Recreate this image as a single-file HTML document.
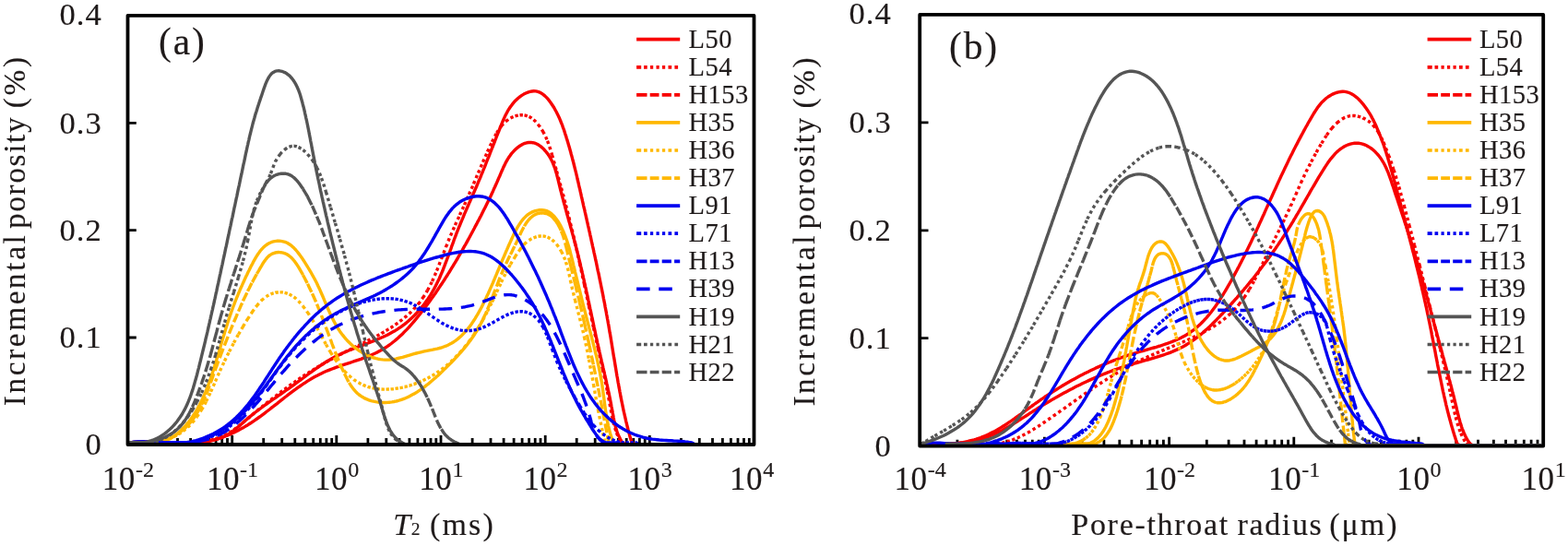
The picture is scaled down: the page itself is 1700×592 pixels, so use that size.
<!DOCTYPE html>
<html><head><meta charset="utf-8"><title>Incremental porosity</title><style>html,body{margin:0;padding:0;background:#fff;width:1700px;height:592px;overflow:hidden}</style></head><body>
<svg width="1700" height="592" viewBox="0 0 1700 592" style="position:absolute;left:0;top:0">
<rect width="1700" height="592" fill="#fff"/>
<g font-family="'Liberation Serif', 'Times New Roman', serif" fill="#1f1a1a" stroke="#1f1a1a" stroke-width="0.15">
<path d="M138.5 366.0H147.8M138.5 249.7H147.8M138.5 133.4H147.8M172.6 481.1V475.1M192.5 481.1V475.1M206.6 481.1V475.1M217.6 481.1V475.1M226.6 481.1V475.1M234.1 481.1V475.1M240.7 481.1V475.1M246.5 481.1V475.1M251.7 481.1V472.1M285.7 481.1V475.1M305.7 481.1V475.1M319.8 481.1V475.1M330.8 481.1V475.1M339.7 481.1V475.1M347.3 481.1V475.1M353.9 481.1V475.1M359.7 481.1V475.1M364.8 481.1V472.1M398.9 481.1V475.1M418.8 481.1V475.1M433.0 481.1V475.1M443.9 481.1V475.1M452.9 481.1V475.1M460.5 481.1V475.1M467.0 481.1V475.1M472.8 481.1V475.1M478.0 481.1V472.1M512.1 481.1V475.1M532.0 481.1V475.1M546.1 481.1V475.1M557.1 481.1V475.1M566.1 481.1V475.1M573.6 481.1V475.1M580.2 481.1V475.1M586.0 481.1V475.1M591.2 481.1V472.1M625.2 481.1V475.1M645.2 481.1V475.1M659.3 481.1V475.1M670.3 481.1V475.1M679.2 481.1V475.1M686.8 481.1V475.1M693.4 481.1V475.1M699.2 481.1V475.1M704.3 481.1V472.1M738.4 481.1V475.1M758.3 481.1V475.1M772.5 481.1V475.1M783.4 481.1V475.1M792.4 481.1V475.1M800.0 481.1V475.1M806.5 481.1V475.1M812.3 481.1V475.1" stroke="#000" stroke-width="2.8" fill="none"/>
<path d="M997.2 366.6H1006.5M997.2 249.8H1006.5M997.2 132.9H1006.5M1037.9 482.7V476.7M1061.7 482.7V476.7M1078.6 482.7V476.7M1091.7 482.7V476.7M1102.4 482.7V476.7M1111.5 482.7V476.7M1119.3 482.7V476.7M1126.2 482.7V476.7M1132.4 482.7V473.7M1173.1 482.7V476.7M1196.9 482.7V476.7M1213.8 482.7V476.7M1226.9 482.7V476.7M1237.6 482.7V476.7M1246.7 482.7V476.7M1254.5 482.7V476.7M1261.4 482.7V476.7M1267.6 482.7V473.7M1308.3 482.7V476.7M1332.1 482.7V476.7M1349.0 482.7V476.7M1362.1 482.7V476.7M1372.8 482.7V476.7M1381.9 482.7V476.7M1389.7 482.7V476.7M1396.6 482.7V476.7M1402.8 482.7V473.7M1443.5 482.7V476.7M1467.3 482.7V476.7M1484.2 482.7V476.7M1497.3 482.7V476.7M1508.0 482.7V476.7M1517.1 482.7V476.7M1524.9 482.7V476.7M1531.8 482.7V476.7M1538.0 482.7V473.7M1578.7 482.7V476.7M1602.5 482.7V476.7M1619.4 482.7V476.7M1632.5 482.7V476.7M1643.2 482.7V476.7M1652.3 482.7V476.7M1660.1 482.7V476.7M1667.0 482.7V476.7" stroke="#000" stroke-width="2.8" fill="none"/>
<path d="M140.0 480.0L142.5 479.9L145.0 479.8L147.5 479.7L150.0 479.6L152.5 479.6L155.0 479.6L157.5 479.6L160.0 479.6L162.5 479.6L165.0 479.6L167.5 479.7L170.1 479.7L172.6 479.8L175.1 479.9L177.6 479.9L180.1 480.0L182.6 480.0L185.1 480.0L187.7 480.0L190.2 480.0L192.7 480.0L195.2 480.0L197.8 480.0L200.3 480.0L202.8 480.0L205.3 480.0L207.8 479.9L210.4 479.8L212.9 479.7L215.4 479.5L218.0 479.2L220.5 479.0L223.0 478.7L225.5 478.3L227.9 477.9L230.4 477.4L232.8 476.8L235.2 476.1L237.5 475.4L239.8 474.6L242.1 473.6L244.2 472.6L246.4 471.4L248.5 470.2L250.5 468.8L252.5 467.4L254.5 465.9L256.4 464.3L258.3 462.7L260.2 461.1L262.1 459.4L264.0 457.8L265.9 456.1L267.8 454.4L269.7 452.8L271.7 451.2L273.6 449.6L275.6 448.0L277.6 446.5L279.6 445.0L281.6 443.5L283.6 442.0L285.6 440.5L287.6 439.0L289.7 437.5L291.7 436.1L293.8 434.7L295.8 433.2L297.9 431.8L300.0 430.3L302.0 428.9L304.1 427.5L306.1 426.1L308.2 424.6L310.2 423.2L312.3 421.8L314.3 420.3L316.4 418.9L318.4 417.4L320.4 415.9L322.4 414.4L324.5 412.9L326.5 411.5L328.5 410.0L330.5 408.5L332.5 407.0L334.5 405.5L336.5 404.0L338.5 402.6L340.6 401.1L342.6 399.7L344.7 398.3L346.7 396.9L348.8 395.5L350.9 394.1L353.0 392.8L355.1 391.5L357.3 390.2L359.4 389.0L361.6 387.8L363.8 386.6L366.1 385.5L368.3 384.4L370.6 383.3L372.9 382.3L375.3 381.3L377.6 380.3L379.9 379.3L382.3 378.4L384.7 377.5L387.1 376.6L389.4 375.7L391.8 374.8L394.2 373.9L396.6 373.0L399.0 372.0L401.4 371.1L403.7 370.2L406.1 369.3L408.4 368.3L410.8 367.3L413.1 366.3L415.4 365.3L417.6 364.2L419.9 363.2L422.1 362.0L424.3 360.8L426.5 359.6L428.6 358.4L430.7 357.1L432.8 355.7L434.8 354.3L436.8 352.8L438.8 351.3L440.7 349.8L442.6 348.2L444.4 346.6L446.2 344.9L448.0 343.2L449.8 341.5L451.5 339.7L453.2 337.9L454.8 336.0L456.4 334.1L458.0 332.2L459.5 330.3L461.0 328.3L462.4 326.3L463.9 324.2L465.2 322.2L466.6 320.1L467.9 318.0L469.1 315.8L470.4 313.6L471.5 311.5L472.7 309.2L473.8 307.0L474.9 304.8L476.0 302.5L477.0 300.2L478.0 297.9L479.0 295.6L480.0 293.3L480.9 290.9L481.8 288.6L482.7 286.2L483.6 283.9L484.5 281.5L485.4 279.1L486.3 276.7L487.2 274.4L488.0 272.0L488.9 269.6L489.7 267.2L490.6 264.8L491.5 262.4L492.3 260.0L493.2 257.7L494.1 255.3L495.0 252.9L495.9 250.6L496.9 248.2L497.8 245.9L498.8 243.5L499.7 241.2L500.7 238.9L501.7 236.6L502.7 234.2L503.6 231.9L504.6 229.6L505.6 227.3L506.6 225.0L507.6 222.7L508.6 220.4L509.6 218.2L510.6 215.9L511.6 213.6L512.6 211.3L513.6 209.0L514.6 206.7L515.6 204.5L516.6 202.2L517.6 199.9L518.5 197.6L519.5 195.3L520.5 193.1L521.4 190.8L522.3 188.5L523.3 186.2L524.2 183.9L525.2 181.6L526.1 179.3L527.0 177.0L527.9 174.7L528.8 172.4L529.8 170.1L530.7 167.8L531.6 165.5L532.5 163.2L533.4 160.8L534.4 158.5L535.3 156.2L536.2 153.8L537.1 151.5L538.0 149.1L539.0 146.7L539.9 144.4L540.9 142.0L541.8 139.6L542.7 137.2L543.7 134.8L544.7 132.4L545.7 130.0L546.8 127.6L547.9 125.3L549.1 123.0L550.3 120.7L551.6 118.5L553.1 116.3L554.6 114.2L556.2 112.1L557.9 110.1L559.8 108.3L561.7 106.5L563.7 104.9L565.8 103.4L567.9 102.1L570.1 101.0L572.3 100.1L574.5 99.4L576.7 99.0L578.8 98.8L581.0 98.9L583.1 99.4L585.1 100.1L587.1 101.2L589.1 102.6L590.9 104.1L592.7 105.9L594.5 107.9L596.1 110.0L597.7 112.2L599.2 114.5L600.7 116.8L602.0 119.2L603.3 121.5L604.5 123.9L605.6 126.3L606.7 128.6L607.7 131.0L608.6 133.3L609.6 135.7L610.4 138.1L611.3 140.5L612.1 142.9L612.8 145.2L613.6 147.6L614.3 150.0L615.1 152.4L615.8 154.8L616.5 157.2L617.2 159.6L617.9 162.0L618.6 164.4L619.2 166.9L619.9 169.3L620.5 171.7L621.1 174.1L621.8 176.5L622.4 179.0L623.0 181.4L623.6 183.8L624.2 186.2L624.8 188.7L625.4 191.1L625.9 193.5L626.5 196.0L627.1 198.4L627.6 200.9L628.2 203.3L628.8 205.7L629.3 208.2L629.9 210.6L630.4 213.1L631.0 215.5L631.5 217.9L632.1 220.4L632.6 222.8L633.2 225.3L633.8 227.7L634.3 230.1L634.9 232.6L635.4 235.0L636.0 237.5L636.5 239.9L637.1 242.4L637.6 244.8L638.2 247.2L638.7 249.7L639.3 252.1L639.8 254.6L640.4 257.0L640.9 259.5L641.4 261.9L642.0 264.4L642.5 266.8L643.1 269.3L643.6 271.7L644.1 274.1L644.7 276.6L645.2 279.0L645.7 281.5L646.3 283.9L646.8 286.4L647.3 288.8L647.8 291.3L648.3 293.8L648.9 296.2L649.4 298.7L649.9 301.1L650.4 303.6L650.9 306.0L651.4 308.5L651.9 311.0L652.4 313.4L652.9 315.9L653.4 318.3L653.9 320.8L654.3 323.3L654.8 325.7L655.3 328.2L655.8 330.7L656.2 333.1L656.7 335.6L657.2 338.1L657.6 340.6L658.1 343.0L658.5 345.5L659.0 348.0L659.4 350.5L659.9 352.9L660.3 355.4L660.7 357.9L661.1 360.4L661.6 362.9L662.0 365.3L662.4 367.8L662.8 370.3L663.2 372.8L663.6 375.3L664.0 377.8L664.4 380.3L664.8 382.7L665.2 385.2L665.6 387.7L666.1 390.2L666.5 392.7L666.9 395.2L667.3 397.6L667.7 400.1L668.1 402.6L668.5 405.1L668.9 407.5L669.4 410.0L669.8 412.5L670.2 415.0L670.7 417.4L671.1 419.9L671.6 422.3L672.0 424.8L672.5 427.2L672.9 429.7L673.4 432.1L673.9 434.6L674.4 437.0L674.9 439.4L675.4 441.9L675.9 444.3L676.4 446.7L677.0 449.1L677.5 451.5L678.1 453.9L678.6 456.3L679.2 458.7L679.8 461.1L680.4 463.5L681.0 465.9L681.7 468.3L682.3 470.6L682.9 473.0L683.6 475.3L684.3 477.7L685.0 480.0L688.0 481.6L816.0 481.6" stroke="#f80000" stroke-width="3.4" fill="none" stroke-linejoin="round"/>
<path d="M140.0 480.0L142.5 479.9L143.5 479.8M143.5 479.8L145.0 479.7L147.5 479.7L148.5 479.6M148.5 479.6L150.0 479.6L152.5 479.6L153.5 479.5M153.5 479.5L155.0 479.5L157.5 479.5L158.5 479.5M158.5 479.5L160.0 479.6L162.5 479.6L163.5 479.6M163.5 479.6L165.0 479.6L167.5 479.7L168.5 479.7M168.5 479.7L170.0 479.7L172.6 479.8L173.5 479.8M173.5 479.8L175.1 479.9L177.6 479.9L178.5 479.9M178.5 479.9L180.1 480.0L182.7 480.0L183.5 480.0M183.5 480.0L185.2 480.0L187.7 480.0L188.5 480.0M188.5 480.0L190.2 480.0L192.7 480.0L193.5 480.0M193.5 480.0L195.3 480.0L197.8 480.0L198.5 480.0M198.5 480.0L200.3 480.0L202.8 480.0L203.5 480.0M203.5 480.0L205.3 479.9L207.8 479.7L208.5 479.7M208.5 479.7L210.3 479.6L212.8 479.4L213.5 479.3M213.5 479.3L215.3 479.1L217.8 478.9L218.5 478.8M218.5 478.8L220.2 478.5L222.7 478.2L223.5 478.0M223.5 478.0L225.1 477.7L227.6 477.3L228.5 477.0M228.5 477.0L230.0 476.7L232.4 476.1L233.5 475.7M233.5 475.7L234.7 475.4L237.0 474.6L238.5 474.1M238.5 474.1L239.3 473.8L241.6 472.8L243.5 471.9M243.5 471.9L243.8 471.8L246.0 470.7L248.1 469.5L248.5 469.2M248.5 469.2L250.2 468.2L252.3 466.8L253.5 466.0M253.5 466.0L254.3 465.4L256.3 463.9L258.3 462.3L258.5 462.2M258.5 462.2L260.3 460.8L262.3 459.2L263.5 458.1M263.5 458.1L264.2 457.5L266.2 455.9L268.1 454.2L268.5 453.9M268.5 453.9L270.1 452.6L272.0 451.0L273.5 449.7M273.5 449.7L273.9 449.4L275.9 447.7L277.8 446.1L278.5 445.6M278.5 445.6L279.8 444.5L281.7 442.9L283.5 441.5M283.5 441.5L283.7 441.4L285.6 439.8L287.6 438.2L288.5 437.5M288.5 437.5L289.5 436.6L291.5 435.1L293.4 433.5L293.5 433.5M293.5 433.5L295.4 432.0L297.4 430.5L298.5 429.6M298.5 429.6L299.3 429.0L301.3 427.4L303.3 425.9L303.5 425.8M303.5 425.8L305.3 424.4L307.3 423.0L308.5 422.1M308.5 422.1L309.3 421.5L311.3 420.0L313.3 418.6L313.5 418.4M313.5 418.4L315.3 417.1L317.3 415.7L318.5 414.9M318.5 414.9L319.4 414.3L321.4 412.8L323.4 411.4L323.5 411.4M323.5 411.4L325.5 410.0L327.5 408.7L328.5 408.0M328.5 408.0L329.6 407.3L331.7 405.9L333.5 404.7M333.5 404.7L333.8 404.6L335.9 403.2L338.0 401.9L338.5 401.6M338.5 401.6L340.1 400.6L342.2 399.3L343.5 398.5M343.5 398.5L344.3 398.0L346.5 396.7L348.5 395.5M348.5 395.5L348.6 395.4L350.8 394.2L353.0 392.9L353.5 392.6M353.5 392.6L355.2 391.7L357.4 390.5L358.5 389.9M358.5 389.9L359.6 389.3L361.8 388.1L363.5 387.2M363.5 387.2L364.0 386.9L366.3 385.7L368.5 384.6M368.5 384.6L368.5 384.6L370.8 383.4L373.1 382.3L373.5 382.0M373.5 382.0L375.3 381.1L377.6 380.0L378.5 379.5M378.5 379.5L379.9 378.9L382.2 377.7L383.5 377.1M383.5 377.1L384.5 376.6L386.7 375.5L388.5 374.6M388.5 374.6L389.0 374.3L391.3 373.2L393.5 372.1M393.5 372.1L393.6 372.1L395.8 370.9L398.1 369.8L398.5 369.6M398.5 369.6L400.3 368.6L402.6 367.4L403.5 367.0M403.5 367.0L404.8 366.3L407.0 365.1L408.5 364.3M408.5 364.3L409.2 363.9L411.4 362.7L413.5 361.5M413.5 361.5L413.6 361.4L415.8 360.2L417.9 358.9L418.5 358.5M418.5 358.5L420.0 357.6L422.1 356.3L423.5 355.4M423.5 355.4L424.2 355.0L426.3 353.6L428.3 352.2L428.5 352.1M428.5 352.1L430.3 350.8L432.3 349.4L433.5 348.5M433.5 348.5L434.2 347.9L436.1 346.5L438.0 344.9L438.5 344.5M438.5 344.5L439.9 343.4L441.7 341.8L443.5 340.2L443.5 340.2M443.5 340.2L445.3 338.5L447.0 336.8L448.5 335.3M448.5 335.3L448.6 335.1L450.3 333.3L451.9 331.5L453.4 329.7L453.5 329.6M453.5 329.6L455.0 327.8L456.4 325.8L457.8 323.8L458.5 322.9M458.5 322.9L459.2 321.8L460.6 319.7L461.8 317.6L463.1 315.5L463.5 314.7M463.5 314.7L464.3 313.3L465.5 311.0L466.6 308.8L467.8 306.5L468.5 305.0M468.5 305.0L468.9 304.2L469.9 301.9L471.0 299.5L472.0 297.1L473.0 294.8L473.5 293.5M473.5 293.5L474.0 292.4L474.9 289.9L475.9 287.5L476.8 285.1L477.8 282.7L478.5 280.8M478.5 280.8L478.7 280.2L479.6 277.8L480.6 275.4L481.5 273.0L482.4 270.5L483.3 268.1L483.5 267.7M483.5 267.7L484.3 265.8L485.2 263.4L486.2 261.0L487.1 258.7L488.1 256.4L488.5 255.5M488.5 255.5L489.1 254.1L490.1 251.8L491.1 249.5L492.1 247.2L493.1 245.0L493.5 244.1M493.5 244.1L494.1 242.7L495.1 240.5L496.1 238.2L497.2 236.0L498.2 233.8L498.5 233.1M498.5 233.1L499.2 231.5L500.2 229.3L501.2 227.1L502.2 224.9L503.3 222.6L503.5 222.1M503.5 222.1L504.3 220.4L505.3 218.2L506.3 215.9L507.3 213.7L508.3 211.5L508.5 210.9M508.5 210.9L509.2 209.2L510.2 206.9L511.2 204.7L512.2 202.4L513.1 200.1L513.5 199.3M513.5 199.3L514.1 197.8L515.1 195.5L516.1 193.2L517.0 190.9L518.0 188.6L518.5 187.5M518.5 187.5L519.0 186.3L520.0 184.0L521.0 181.7L522.0 179.3L523.0 177.0L523.5 175.8M523.5 175.8L524.0 174.7L525.0 172.3L526.0 170.0L527.1 167.7L528.1 165.3L528.5 164.5M528.5 164.5L529.2 163.0L530.3 160.6L531.4 158.2L532.5 155.9L533.5 153.8M533.5 153.8L533.6 153.5L534.8 151.2L536.0 148.8L537.2 146.5L538.5 144.3L538.5 144.2M538.5 144.2L539.8 142.1L541.2 140.0L542.6 137.9L543.5 136.8M543.5 136.8L544.2 136.0L545.8 134.1L547.6 132.4L548.5 131.6M548.5 131.6L549.4 130.8L551.3 129.4L553.4 128.1L553.5 128.0M553.5 128.0L555.6 127.0L557.9 126.1L558.5 125.9M558.5 125.9L560.2 125.4L562.6 124.9L563.5 124.8M563.5 124.8L565.0 124.7L567.3 124.7L568.5 124.9M568.5 124.9L569.6 125.1L571.9 125.8L573.5 126.5M573.5 126.5L574.1 126.8L576.2 128.0L578.2 129.5L578.5 129.8M578.5 129.8L580.1 131.2L581.9 133.1L583.5 135.0M583.5 135.0L583.6 135.2L585.2 137.3L586.8 139.6L588.2 141.8L588.5 142.4M588.5 142.4L589.5 144.1L590.7 146.4L591.8 148.7L592.8 151.1L593.5 152.8M593.5 152.8L593.8 153.4L594.6 155.7L595.5 158.1L596.2 160.4L597.0 162.8L597.7 165.2L598.4 167.5L598.5 167.9M598.5 167.9L599.1 169.9L599.8 172.3L600.4 174.7L601.1 177.0L601.8 179.4L602.5 181.8L603.1 184.2L603.5 185.5M603.5 185.5L603.8 186.6L604.5 189.0L605.1 191.4L605.8 193.8L606.5 196.2L607.1 198.6L607.8 201.1L608.4 203.5L608.5 203.7M608.5 203.7L609.1 205.9L609.8 208.3L610.4 210.7L611.1 213.1L611.7 215.6L612.3 218.0L613.0 220.4L613.5 222.5M613.5 222.5L613.6 222.8L614.2 225.3L614.9 227.7L615.5 230.1L616.1 232.6L616.7 235.0L617.3 237.4L617.9 239.9L618.5 242.2M618.5 242.2L618.5 242.3L619.1 244.8L619.7 247.2L620.3 249.6L620.9 252.1L621.5 254.5L622.0 257.0L622.6 259.4L623.2 261.9L623.5 263.3M623.5 263.3L623.7 264.3L624.3 266.8L624.9 269.2L625.4 271.7L626.0 274.1L626.5 276.6L627.1 279.0L627.6 281.5L628.2 283.9L628.5 285.5M628.5 285.5L628.7 286.4L629.2 288.8L629.8 291.3L630.3 293.7L630.8 296.2L631.4 298.6L631.9 301.1L632.4 303.5L633.0 306.0L633.5 308.4L633.5 308.5M633.5 308.5L634.0 310.9L634.5 313.3L635.1 315.8L635.6 318.2L636.1 320.7L636.6 323.1L637.1 325.6L637.7 328.0L638.2 330.5L638.5 331.9M638.5 331.9L638.7 332.9L639.2 335.4L639.8 337.8L640.3 340.3L640.8 342.7L641.3 345.2L641.9 347.6L642.4 350.1L642.9 352.5L643.4 355.0L643.5 355.3M643.5 355.3L644.0 357.4L644.5 359.8L645.0 362.3L645.6 364.7L646.1 367.2L646.6 369.6L647.2 372.0L647.7 374.5L648.3 376.9L648.5 378.0M648.5 378.0L648.8 379.4L649.4 381.8L649.9 384.2L650.4 386.7L651.0 389.1L651.5 391.6L652.1 394.0L652.6 396.4L653.1 398.9L653.5 400.5M653.5 400.5L653.7 401.3L654.2 403.8L654.7 406.2L655.3 408.7L655.8 411.2L656.3 413.6L656.8 416.1L657.3 418.5L657.8 421.0L658.3 423.5L658.5 424.4M658.5 424.4L658.8 426.0L659.3 428.5L659.8 431.0L660.2 433.5L660.7 436.0L661.2 438.5L661.6 441.0L662.1 443.5L662.5 446.0L663.0 448.5L663.5 451.0L663.5 451.0M663.5 451.0L664.0 453.4L664.5 455.9L665.1 458.3L665.7 460.7L666.4 463.0L667.1 465.3L667.9 467.6L668.5 469.2M668.5 469.2L668.7 469.8L669.6 472.0L670.6 474.1L671.6 476.1L672.8 478.1L673.5 479.2M673.5 479.2L674.0 480.0L677.0 481.6L678.5 481.6M678.5 481.6L683.5 481.6M683.5 481.6L688.5 481.6M688.5 481.6L693.5 481.6M693.5 481.6L698.5 481.6M698.5 481.6L703.5 481.6M703.5 481.6L708.5 481.6M708.5 481.6L713.5 481.6M713.5 481.6L718.5 481.6M718.5 481.6L723.5 481.6M723.5 481.6L728.5 481.6M728.5 481.6L733.5 481.6M733.5 481.6L738.5 481.6M738.5 481.6L743.5 481.6M743.5 481.6L748.5 481.6M748.5 481.6L753.5 481.6M753.5 481.6L758.5 481.6M758.5 481.6L763.5 481.6M763.5 481.6L768.5 481.6M768.5 481.6L773.5 481.6M773.5 481.6L778.5 481.6M778.5 481.6L783.5 481.6M783.5 481.6L788.5 481.6M788.5 481.6L793.5 481.6M793.5 481.6L798.5 481.6M798.5 481.6L803.5 481.6M803.5 481.6L808.5 481.6M808.5 481.6L813.5 481.6M813.5 481.6L816.0 481.6" stroke="#f80000" stroke-width="3.4" fill="none" stroke-linejoin="round" stroke-dasharray="3.4 3.3"/>
<path d="M140.0 480.0L142.4 479.7L144.9 479.4L147.4 479.2L149.8 479.0L152.3 478.9L154.8 478.9L157.3 478.9L159.9 479.0L162.4 479.0L164.9 479.1L167.4 479.3L170.0 479.4L172.5 479.6L175.1 479.8L177.6 480.0L180.2 480.0L182.7 480.0L185.2 480.0L187.8 480.0L190.3 480.0L192.9 480.0L195.4 480.0L197.9 480.0L200.5 480.0L203.0 480.0L205.5 480.0L208.0 480.0L210.5 480.0L213.0 480.0L215.4 480.0L217.9 479.9L220.4 479.5L222.8 479.1L225.2 478.6L227.6 478.1L230.0 477.5L232.4 476.9L234.8 476.2L237.2 475.5L239.5 474.7L241.8 473.9L244.2 473.0L246.5 472.1L248.7 471.2L251.0 470.2L253.2 469.1L255.5 468.1L257.7 467.0L259.8 465.8L262.0 464.6L264.2 463.4L266.3 462.1L268.4 460.9L270.5 459.5L272.6 458.2L274.6 456.8L276.7 455.4L278.7 454.0L280.8 452.5L282.8 451.1L284.8 449.6L286.8 448.1L288.8 446.5L290.8 445.0L292.8 443.5L294.7 441.9L296.7 440.4L298.7 438.8L300.7 437.3L302.7 435.7L304.6 434.1L306.6 432.6L308.6 431.0L310.6 429.5L312.6 427.9L314.6 426.4L316.6 424.9L318.6 423.4L320.7 421.9L322.7 420.4L324.8 419.0L326.8 417.6L328.9 416.2L331.0 414.8L333.1 413.4L335.2 412.1L337.4 410.8L339.5 409.6L341.7 408.3L343.9 407.2L346.2 406.0L348.4 404.9L350.7 403.8L353.0 402.8L355.3 401.8L357.7 400.9L360.0 400.0L362.4 399.1L364.8 398.2L367.2 397.4L369.6 396.5L372.0 395.7L374.4 394.9L376.8 394.1L379.3 393.3L381.7 392.5L384.1 391.7L386.5 390.9L388.9 390.1L391.3 389.3L393.6 388.4L396.0 387.5L398.3 386.6L400.6 385.7L402.9 384.7L405.2 383.7L407.4 382.7L409.7 381.6L411.8 380.4L414.0 379.3L416.1 378.0L418.2 376.7L420.2 375.4L422.2 374.0L424.2 372.5L426.1 371.0L428.0 369.5L429.9 367.9L431.8 366.3L433.6 364.6L435.4 362.9L437.2 361.2L438.9 359.4L440.7 357.6L442.4 355.8L444.1 354.0L445.7 352.1L447.4 350.2L449.0 348.3L450.6 346.4L452.2 344.4L453.8 342.4L455.4 340.5L456.9 338.5L458.5 336.5L460.0 334.5L461.5 332.5L463.0 330.5L464.5 328.4L466.0 326.4L467.5 324.3L469.0 322.3L470.4 320.2L471.9 318.2L473.3 316.1L474.7 314.0L476.1 311.9L477.5 309.8L478.9 307.7L480.3 305.6L481.7 303.5L483.0 301.4L484.4 299.3L485.7 297.1L487.1 295.0L488.4 292.9L489.7 290.7L491.0 288.6L492.3 286.4L493.6 284.3L494.9 282.1L496.2 280.0L497.4 277.8L498.7 275.6L499.9 273.5L501.2 271.3L502.4 269.1L503.6 266.9L504.9 264.8L506.1 262.6L507.3 260.4L508.5 258.2L509.7 256.0L510.9 253.8L512.0 251.7L513.2 249.5L514.4 247.3L515.5 245.1L516.7 242.9L517.8 240.7L519.0 238.6L520.1 236.4L521.3 234.2L522.4 232.0L523.5 229.8L524.6 227.6L525.7 225.4L526.8 223.2L527.9 220.9L529.0 218.7L530.1 216.5L531.2 214.2L532.3 212.0L533.3 209.7L534.4 207.4L535.4 205.1L536.5 202.8L537.5 200.5L538.6 198.1L539.6 195.8L540.6 193.4L541.7 191.0L542.7 188.6L543.7 186.2L544.8 183.8L545.8 181.4L547.0 179.1L548.1 176.7L549.4 174.4L550.7 172.2L552.1 170.0L553.6 167.9L555.2 165.8L557.0 163.9L558.8 162.0L560.7 160.4L562.7 158.8L564.8 157.5L566.9 156.3L569.0 155.4L571.2 154.8L573.3 154.5L575.5 154.4L577.6 154.7L579.7 155.2L581.8 156.0L583.8 157.1L585.7 158.4L587.6 159.9L589.4 161.6L591.1 163.5L592.7 165.4L594.3 167.5L595.7 169.7L597.0 172.0L598.3 174.3L599.3 176.7L600.3 179.1L601.2 181.5L602.1 184.0L602.8 186.5L603.6 189.0L604.2 191.5L604.9 194.0L605.5 196.5L606.1 199.0L606.7 201.5L607.3 204.0L607.9 206.5L608.6 209.0L609.2 211.5L609.8 213.9L610.5 216.4L611.1 218.8L611.8 221.2L612.5 223.6L613.1 226.1L613.8 228.5L614.4 230.9L615.1 233.3L615.8 235.7L616.4 238.1L617.1 240.5L617.8 242.8L618.4 245.2L619.1 247.6L619.8 250.0L620.4 252.4L621.1 254.8L621.7 257.2L622.4 259.6L623.0 262.0L623.6 264.4L624.3 266.8L624.9 269.2L625.5 271.6L626.1 274.0L626.7 276.4L627.3 278.8L627.9 281.3L628.5 283.7L629.1 286.1L629.6 288.6L630.2 291.0L630.8 293.4L631.3 295.9L631.9 298.3L632.4 300.8L633.0 303.2L633.5 305.7L634.1 308.1L634.6 310.6L635.2 313.0L635.7 315.5L636.2 318.0L636.8 320.4L637.3 322.9L637.8 325.3L638.4 327.8L638.9 330.3L639.4 332.7L639.9 335.2L640.5 337.7L641.0 340.1L641.5 342.6L642.0 345.0L642.6 347.5L643.1 350.0L643.6 352.4L644.1 354.9L644.7 357.4L645.2 359.8L645.7 362.3L646.2 364.7L646.8 367.2L647.3 369.6L647.8 372.1L648.4 374.5L648.9 377.0L649.5 379.4L650.0 381.8L650.6 384.3L651.1 386.7L651.7 389.1L652.2 391.6L652.8 394.0L653.4 396.4L653.9 398.9L654.5 401.3L655.1 403.7L655.6 406.1L656.2 408.6L656.7 411.0L657.3 413.4L657.8 415.9L658.4 418.3L658.9 420.8L659.4 423.2L660.0 425.7L660.5 428.1L661.0 430.6L661.5 433.1L662.0 435.5L662.5 438.0L662.9 440.5L663.4 443.0L663.9 445.5L664.3 448.1L664.8 450.6L665.2 453.1L665.7 455.6L666.3 458.0L666.8 460.5L667.4 462.9L668.1 465.2L668.8 467.5L669.6 469.8L670.5 472.0L671.5 474.1L672.5 476.1L673.7 478.1L675.0 480.0L678.0 481.6L816.0 481.6" stroke="#f80000" stroke-width="3.4" fill="none" stroke-linejoin="round"/>
<path d="M140.0 480.0L142.4 479.9L144.8 479.8L147.3 479.9L149.9 479.9L152.4 480.0L155.0 480.0L157.6 480.0L160.2 480.0L162.8 480.0L165.4 480.0L167.9 480.0L170.4 480.0L172.9 479.6L175.3 479.1L177.7 478.4L180.0 477.6L182.2 476.6L184.4 475.5L186.5 474.3L188.5 473.0L190.5 471.5L192.4 470.0L194.3 468.4L196.2 466.7L197.9 465.0L199.6 463.2L201.3 461.3L202.9 459.4L204.5 457.5L206.0 455.6L207.4 453.6L208.9 451.5L210.2 449.5L211.6 447.4L212.8 445.3L214.1 443.1L215.3 440.9L216.5 438.7L217.6 436.5L218.7 434.3L219.8 432.0L220.8 429.7L221.8 427.4L222.8 425.1L223.7 422.8L224.7 420.4L225.6 418.0L226.5 415.7L227.3 413.3L228.2 410.9L229.0 408.5L229.8 406.1L230.6 403.6L231.4 401.2L232.2 398.8L232.9 396.4L233.7 394.0L234.4 391.5L235.1 389.1L235.9 386.7L236.6 384.2L237.3 381.8L238.0 379.4L238.7 377.0L239.4 374.5L240.1 372.1L240.8 369.7L241.5 367.3L242.2 364.9L243.0 362.5L243.7 360.1L244.4 357.7L245.1 355.4L245.9 353.0L246.6 350.7L247.4 348.3L248.1 346.0L248.9 343.7L249.7 341.4L250.5 339.1L251.3 336.8L252.2 334.5L253.0 332.2L253.9 329.9L254.7 327.7L255.6 325.4L256.5 323.1L257.5 320.8L258.4 318.5L259.4 316.3L260.3 314.0L261.3 311.7L262.4 309.4L263.4 307.1L264.5 304.7L265.5 302.4L266.6 300.1L267.8 297.7L268.9 295.3L270.1 293.0L271.3 290.5L272.5 288.1L273.8 285.7L275.0 283.3L276.4 280.9L277.7 278.6L279.2 276.3L280.7 274.1L282.2 272.0L283.8 270.1L285.5 268.3L287.3 266.7L289.2 265.3L291.2 264.0L293.3 263.0L295.5 262.2L297.7 261.7L300.0 261.3L302.3 261.3L304.5 261.4L306.8 261.8L309.0 262.4L311.2 263.3L313.2 264.5L315.2 265.8L317.1 267.4L318.9 269.1L320.7 271.0L322.4 273.0L324.0 275.1L325.6 277.2L327.2 279.4L328.7 281.7L330.1 283.9L331.5 286.1L332.9 288.3L334.2 290.5L335.5 292.7L336.8 294.8L338.0 297.0L339.2 299.1L340.4 301.3L341.6 303.4L342.7 305.6L343.8 307.8L344.8 310.0L345.9 312.2L346.9 314.4L347.9 316.7L348.9 319.0L349.9 321.3L350.9 323.6L351.8 325.9L352.8 328.2L353.8 330.5L354.8 332.8L355.7 335.1L356.8 337.4L357.8 339.7L358.9 341.9L359.9 344.2L361.1 346.4L362.2 348.7L363.4 350.8L364.6 353.0L365.9 355.2L367.2 357.3L368.6 359.4L370.1 361.4L371.6 363.4L373.2 365.4L374.8 367.3L376.5 369.2L378.3 371.0L380.1 372.8L381.9 374.5L383.9 376.1L385.8 377.7L387.9 379.2L389.9 380.6L392.0 381.9L394.2 383.2L396.3 384.4L398.6 385.4L400.8 386.4L403.1 387.3L405.4 388.0L407.7 388.7L410.0 389.2L412.4 389.6L414.8 389.9L417.1 390.1L419.5 390.1L421.9 390.0L424.3 389.8L426.8 389.5L429.2 389.1L431.6 388.5L434.0 387.9L436.5 387.3L438.9 386.6L441.4 385.9L443.9 385.2L446.4 384.4L448.9 383.7L451.4 383.0L453.9 382.4L456.4 381.8L459.0 381.2L461.5 380.7L464.0 380.2L466.6 379.7L469.1 379.2L471.5 378.6L474.0 378.1L476.4 377.5L478.8 376.8L481.1 376.0L483.4 375.2L485.6 374.2L487.8 373.1L489.8 372.0L491.9 370.7L493.9 369.3L495.8 367.9L497.6 366.4L499.5 364.8L501.2 363.1L502.9 361.3L504.6 359.5L506.2 357.7L507.8 355.7L509.4 353.7L510.9 351.7L512.3 349.6L513.7 347.5L515.1 345.3L516.4 343.1L517.8 340.9L519.0 338.7L520.3 336.4L521.5 334.2L522.7 331.9L523.8 329.6L525.0 327.3L526.1 325.0L527.2 322.7L528.2 320.4L529.3 318.2L530.3 315.9L531.3 313.6L532.3 311.4L533.3 309.1L534.3 306.9L535.2 304.7L536.2 302.4L537.1 300.2L538.1 297.9L539.0 295.7L539.9 293.5L540.9 291.2L541.8 289.0L542.8 286.7L543.7 284.4L544.6 282.2L545.6 279.9L546.6 277.6L547.6 275.3L548.5 273.0L549.6 270.7L550.6 268.3L551.6 266.0L552.7 263.6L553.8 261.2L554.9 258.8L556.0 256.4L557.1 254.0L558.3 251.6L559.6 249.2L560.8 246.9L562.2 244.6L563.6 242.4L565.1 240.3L566.7 238.2L568.3 236.4L570.1 234.6L571.9 233.0L573.9 231.6L576.0 230.4L578.2 229.4L580.4 228.6L582.7 228.1L585.0 227.8L587.3 227.7L589.6 227.9L591.8 228.4L593.9 229.2L595.9 230.3L597.8 231.7L599.7 233.4L601.4 235.2L603.0 237.2L604.6 239.4L606.0 241.7L607.4 244.1L608.6 246.6L609.8 249.1L611.0 251.6L612.0 254.1L613.0 256.5L613.9 259.0L614.7 261.4L615.5 263.8L616.3 266.2L617.0 268.6L617.7 271.0L618.3 273.4L618.9 275.8L619.5 278.1L620.1 280.5L620.7 282.9L621.3 285.3L621.8 287.6L622.4 290.0L623.0 292.4L623.5 294.8L624.1 297.2L624.7 299.7L625.3 302.1L625.9 304.5L626.5 306.9L627.1 309.3L627.7 311.8L628.3 314.2L628.9 316.6L629.5 319.1L630.1 321.5L630.7 324.0L631.3 326.4L631.9 328.8L632.5 331.3L633.1 333.7L633.8 336.2L634.4 338.6L635.0 341.0L635.6 343.5L636.3 345.9L636.9 348.4L637.5 350.8L638.2 353.2L638.8 355.6L639.5 358.1L640.1 360.5L640.7 362.9L641.4 365.3L642.0 367.8L642.6 370.2L643.2 372.6L643.8 375.0L644.4 377.4L645.0 379.9L645.6 382.3L646.2 384.7L646.8 387.2L647.4 389.6L647.9 392.0L648.4 394.5L649.0 396.9L649.5 399.3L650.0 401.8L650.5 404.3L650.9 406.7L651.4 409.2L651.8 411.7L652.3 414.1L652.7 416.6L653.0 419.1L653.4 421.6L653.7 424.1L654.1 426.6L654.4 429.1L654.8 431.6L655.1 434.1L655.4 436.6L655.7 439.1L656.1 441.6L656.4 444.1L656.8 446.6L657.2 449.0L657.6 451.5L658.0 454.0L658.4 456.4L658.9 458.9L659.4 461.3L660.0 463.7L660.6 466.1L661.2 468.4L661.8 470.8L662.6 473.1L663.3 475.4L664.1 477.7L665.0 480.0L668.0 481.6L816.0 481.6" stroke="#ffb800" stroke-width="3.4" fill="none" stroke-linejoin="round"/>
<path d="M140.0 480.0L142.5 480.0L143.5 480.0M143.5 480.0L145.0 480.0L147.6 480.0L148.5 480.0M148.5 480.0L150.1 480.0L152.6 480.0L153.5 480.0M153.5 480.0L155.2 480.0L157.7 480.0L158.5 480.0M158.5 480.0L160.2 480.0L162.8 480.0L163.5 480.0M163.5 480.0L165.3 480.0L167.8 480.0L168.5 479.9M168.5 479.9L170.2 479.7L172.7 479.2L173.5 479.0M173.5 479.0L175.1 478.6L177.5 477.9L178.5 477.6M178.5 477.6L179.8 477.1L182.2 476.3L183.5 475.8M183.5 475.8L184.5 475.4L186.7 474.4L188.5 473.5M188.5 473.5L188.9 473.3L191.1 472.2L193.2 471.0L193.5 470.8M193.5 470.8L195.3 469.7L197.3 468.4L198.5 467.5M198.5 467.5L199.2 466.9L201.1 465.4L202.9 463.8L203.5 463.3M203.5 463.3L204.7 462.2L206.4 460.5L208.1 458.7L208.5 458.2M208.5 458.2L209.7 456.9L211.2 455.0L212.7 453.0L213.5 451.9M213.5 451.9L214.1 451.0L215.5 449.0L216.9 446.9L218.2 444.7L218.5 444.3M218.5 444.3L219.5 442.6L220.8 440.4L222.0 438.1L223.2 435.9L223.5 435.2M223.5 435.2L224.3 433.6L225.5 431.3L226.6 428.9L227.7 426.6L228.5 424.8M228.5 424.8L228.7 424.2L229.8 421.9L230.8 419.5L231.9 417.2L232.9 414.8L233.5 413.5M233.5 413.5L234.0 412.4L235.0 410.1L236.0 407.7L237.0 405.4L238.1 403.1L238.5 402.2M238.5 402.2L239.1 400.8L240.2 398.5L241.2 396.3L242.3 394.0L243.3 391.8L243.5 391.4M243.5 391.4L244.4 389.5L245.5 387.3L246.6 385.1L247.7 382.9L248.5 381.3M248.5 381.3L248.8 380.7L249.9 378.6L251.0 376.4L252.2 374.2L253.3 372.1L253.5 371.7M253.5 371.7L254.5 369.9L255.7 367.7L256.8 365.6L258.0 363.4L258.5 362.6M258.5 362.6L259.3 361.3L260.5 359.2L261.7 357.0L263.0 354.9L263.5 354.0M263.5 354.0L264.3 352.7L265.6 350.6L266.9 348.4L268.3 346.2L268.5 345.9M268.5 345.9L269.7 344.1L271.1 341.9L272.5 339.7L273.5 338.3M273.5 338.3L274.0 337.5L275.6 335.3L277.1 333.2L278.5 331.4M278.5 331.4L278.8 331.1L280.4 329.1L282.2 327.1L283.5 325.8M283.5 325.8L284.0 325.3L285.9 323.7L287.8 322.1L288.5 321.7M288.5 321.7L289.8 320.8L292.0 319.6L293.5 318.9M293.5 318.9L294.2 318.6L296.4 317.9L298.5 317.4M298.5 317.4L298.7 317.3L301.1 317.0L303.4 316.9L303.5 316.9M303.5 316.9L305.8 316.9L308.1 317.3L308.5 317.4M308.5 317.4L310.4 317.8L312.7 318.6L313.5 319.0M313.5 319.0L314.9 319.7L317.0 320.9L318.5 322.0M318.5 322.0L319.1 322.4L321.1 324.0L323.0 325.9L323.5 326.4M323.5 326.4L324.9 327.8L326.6 329.8L328.4 331.9L328.5 332.1M328.5 332.1L330.0 334.0L331.6 336.2L333.1 338.3L333.5 338.8M333.5 338.8L334.6 340.4L336.0 342.6L337.4 344.7L338.5 346.5M338.5 346.5L338.7 346.9L340.0 349.0L341.2 351.1L342.4 353.3L343.5 355.1M343.5 355.1L343.6 355.4L344.8 357.5L346.0 359.7L347.1 361.8L348.3 364.0L348.5 364.3M348.5 364.3L349.5 366.1L350.6 368.3L351.8 370.4L353.0 372.6L353.5 373.5M353.5 373.5L354.2 374.7L355.4 376.9L356.7 379.1L358.0 381.2L358.5 382.1M358.5 382.1L359.3 383.4L360.7 385.6L362.1 387.7L363.5 389.8M363.5 389.8L363.5 389.8L365.0 391.9L366.5 394.0L368.1 396.0L368.5 396.5M368.5 396.5L369.7 398.0L371.3 399.9L373.0 401.8L373.5 402.4M373.5 402.4L374.7 403.6L376.4 405.4L378.2 407.1L378.5 407.3M378.5 407.3L380.1 408.7L382.0 410.3L383.5 411.4M383.5 411.4L383.9 411.8L385.9 413.1L387.9 414.4L388.5 414.8M388.5 414.8L390.0 415.6L392.1 416.7L393.5 417.3M393.5 417.3L394.3 417.7L396.6 418.6L398.5 419.3M398.5 419.3L398.8 419.4L401.2 420.0L403.5 420.6M403.5 420.6L403.5 420.6L405.9 421.1L408.4 421.5L408.5 421.5M408.5 421.5L410.8 421.8L413.3 422.0L413.5 422.0M413.5 422.0L415.8 422.1L418.3 422.1L418.5 422.1M418.5 422.1L420.9 422.0L423.4 421.9L423.5 421.9M423.5 421.9L426.0 421.7L428.5 421.4M428.5 421.4L428.5 421.4L431.1 421.0L433.5 420.6M433.5 420.6L433.6 420.6L436.2 420.1L438.5 419.5M438.5 419.5L438.7 419.5L441.2 418.9L443.5 418.2M443.5 418.2L443.7 418.2L446.2 417.4L448.5 416.6M448.5 416.6L448.6 416.6L451.0 415.7L453.4 414.8L453.5 414.7M453.5 414.7L455.7 413.8L458.0 412.8L458.5 412.6M458.5 412.6L460.3 411.7L462.5 410.6L463.5 410.1M463.5 410.1L464.8 409.5L466.9 408.2L468.5 407.3M468.5 407.3L469.1 407.0L471.2 405.7L473.3 404.3L473.5 404.2M473.5 404.2L475.3 403.0L477.3 401.5L478.5 400.7M478.5 400.7L479.3 400.1L481.3 398.6L483.2 397.0L483.5 396.8M483.5 396.8L485.1 395.5L486.9 393.8L488.5 392.4M488.5 392.4L488.8 392.2L490.6 390.5L492.4 388.8L493.5 387.7M493.5 387.7L494.1 387.0L495.8 385.3L497.5 383.5L498.5 382.4M498.5 382.4L499.2 381.6L500.8 379.8L502.4 377.9L503.5 376.6M503.5 376.6L504.0 375.9L505.6 374.0L507.1 372.0L508.5 370.2M508.5 370.2L508.6 370.0L510.1 368.0L511.5 366.0L513.0 363.9L513.5 363.1M513.5 363.1L514.4 361.9L515.7 359.8L517.1 357.6L518.4 355.5L518.5 355.4M518.5 355.4L519.7 353.4L521.0 351.2L522.3 349.0L523.5 346.9M523.5 346.9L523.5 346.9L524.8 344.7L526.0 342.4L527.1 340.2L528.3 338.0L528.5 337.6M528.5 337.6L529.4 335.8L530.5 333.5L531.6 331.3L532.7 329.0L533.5 327.4M533.5 327.4L533.8 326.8L534.9 324.5L535.9 322.2L537.0 320.0L538.0 317.7L538.5 316.7M538.5 316.7L539.1 315.4L540.1 313.2L541.2 310.9L542.3 308.7L543.3 306.4L543.5 306.0M543.5 306.0L544.4 304.1L545.5 301.9L546.6 299.6L547.7 297.4L548.5 295.9M548.5 295.9L548.9 295.2L550.0 292.9L551.2 290.7L552.4 288.5L553.5 286.6M553.5 286.6L553.7 286.3L554.9 284.1L556.2 282.0L557.6 279.8L558.5 278.3M558.5 278.3L558.9 277.6L560.3 275.5L561.8 273.3L563.3 271.2L563.5 270.9M563.5 270.9L564.8 269.1L566.4 267.0L568.1 265.1L568.5 264.7M568.5 264.7L570.0 263.3L571.9 261.6L573.5 260.5M573.5 260.5L574.0 260.2L576.2 258.9L578.5 257.8L578.5 257.8M578.5 257.8L580.8 257.0L583.1 256.3L583.5 256.3M583.5 256.3L585.5 256.0L587.8 255.9L588.5 256.0M588.5 256.0L590.1 256.1L592.4 256.7L593.5 257.1M593.5 257.1L594.5 257.5L596.6 258.7L598.5 260.0M598.5 260.0L598.6 260.1L600.5 261.7L602.3 263.6L603.5 265.0M603.5 265.0L604.0 265.6L605.6 267.8L607.1 270.1L608.4 272.4L608.5 272.6M608.5 272.6L609.7 274.8L610.8 277.2L611.9 279.6L612.8 282.0L613.5 284.1M613.5 284.1L613.6 284.5L614.4 286.9L615.1 289.3L615.7 291.7L616.3 294.0L616.8 296.4L617.4 298.8L617.9 301.2L618.4 303.6L618.5 304.1M618.5 304.1L618.9 306.0L619.4 308.5L620.0 310.9L620.5 313.3L621.1 315.7L621.7 318.1L622.3 320.5L622.9 322.9L623.5 325.3L623.5 325.4M623.5 325.4L624.1 327.8L624.7 330.2L625.4 332.6L626.0 335.1L626.6 337.5L627.2 339.9L627.9 342.4L628.5 344.8L628.5 344.9M628.5 344.9L629.1 347.2L629.7 349.7L630.3 352.1L630.9 354.6L631.5 357.0L632.1 359.4L632.7 361.9L633.2 364.3L633.5 365.6M633.5 365.6L633.8 366.8L634.3 369.3L634.8 371.7L635.4 374.2L635.9 376.6L636.4 379.1L636.9 381.5L637.4 384.0L637.9 386.5L638.3 388.9L638.5 389.7M638.5 389.7L638.8 391.4L639.3 393.9L639.7 396.3L640.2 398.8L640.7 401.3L641.1 403.7L641.6 406.2L642.0 408.7L642.5 411.1L642.9 413.6L643.3 416.1L643.5 416.9M643.5 416.9L643.8 418.5L644.2 421.0L644.7 423.5L645.1 425.9L645.6 428.4L646.0 430.9L646.4 433.3L646.9 435.8L647.4 438.3L647.8 440.7L648.3 443.2L648.5 444.4M648.5 444.4L648.7 445.6L649.2 448.1L649.7 450.6L650.2 453.0L650.7 455.5L651.2 457.9L651.7 460.4L652.2 462.9L652.7 465.3L653.2 467.8L653.5 469.1M653.5 469.1L653.8 470.2L654.3 472.7L654.9 475.1L655.4 477.6L656.0 480.0L658.5 481.3M658.5 481.3L659.0 481.6L663.5 481.6M663.5 481.6L668.5 481.6M668.5 481.6L673.5 481.6M673.5 481.6L678.5 481.6M678.5 481.6L683.5 481.6M683.5 481.6L688.5 481.6M688.5 481.6L693.5 481.6M693.5 481.6L698.5 481.6M698.5 481.6L703.5 481.6M703.5 481.6L708.5 481.6M708.5 481.6L713.5 481.6M713.5 481.6L718.5 481.6M718.5 481.6L723.5 481.6M723.5 481.6L728.5 481.6M728.5 481.6L733.5 481.6M733.5 481.6L738.5 481.6M738.5 481.6L743.5 481.6M743.5 481.6L748.5 481.6M748.5 481.6L753.5 481.6M753.5 481.6L758.5 481.6M758.5 481.6L763.5 481.6M763.5 481.6L768.5 481.6M768.5 481.6L773.5 481.6M773.5 481.6L778.5 481.6M778.5 481.6L783.5 481.6M783.5 481.6L788.5 481.6M788.5 481.6L793.5 481.6M793.5 481.6L798.5 481.6M798.5 481.6L803.5 481.6M803.5 481.6L808.5 481.6M808.5 481.6L813.5 481.6M813.5 481.6L816.0 481.6" stroke="#ffb800" stroke-width="3.4" fill="none" stroke-linejoin="round" stroke-dasharray="3.4 3.3"/>
<path d="M140.0 480.0L142.6 480.0L143.5 480.0M143.5 480.0L145.2 480.0L147.7 480.0L148.5 480.0M148.5 480.0L150.3 480.0L152.9 480.0L153.5 480.0M153.5 480.0L155.4 480.0L158.0 480.0L158.5 480.0M158.5 480.0L160.5 480.0L163.0 480.0L163.5 480.0M163.5 480.0L165.5 480.0L167.9 480.0L168.5 480.0M168.5 480.0L170.4 479.8L172.8 479.2L173.5 479.0M173.5 479.0L175.1 478.6L177.5 477.8L178.5 477.4M178.5 477.4L179.8 477.0L182.1 476.1L183.5 475.4M183.5 475.4L184.3 475.1L186.5 474.0L188.5 472.9M188.5 472.9L188.6 472.9L190.7 471.6L192.7 470.3L193.5 469.8M193.5 469.8L194.7 469.0L196.7 467.5L198.5 466.0M198.5 466.0L198.5 466.0L200.4 464.4L202.1 462.7L203.5 461.3M203.5 461.3L203.8 461.0L205.4 459.2L207.0 457.4L208.5 455.5M208.5 455.5L208.5 455.5L210.0 453.5L211.3 451.5L212.7 449.4L213.5 448.1M213.5 448.1L214.0 447.3L215.2 445.1L216.4 442.9L217.6 440.7L218.5 438.9M218.5 438.9L218.7 438.4L219.8 436.1L220.9 433.7L221.9 431.4L222.9 429.0L223.5 427.6M223.5 427.6L223.9 426.6L224.9 424.2L225.8 421.8L226.7 419.4L227.6 416.9L228.5 414.5M228.5 414.5L228.5 414.5L229.4 412.1L230.3 409.6L231.1 407.2L232.0 404.8L232.9 402.4L233.5 400.7M233.5 400.7L233.7 400.0L234.6 397.7L235.5 395.3L236.3 393.0L237.2 390.6L238.1 388.3L238.5 387.2M238.5 387.2L239.0 386.0L239.8 383.7L240.7 381.3L241.6 379.0L242.5 376.7L243.4 374.4L243.5 374.1M243.5 374.1L244.3 372.1L245.2 369.9L246.1 367.6L247.0 365.3L247.9 363.0L248.5 361.5M248.5 361.5L248.8 360.7L249.7 358.4L250.7 356.1L251.6 353.9L252.6 351.6L253.5 349.3M253.5 349.3L253.5 349.3L254.5 347.0L255.5 344.7L256.5 342.4L257.4 340.0L258.5 337.7L258.5 337.6M258.5 337.6L259.5 335.4L260.5 333.1L261.5 330.7L262.6 328.4L263.5 326.4M263.5 326.4L263.6 326.1L264.7 323.8L265.8 321.5L266.9 319.2L267.9 317.0L268.5 315.8M268.5 315.8L269.0 314.7L270.2 312.5L271.3 310.3L272.4 308.1L273.5 306.0M273.5 306.0L273.6 305.9L274.7 303.8L275.9 301.6L277.1 299.4L278.3 297.2L278.5 296.9M278.5 296.9L279.6 295.0L280.9 292.8L282.1 290.6L283.5 288.3L283.5 288.3M283.5 288.3L284.8 286.0L286.3 283.8L287.8 281.7L288.5 280.8M288.5 280.8L289.4 279.7L291.1 277.9L293.0 276.4L293.5 276.1M293.5 276.1L295.1 275.1L297.4 274.3L298.5 274.0M298.5 274.0L299.7 273.7L302.1 273.5L303.5 273.6M303.5 273.6L304.5 273.7L306.8 274.1L308.5 274.6M308.5 274.6L309.0 274.8L311.1 275.8L313.0 277.0L313.5 277.4M313.5 277.4L314.9 278.5L316.6 280.1L318.2 281.9L318.5 282.3M318.5 282.3L319.8 283.9L321.3 286.0L322.7 288.1L323.5 289.4M323.5 289.4L324.1 290.4L325.4 292.7L326.7 294.9L328.0 297.2L328.5 298.2M328.5 298.2L329.2 299.5L330.4 301.8L331.6 304.1L332.8 306.4L333.5 307.8M333.5 307.8L333.9 308.6L335.0 310.9L336.1 313.2L337.2 315.5L338.2 317.7L338.5 318.3M338.5 318.3L339.3 320.0L340.3 322.3L341.3 324.5L342.3 326.8L343.2 329.1L343.5 329.7M343.5 329.7L344.2 331.3L345.1 333.6L346.1 335.9L347.0 338.2L347.9 340.5L348.5 342.0M348.5 342.0L348.8 342.8L349.7 345.1L350.6 347.4L351.4 349.7L352.3 352.0L353.2 354.3L353.5 355.2M353.5 355.2L354.0 356.6L354.9 359.0L355.8 361.3L356.6 363.6L357.5 366.0L358.4 368.3L358.5 368.7M358.5 368.7L359.3 370.7L360.1 373.0L361.0 375.4L361.9 377.7L362.8 380.1L363.5 381.8M363.5 381.8L363.7 382.4L364.7 384.7L365.6 387.1L366.6 389.4L367.5 391.8L368.5 394.1M368.5 394.1L368.5 394.1L369.5 396.4L370.5 398.8L371.6 401.1L372.7 403.4L373.5 405.2M373.5 405.2L373.7 405.7L374.9 408.0L376.0 410.3L377.2 412.6L378.4 414.8L378.5 414.9M378.5 414.9L379.7 416.9L381.1 419.0L382.6 421.0L383.5 422.2M383.5 422.2L384.1 422.9L385.7 424.7L387.5 426.4L388.5 427.3M388.5 427.3L389.3 428.0L391.3 429.4L393.4 430.7L393.5 430.8M393.5 430.8L395.5 431.9L397.8 432.9L398.5 433.2M398.5 433.2L400.1 433.8L402.5 434.6L403.5 434.8M403.5 434.8L405.0 435.2L407.4 435.7L408.5 435.9M408.5 435.9L409.9 436.1L412.5 436.3L413.5 436.4M413.5 436.4L415.0 436.5L417.5 436.5L418.5 436.5M418.5 436.5L420.0 436.4L422.4 436.2L423.5 436.1M423.5 436.1L424.9 435.9L427.3 435.5L428.5 435.2M428.5 435.2L429.6 435.0L432.0 434.3L433.5 433.9M433.5 433.9L434.3 433.6L436.6 432.8L438.5 432.1M438.5 432.1L438.9 432.0L441.2 431.0L443.4 429.9L443.5 429.9M443.5 429.9L445.6 428.8L447.8 427.6L448.5 427.2M448.5 427.2L449.9 426.4L452.1 425.1L453.5 424.2M453.5 424.2L454.2 423.7L456.3 422.3L458.4 420.8L458.5 420.7M458.5 420.7L460.4 419.3L462.4 417.7L463.5 416.9M463.5 416.9L464.5 416.1L466.4 414.5L468.4 412.8L468.5 412.8M468.5 412.8L470.4 411.1L472.3 409.4L473.5 408.3M473.5 408.3L474.2 407.7L476.1 405.9L477.9 404.2L478.5 403.6M478.5 403.6L479.8 402.4L481.6 400.6L483.4 398.9L483.5 398.8M483.5 398.8L485.2 397.1L487.0 395.3L488.5 393.8M488.5 393.8L488.8 393.6L490.5 391.8L492.2 390.0L493.5 388.6M493.5 388.6L493.9 388.2L495.6 386.4L497.2 384.6L498.5 383.2M498.5 383.2L498.8 382.8L500.4 381.0L502.0 379.2L503.5 377.4M503.5 377.4L503.6 377.3L505.1 375.4L506.6 373.6L508.1 371.6L508.5 371.1M508.5 371.1L509.5 369.7L510.9 367.8L512.3 365.8L513.5 364.0M513.5 364.0L513.7 363.8L515.0 361.7L516.3 359.7L517.6 357.6L518.5 356.0M518.5 356.0L518.8 355.5L520.0 353.3L521.2 351.1L522.3 348.9L523.4 346.6L523.5 346.5M523.5 346.5L524.5 344.3L525.6 342.0L526.7 339.7L527.7 337.4L528.5 335.5M528.5 335.5L528.7 335.0L529.7 332.6L530.7 330.2L531.6 327.9L532.6 325.5L533.5 323.1M533.5 323.1L533.5 323.1L534.5 320.6L535.4 318.2L536.3 315.8L537.2 313.4L538.1 311.0L538.5 310.1M538.5 310.1L539.1 308.7L540.0 306.3L540.9 303.9L541.8 301.6L542.8 299.3L543.5 297.5M543.5 297.5L543.7 297.0L544.7 294.7L545.6 292.4L546.6 290.2L547.6 288.0L548.5 286.1M548.5 286.1L548.6 285.9L549.7 283.7L550.7 281.6L551.7 279.4L552.8 277.3L553.5 275.9M553.5 275.9L553.9 275.1L555.0 272.9L556.0 270.8L557.1 268.5L558.3 266.3L558.5 265.8M558.5 265.8L559.4 264.0L560.5 261.6L561.6 259.2L562.7 256.8L563.5 255.1M563.5 255.1L563.9 254.3L565.0 251.8L566.3 249.3L567.5 246.9L568.5 245.2M568.5 245.2L568.8 244.6L570.2 242.3L571.7 240.2L573.2 238.3L573.5 238.0M573.5 238.0L574.9 236.5L576.7 234.9L578.5 233.6M578.5 233.6L578.6 233.5L580.6 232.4L582.8 231.6L583.5 231.5M583.5 231.5L585.0 231.1L587.4 230.9L588.5 231.0M588.5 231.0L589.7 231.0L592.1 231.5L593.5 232.0M593.5 232.0L594.3 232.3L596.4 233.5L598.4 235.0L598.5 235.1M598.5 235.1L600.2 236.8L601.9 238.8L603.5 241.0L603.5 241.0M603.5 241.0L604.9 243.2L606.1 245.5L607.3 247.8L608.3 250.1L608.5 250.5M608.5 250.5L609.3 252.5L610.2 254.9L611.0 257.3L611.7 259.7L612.4 262.2L613.0 264.6L613.5 266.5M613.5 266.5L613.7 267.1L614.3 269.6L614.9 272.0L615.4 274.5L616.0 276.9L616.6 279.4L617.2 281.8L617.8 284.3L618.4 286.7L618.5 287.1M618.5 287.1L619.0 289.2L619.6 291.6L620.2 294.1L620.8 296.5L621.4 298.9L622.0 301.3L622.6 303.8L623.2 306.2L623.5 307.5M623.5 307.5L623.8 308.6L624.4 311.1L624.9 313.5L625.5 315.9L626.1 318.3L626.7 320.8L627.3 323.2L627.9 325.6L628.4 328.0L628.5 328.3M628.5 328.3L629.0 330.5L629.6 332.9L630.2 335.3L630.7 337.7L631.3 340.2L631.9 342.6L632.4 345.0L633.0 347.5L633.5 349.8M633.5 349.8L633.5 349.9L634.1 352.4L634.6 354.8L635.2 357.3L635.7 359.7L636.3 362.1L636.8 364.6L637.3 367.0L637.9 369.5L638.4 372.0L638.5 372.4M638.5 372.4L638.9 374.4L639.5 376.9L640.0 379.3L640.5 381.8L641.0 384.2L641.5 386.7L642.1 389.2L642.6 391.6L643.1 394.1L643.5 396.1M643.5 396.1L643.6 396.5L644.1 399.0L644.6 401.5L645.1 403.9L645.6 406.4L646.1 408.8L646.6 411.3L647.1 413.8L647.6 416.2L648.1 418.7L648.5 420.8M648.5 420.8L648.6 421.2L649.1 423.6L649.6 426.1L650.0 428.5L650.5 431.0L651.0 433.5L651.5 435.9L652.0 438.4L652.5 440.8L652.9 443.3L653.4 445.8L653.5 446.2M653.5 446.2L653.9 448.2L654.4 450.7L654.8 453.1L655.3 455.6L655.8 458.0L656.3 460.5L656.7 462.9L657.2 465.4L657.7 467.8L658.1 470.2L658.5 472.2M658.5 472.2L658.6 472.7L659.1 475.1L659.5 477.6L660.0 480.0L663.0 481.6L663.5 481.6M663.5 481.6L668.5 481.6M668.5 481.6L673.5 481.6M673.5 481.6L678.5 481.6M678.5 481.6L683.5 481.6M683.5 481.6L688.5 481.6M688.5 481.6L693.5 481.6M693.5 481.6L698.5 481.6M698.5 481.6L703.5 481.6M703.5 481.6L708.5 481.6M708.5 481.6L713.5 481.6M713.5 481.6L718.5 481.6M718.5 481.6L723.5 481.6M723.5 481.6L728.5 481.6M728.5 481.6L733.5 481.6M733.5 481.6L738.5 481.6M738.5 481.6L743.5 481.6M743.5 481.6L748.5 481.6M748.5 481.6L753.5 481.6M753.5 481.6L758.5 481.6M758.5 481.6L763.5 481.6M763.5 481.6L768.5 481.6M768.5 481.6L773.5 481.6M773.5 481.6L778.5 481.6M778.5 481.6L783.5 481.6M783.5 481.6L788.5 481.6M788.5 481.6L793.5 481.6M793.5 481.6L798.5 481.6M798.5 481.6L803.5 481.6M803.5 481.6L808.5 481.6M808.5 481.6L813.5 481.6M813.5 481.6L816.0 481.6" stroke="#ffb800" stroke-width="3.4" fill="none" stroke-linejoin="round" stroke-dasharray="10 3.4"/>
<path d="M140.0 480.0L142.5 479.7L144.9 479.4L147.4 479.2L149.9 479.1L152.4 479.0L154.9 479.0L157.5 479.1L160.0 479.2L162.5 479.3L165.1 479.5L167.6 479.6L170.2 479.8L172.7 480.0L175.2 480.0L177.8 480.0L180.3 480.0L182.9 480.0L185.4 480.0L187.9 480.0L190.5 480.0L193.0 480.0L195.5 480.0L198.0 480.0L200.5 480.0L202.9 480.0L205.4 480.0L207.9 479.6L210.3 479.1L212.7 478.5L215.1 477.8L217.5 477.1L219.9 476.4L222.2 475.5L224.5 474.6L226.8 473.6L229.1 472.6L231.4 471.5L233.6 470.4L235.8 469.2L238.0 467.9L240.1 466.6L242.2 465.3L244.3 463.9L246.4 462.5L248.4 461.0L250.4 459.5L252.3 457.9L254.2 456.3L256.1 454.7L258.0 453.1L259.8 451.4L261.6 449.7L263.3 447.9L265.1 446.2L266.8 444.4L268.5 442.5L270.1 440.7L271.8 438.8L273.4 436.9L275.0 435.0L276.6 433.1L278.2 431.1L279.7 429.2L281.3 427.2L282.8 425.2L284.3 423.2L285.8 421.2L287.3 419.2L288.8 417.2L290.3 415.1L291.8 413.1L293.3 411.0L294.7 409.0L296.2 406.9L297.7 404.9L299.2 402.8L300.7 400.8L302.2 398.7L303.7 396.7L305.2 394.7L306.7 392.7L308.2 390.6L309.8 388.6L311.3 386.6L312.9 384.7L314.5 382.7L316.1 380.7L317.7 378.8L319.3 376.9L321.0 375.0L322.7 373.1L324.4 371.3L326.1 369.4L327.9 367.6L329.6 365.9L331.4 364.1L333.3 362.4L335.1 360.7L337.0 359.0L338.9 357.4L340.8 355.7L342.8 354.2L344.8 352.6L346.8 351.1L348.8 349.6L350.8 348.1L352.9 346.7L355.0 345.3L357.1 344.0L359.2 342.7L361.3 341.4L363.5 340.1L365.7 338.9L367.9 337.8L370.1 336.6L372.3 335.5L374.6 334.5L376.9 333.4L379.1 332.4L381.4 331.4L383.7 330.4L386.0 329.4L388.3 328.4L390.6 327.4L392.9 326.4L395.2 325.4L397.5 324.4L399.8 323.4L402.1 322.3L404.4 321.3L406.7 320.2L409.0 319.0L411.2 317.9L413.5 316.7L415.7 315.5L417.9 314.2L420.1 312.9L422.2 311.6L424.4 310.3L426.5 308.9L428.5 307.5L430.6 306.0L432.6 304.5L434.6 303.0L436.6 301.4L438.5 299.8L440.3 298.2L442.2 296.5L444.0 294.8L445.7 293.1L447.4 291.3L449.1 289.5L450.7 287.6L452.2 285.7L453.8 283.8L455.2 281.8L456.7 279.8L458.1 277.8L459.5 275.8L460.9 273.7L462.2 271.6L463.5 269.5L464.8 267.3L466.1 265.2L467.4 263.0L468.7 260.8L469.9 258.6L471.2 256.4L472.4 254.1L473.7 251.9L475.0 249.6L476.2 247.3L477.5 245.1L478.8 242.8L480.1 240.6L481.4 238.3L482.8 236.1L484.2 234.0L485.7 231.9L487.2 229.8L488.9 227.8L490.5 225.9L492.3 224.1L494.1 222.4L496.1 220.8L498.1 219.3L500.2 218.0L502.5 216.8L504.8 215.7L507.2 214.8L509.6 214.0L512.0 213.5L514.4 213.0L516.8 212.8L519.2 212.8L521.5 213.0L523.8 213.3L526.0 213.9L528.1 214.7L530.1 215.7L532.0 216.8L533.9 218.1L535.8 219.6L537.5 221.2L539.2 222.9L540.9 224.7L542.5 226.6L544.1 228.7L545.6 230.8L547.1 233.0L548.5 235.2L550.0 237.4L551.3 239.7L552.7 242.1L554.1 244.4L555.4 246.7L556.7 249.0L558.0 251.3L559.3 253.6L560.6 255.9L561.9 258.2L563.1 260.4L564.4 262.7L565.6 265.0L566.8 267.2L568.0 269.5L569.2 271.7L570.4 274.0L571.5 276.2L572.7 278.5L573.8 280.7L574.9 283.0L576.0 285.2L577.1 287.4L578.2 289.7L579.3 291.9L580.4 294.1L581.5 296.4L582.5 298.6L583.6 300.8L584.6 303.1L585.6 305.3L586.6 307.5L587.6 309.8L588.6 312.0L589.6 314.3L590.6 316.5L591.6 318.8L592.6 321.0L593.5 323.3L594.5 325.6L595.5 327.8L596.4 330.1L597.3 332.4L598.3 334.7L599.2 337.0L600.1 339.3L601.0 341.6L602.0 343.9L602.9 346.3L603.8 348.6L604.7 351.0L605.6 353.3L606.5 355.7L607.4 358.1L608.2 360.4L609.1 362.8L610.0 365.2L610.9 367.6L611.8 370.0L612.7 372.4L613.6 374.8L614.6 377.2L615.5 379.6L616.4 382.0L617.4 384.4L618.3 386.7L619.3 389.1L620.2 391.5L621.2 393.9L622.2 396.2L623.2 398.5L624.3 400.9L625.3 403.2L626.4 405.5L627.5 407.8L628.6 410.1L629.7 412.3L630.9 414.6L632.1 416.8L633.3 419.0L634.5 421.2L635.8 423.3L637.1 425.5L638.4 427.6L639.7 429.7L641.1 431.7L642.5 433.7L644.0 435.7L645.4 437.7L646.9 439.7L648.5 441.6L650.1 443.5L651.7 445.3L653.4 447.1L655.1 448.9L656.8 450.6L658.6 452.3L660.4 454.0L662.3 455.6L664.2 457.2L666.1 458.7L668.1 460.2L670.1 461.6L672.2 463.0L674.3 464.3L676.4 465.6L678.6 466.8L680.8 467.9L683.0 469.0L685.3 470.0L687.6 471.0L689.9 471.9L692.3 472.7L694.7 473.4L697.1 474.1L699.6 474.7L702.0 475.3L704.5 475.7L707.1 476.1L709.6 476.4L712.2 476.7L714.8 477.0L717.3 477.2L719.9 477.4L722.5 477.5L725.1 477.7L727.7 477.8L730.3 478.0L732.8 478.1L735.4 478.3L737.9 478.5L740.4 478.7L742.8 479.0L745.2 479.2L747.6 479.6L750.0 480.0L753.0 481.6L816.0 481.6" stroke="#0000f0" stroke-width="3.4" fill="none" stroke-linejoin="round"/>
<path d="M140.0 480.0L142.5 479.7L143.5 479.6M143.5 479.6L145.0 479.5L147.6 479.3L148.5 479.3M148.5 479.3L150.1 479.2L152.6 479.2L153.5 479.2M153.5 479.2L155.1 479.2L157.6 479.2L158.5 479.3M158.5 479.3L160.1 479.3L162.6 479.4L163.5 479.5M163.5 479.5L165.1 479.6L167.6 479.7L168.5 479.8M168.5 479.8L170.1 479.9L172.6 480.0L173.5 480.0M173.5 480.0L175.1 480.0L177.7 480.0L178.5 480.0M178.5 480.0L180.2 480.0L182.7 480.0L183.5 480.0M183.5 480.0L185.2 480.0L187.7 480.0L188.5 480.0M188.5 480.0L190.2 480.0L192.7 480.0L193.5 480.0M193.5 480.0L195.2 480.0L197.7 480.0L198.5 480.0M198.5 480.0L200.2 480.0L202.7 480.0L203.5 480.0M203.5 480.0L205.2 479.9L207.7 479.6L208.5 479.4M208.5 479.4L210.2 479.1L212.7 478.6L213.5 478.4M213.5 478.4L215.1 478.0L217.6 477.4L218.5 477.1M218.5 477.1L220.0 476.7L222.5 475.9L223.5 475.5M223.5 475.5L224.8 475.1L227.2 474.2L228.5 473.7M228.5 473.7L229.6 473.3L231.9 472.3L233.5 471.5M233.5 471.5L234.1 471.2L236.4 470.1L238.5 469.0M238.5 469.0L238.6 468.9L240.7 467.7L242.9 466.5L243.5 466.0M243.5 466.0L244.9 465.1L247.0 463.8L248.5 462.7M248.5 462.7L249.0 462.3L250.9 460.9L252.8 459.4L253.5 458.8M253.5 458.8L254.7 457.8L256.6 456.2L258.4 454.6L258.5 454.5M258.5 454.5L260.2 452.9L261.9 451.2L263.5 449.6M263.5 449.6L263.7 449.4L265.4 447.6L267.1 445.8L268.5 444.2M268.5 444.2L268.7 444.0L270.4 442.1L272.0 440.2L273.5 438.4M273.5 438.4L273.6 438.3L275.1 436.3L276.7 434.4L278.2 432.4L278.5 432.1M278.5 432.1L279.8 430.4L281.3 428.4L282.8 426.4L283.5 425.4M283.5 425.4L284.3 424.3L285.8 422.3L287.3 420.2L288.5 418.5M288.5 418.5L288.8 418.1L290.2 416.1L291.7 414.0L293.2 411.9L293.5 411.5M293.5 411.5L294.7 409.8L296.2 407.8L297.7 405.7L298.5 404.5M298.5 404.5L299.1 403.6L300.6 401.6L302.1 399.5L303.5 397.7M303.5 397.7L303.7 397.5L305.2 395.4L306.7 393.4L308.3 391.4L308.5 391.2M308.5 391.2L309.9 389.5L311.4 387.5L313.0 385.5L313.5 385.0M313.5 385.0L314.7 383.6L316.3 381.7L317.9 379.8L318.5 379.1M318.5 379.1L319.6 377.9L321.3 376.1L322.9 374.2L323.5 373.6M323.5 373.6L324.7 372.4L326.4 370.6L328.1 368.8L328.5 368.5M328.5 368.5L329.9 367.1L331.7 365.3L333.5 363.6L333.5 363.6M333.5 363.6L335.3 361.9L337.1 360.3L338.5 359.1M338.5 359.1L339.0 358.6L340.9 357.0L342.8 355.4L343.5 354.9M343.5 354.9L344.7 353.9L346.7 352.4L348.5 351.0M348.5 351.0L348.7 350.9L350.7 349.4L352.7 347.9L353.5 347.4M353.5 347.4L354.7 346.5L356.8 345.1L358.5 344.0M358.5 344.0L358.9 343.8L361.0 342.4L363.2 341.2L363.5 341.0M363.5 341.0L365.3 339.9L367.5 338.7L368.5 338.1M368.5 338.1L369.8 337.5L372.0 336.3L373.5 335.6M373.5 335.6L374.3 335.2L376.6 334.1L378.5 333.2M378.5 333.2L378.9 333.1L381.3 332.1L383.5 331.2M383.5 331.2L383.7 331.1L386.0 330.2L388.4 329.3L388.5 329.3M388.5 329.3L390.9 328.5L393.3 327.8L393.5 327.7M393.5 327.7L395.7 327.1L398.2 326.4L398.5 326.3M398.5 326.3L400.7 325.8L403.1 325.3L403.5 325.2M403.5 325.2L405.6 324.9L408.1 324.5L408.5 324.4M408.5 324.4L410.5 324.2L413.0 323.9L413.5 323.9M413.5 323.9L415.5 323.8L417.9 323.7L418.5 323.7M418.5 323.7L420.4 323.7L422.8 323.7L423.5 323.8M423.5 323.8L425.3 323.9L427.7 324.1L428.5 324.2M428.5 324.2L430.1 324.4L432.5 324.8L433.5 325.1M433.5 325.1L434.9 325.4L437.3 326.0L438.5 326.3M438.5 326.3L439.6 326.7L441.9 327.4L443.5 328.1M443.5 328.1L444.3 328.3L446.5 329.3L448.5 330.3M448.5 330.3L448.8 330.5L451.0 331.6L453.2 332.9L453.5 333.1M453.5 333.1L455.4 334.3L457.6 335.7L458.5 336.3M458.5 336.3L459.8 337.1L461.9 338.6L463.5 339.7M463.5 339.7L464.1 340.1L466.2 341.6L468.4 343.1L468.5 343.2M468.5 343.2L470.5 344.6L472.7 346.1L473.5 346.6M473.5 346.6L474.9 347.5L477.0 348.9L478.5 349.8M478.5 349.8L479.2 350.3L481.5 351.5L483.5 352.6M483.5 352.6L483.7 352.7L486.0 353.8L488.2 354.8L488.5 354.9M488.5 354.9L490.5 355.7L492.9 356.5L493.5 356.6M493.5 356.6L495.2 357.1L497.6 357.7L498.5 357.8M498.5 357.8L500.0 358.1L502.4 358.4L503.5 358.5M503.5 358.5L504.8 358.5L507.2 358.6L508.5 358.5M508.5 358.5L509.6 358.5L512.0 358.3L513.5 358.0M513.5 358.0L514.4 357.9L516.8 357.4L518.5 356.9M518.5 356.9L519.2 356.7L521.6 355.9L523.5 355.1M523.5 355.1L524.0 354.9L526.4 353.9L528.5 352.8M528.5 352.8L528.7 352.7L531.1 351.5L533.4 350.2L533.5 350.2M533.5 350.2L535.8 348.9L538.1 347.6L538.5 347.4M538.5 347.4L540.5 346.2L542.8 345.0L543.5 344.6M543.5 344.6L545.1 343.7L547.4 342.5L548.5 342.0M548.5 342.0L549.8 341.4L552.1 340.4L553.5 339.9M553.5 339.9L554.4 339.6L556.7 338.8L558.5 338.4M558.5 338.4L559.0 338.3L561.3 337.9L563.5 337.7M563.5 337.7L563.6 337.7L565.8 337.7L568.1 338.0L568.5 338.0M568.5 338.0L570.3 338.4L572.5 339.0L573.5 339.5M573.5 339.5L574.6 339.9L576.6 341.0L578.5 342.2L578.5 342.2M578.5 342.2L580.3 343.7L582.1 345.4L583.5 347.0M583.5 347.0L583.7 347.2L585.2 349.2L586.7 351.3L588.0 353.5L588.5 354.3M588.5 354.3L589.3 355.8L590.5 358.2L591.6 360.6L592.7 363.1L593.5 365.1M593.5 365.1L593.7 365.6L594.7 368.1L595.6 370.6L596.5 373.1L597.5 375.6L598.4 378.0L598.5 378.4M598.5 378.4L599.3 380.4L600.2 382.8L601.1 385.2L602.0 387.5L602.9 389.9L603.5 391.3M603.5 391.3L603.8 392.2L604.8 394.4L605.8 396.7L606.8 399.0L607.8 401.2L608.5 402.7M608.5 402.7L608.8 403.4L609.9 405.6L611.0 407.9L612.1 410.1L613.2 412.2L613.5 412.9M613.5 412.9L614.3 414.4L615.5 416.6L616.6 418.8L617.8 421.0L618.5 422.3M618.5 422.3L619.0 423.2L620.2 425.4L621.4 427.6L622.7 429.8L623.5 431.2M623.5 431.2L623.9 432.0L625.2 434.2L626.5 436.5L627.8 438.7L628.5 439.9M628.5 439.9L629.1 440.9L630.5 443.1L631.8 445.2L633.2 447.4L633.5 447.8M633.5 447.8L634.6 449.5L636.1 451.6L637.6 453.7L638.5 454.9M638.5 454.9L639.1 455.7L640.6 457.6L642.2 459.6L643.5 461.0M643.5 461.0L643.8 461.4L645.5 463.2L647.2 465.0L648.5 466.2M648.5 466.2L649.0 466.7L650.8 468.3L652.6 469.8L653.5 470.5M653.5 470.5L654.5 471.2L656.4 472.6L658.4 473.8L658.5 473.9M658.5 473.9L660.5 475.0L662.6 476.1L663.5 476.5M663.5 476.5L664.8 477.0L667.0 477.9L668.5 478.4M668.5 478.4L669.3 478.7L671.6 479.3L673.5 479.7M673.5 479.7L674.0 479.8L676.5 480.0L678.5 480.0M678.5 480.0L679.1 480.0L681.7 480.0L683.5 480.0M683.5 480.0L684.4 480.0L687.2 480.0L688.5 480.0M688.5 480.0L690.0 480.0L693.0 481.6L693.5 481.6M693.5 481.6L698.5 481.6M698.5 481.6L703.5 481.6M703.5 481.6L708.5 481.6M708.5 481.6L713.5 481.6M713.5 481.6L718.5 481.6M718.5 481.6L723.5 481.6M723.5 481.6L728.5 481.6M728.5 481.6L733.5 481.6M733.5 481.6L738.5 481.6M738.5 481.6L743.5 481.6M743.5 481.6L748.5 481.6M748.5 481.6L753.5 481.6M753.5 481.6L758.5 481.6M758.5 481.6L763.5 481.6M763.5 481.6L768.5 481.6M768.5 481.6L773.5 481.6M773.5 481.6L778.5 481.6M778.5 481.6L783.5 481.6M783.5 481.6L788.5 481.6M788.5 481.6L793.5 481.6M793.5 481.6L798.5 481.6M798.5 481.6L803.5 481.6M803.5 481.6L808.5 481.6M808.5 481.6L813.5 481.6M813.5 481.6L816.0 481.6" stroke="#0000f0" stroke-width="3.4" fill="none" stroke-linejoin="round" stroke-dasharray="3.4 3.3"/>
<path d="M140.0 480.0L142.5 479.7L145.1 479.5L147.6 479.3L150.1 479.3L152.6 479.2L155.1 479.2L157.7 479.3L160.2 479.4L162.7 479.5L165.2 479.7L167.7 479.8L170.2 480.0L172.7 480.0L175.2 480.0L177.7 480.0L180.2 480.0L182.6 480.0L185.1 480.0L187.6 480.0L190.1 480.0L192.6 480.0L195.1 480.0L197.6 480.0L200.1 480.0L202.5 479.7L205.0 479.3L207.5 478.8L210.0 478.2L212.4 477.6L214.9 476.9L217.3 476.1L219.7 475.3L222.1 474.4L224.4 473.4L226.8 472.4L229.1 471.3L231.4 470.2L233.6 469.0L235.8 467.8L238.0 466.5L240.1 465.2L242.2 463.8L244.3 462.4L246.3 460.9L248.2 459.4L250.2 457.8L252.0 456.2L253.9 454.6L255.7 452.9L257.4 451.2L259.2 449.5L260.9 447.7L262.5 445.9L264.2 444.1L265.8 442.2L267.3 440.4L268.9 438.5L270.4 436.5L271.9 434.6L273.4 432.6L274.9 430.6L276.3 428.6L277.8 426.5L279.2 424.5L280.6 422.4L282.0 420.3L283.4 418.3L284.8 416.2L286.2 414.1L287.5 411.9L288.9 409.8L290.3 407.7L291.6 405.6L293.0 403.5L294.4 401.3L295.7 399.2L297.1 397.1L298.5 395.0L299.9 392.8L301.3 390.7L302.7 388.6L304.2 386.5L305.6 384.5L307.1 382.4L308.5 380.3L310.0 378.3L311.5 376.2L313.0 374.2L314.5 372.2L316.1 370.2L317.6 368.2L319.2 366.2L320.8 364.3L322.4 362.3L324.0 360.4L325.7 358.5L327.3 356.6L329.0 354.8L330.7 352.9L332.4 351.1L334.1 349.3L335.8 347.5L337.6 345.7L339.4 344.0L341.2 342.3L343.0 340.6L344.9 338.9L346.7 337.3L348.6 335.7L350.5 334.1L352.5 332.6L354.4 331.0L356.4 329.5L358.4 328.1L360.4 326.6L362.5 325.2L364.5 323.8L366.6 322.5L368.7 321.2L370.9 319.9L373.0 318.6L375.2 317.4L377.4 316.1L379.6 315.0L381.8 313.8L384.0 312.6L386.3 311.5L388.5 310.4L390.8 309.3L393.1 308.2L395.4 307.2L397.7 306.2L400.0 305.1L402.3 304.1L404.7 303.2L407.0 302.2L409.3 301.2L411.7 300.3L414.0 299.4L416.4 298.5L418.8 297.6L421.1 296.7L423.5 295.8L425.9 294.9L428.2 294.0L430.6 293.2L433.0 292.3L435.3 291.5L437.7 290.6L440.0 289.8L442.4 289.0L444.7 288.1L447.1 287.3L449.5 286.5L451.8 285.7L454.2 284.9L456.5 284.1L458.9 283.4L461.3 282.6L463.7 281.8L466.0 281.1L468.4 280.4L470.8 279.7L473.3 279.0L475.7 278.3L478.1 277.6L480.6 277.0L483.1 276.3L485.5 275.7L488.0 275.2L490.5 274.6L493.0 274.1L495.5 273.7L498.0 273.3L500.5 273.0L503.0 272.7L505.5 272.6L507.9 272.5L510.4 272.5L512.8 272.6L515.2 272.8L517.6 273.1L519.9 273.6L522.3 274.1L524.6 274.8L526.8 275.7L529.0 276.7L531.2 277.8L533.4 279.0L535.5 280.4L537.6 281.8L539.6 283.4L541.6 285.0L543.6 286.7L545.5 288.5L547.4 290.3L549.3 292.2L551.1 294.1L552.9 296.1L554.7 298.0L556.4 300.0L558.1 302.0L559.7 304.0L561.3 306.0L562.9 308.0L564.4 310.0L566.0 312.0L567.4 314.0L568.9 316.1L570.3 318.1L571.7 320.2L573.1 322.3L574.4 324.3L575.7 326.4L577.0 328.5L578.3 330.7L579.5 332.8L580.7 334.9L581.9 337.1L583.0 339.3L584.2 341.4L585.3 343.6L586.4 345.8L587.5 348.1L588.5 350.3L589.6 352.5L590.6 354.8L591.6 357.1L592.6 359.3L593.6 361.6L594.6 363.9L595.6 366.2L596.5 368.5L597.5 370.8L598.4 373.1L599.4 375.4L600.3 377.8L601.2 380.1L602.1 382.4L603.1 384.8L604.0 387.1L604.9 389.4L605.8 391.8L606.8 394.1L607.7 396.5L608.7 398.8L609.6 401.2L610.5 403.5L611.5 405.9L612.5 408.2L613.5 410.5L614.5 412.9L615.5 415.2L616.5 417.5L617.5 419.8L618.6 422.1L619.6 424.4L620.7 426.7L621.8 429.0L622.9 431.3L624.1 433.6L625.2 435.9L626.4 438.1L627.6 440.4L628.8 442.6L630.0 444.8L631.3 447.0L632.5 449.2L633.8 451.3L635.0 453.5L636.3 455.6L637.6 457.7L638.9 459.8L640.2 461.9L641.4 463.9L642.7 466.0L644.1 468.0L645.4 469.9L646.7 471.8L648.2 473.6L649.7 475.2L651.3 476.7L653.0 478.0L654.9 479.1L656.9 480.0L659.1 480.0L661.5 480.0L664.1 480.0L666.9 480.0L670.0 480.0L673.0 481.6L816.0 481.6" stroke="#0000f0" stroke-width="3.4" fill="none" stroke-linejoin="round"/>
<path d="M140.0 480.0L142.5 479.9L144.9 479.8L147.4 479.7L149.9 479.7L152.4 479.7L154.9 479.7L157.4 479.7L160.0 479.8L162.5 479.8L165.0 479.9L167.6 480.0L170.1 480.0L172.7 480.0L175.2 480.0L177.8 480.0L180.3 480.0L182.9 480.0L185.4 480.0L187.9 480.0L190.5 480.0L193.0 480.0L195.5 480.0L198.0 480.0L200.5 480.0L203.0 480.0L205.5 479.8L208.0 479.6L210.4 479.3L212.8 478.9L215.3 478.6L217.7 478.1L220.1 477.6L222.4 477.1L224.8 476.4L227.1 475.7L229.4 475.0L231.7 474.1L234.0 473.2L236.2 472.2L238.4 471.2L240.6 470.0L242.8 468.8L244.9 467.5L247.0 466.1L249.1 464.7L251.1 463.2L253.2 461.7L255.2 460.1L257.1 458.4L259.1 456.7L261.0 455.0L262.9 453.2L264.8 451.5L266.6 449.6L268.4 447.8L270.2 445.9L272.0 444.1L273.7 442.2L275.5 440.3L277.1 438.4L278.8 436.5L280.5 434.6L282.1 432.7L283.7 430.8L285.3 428.9L286.9 427.0L288.4 425.1L290.0 423.2L291.6 421.3L293.1 419.4L294.7 417.5L296.3 415.6L297.8 413.7L299.4 411.8L301.0 409.9L302.6 408.0L304.2 406.1L305.9 404.2L307.5 402.4L309.2 400.5L310.8 398.6L312.5 396.7L314.2 394.9L316.0 393.0L317.7 391.2L319.4 389.4L321.2 387.6L323.0 385.8L324.8 384.0L326.6 382.3L328.5 380.6L330.3 378.8L332.2 377.1L334.1 375.5L336.0 373.8L337.9 372.2L339.9 370.6L341.8 369.1L343.8 367.5L345.8 366.0L347.8 364.5L349.9 363.1L352.0 361.7L354.0 360.3L356.1 359.0L358.3 357.7L360.4 356.4L362.6 355.2L364.8 354.0L367.0 352.8L369.2 351.7L371.5 350.7L373.8 349.7L376.1 348.7L378.4 347.7L380.7 346.8L383.1 346.0L385.4 345.1L387.8 344.3L390.2 343.6L392.6 342.9L395.0 342.2L397.4 341.5L399.9 340.9L402.3 340.4L404.8 339.8L407.3 339.3L409.8 338.8L412.2 338.4L414.7 338.0L417.2 337.6L419.7 337.2L422.2 336.9L424.8 336.6L427.3 336.4L429.8 336.1L432.3 335.9L434.8 335.8L437.3 335.6L439.9 335.5L442.4 335.4L444.9 335.3L447.4 335.3L449.9 335.2L452.4 335.2L454.9 335.2L457.4 335.2L459.9 335.2L462.4 335.2L464.9 335.2L467.4 335.2L469.9 335.2L472.4 335.2L474.8 335.2L477.3 335.1L479.8 335.1L482.3 335.0L484.7 334.9L487.2 334.7L489.6 334.6L492.1 334.3L494.6 334.1L497.0 333.8L499.5 333.5L501.9 333.1L504.3 332.7L506.8 332.2L509.2 331.7L511.6 331.1L514.1 330.4L516.5 329.7L518.9 328.9L521.3 328.0L523.7 327.1L526.1 326.2L528.5 325.3L530.9 324.3L533.3 323.4L535.7 322.6L538.1 321.8L540.5 321.1L542.8 320.5L545.2 320.1L547.6 319.7L550.0 319.6L552.4 319.6L554.8 319.8L557.1 320.2L559.5 320.8L561.8 321.6L564.2 322.5L566.5 323.5L568.7 324.7L570.9 326.0L573.1 327.4L575.2 328.9L577.3 330.5L579.3 332.2L581.3 333.9L583.1 335.7L584.9 337.5L586.6 339.4L588.3 341.3L589.9 343.2L591.4 345.2L592.9 347.2L594.3 349.3L595.7 351.3L597.1 353.4L598.4 355.6L599.6 357.7L600.8 359.9L602.0 362.1L603.2 364.3L604.3 366.5L605.4 368.7L606.5 371.0L607.6 373.2L608.7 375.5L609.7 377.8L610.7 380.0L611.7 382.3L612.7 384.6L613.7 386.9L614.7 389.2L615.7 391.5L616.7 393.8L617.7 396.1L618.7 398.4L619.6 400.7L620.6 403.0L621.6 405.3L622.6 407.6L623.6 409.9L624.6 412.2L625.6 414.5L626.6 416.8L627.6 419.1L628.6 421.4L629.6 423.7L630.6 426.0L631.5 428.4L632.4 430.7L633.3 433.1L634.2 435.5L635.1 437.9L635.9 440.3L636.8 442.7L637.5 445.1L638.3 447.6L639.0 450.1L639.7 452.5L640.4 455.0L641.0 457.5L641.8 459.9L642.5 462.3L643.3 464.6L644.1 466.8L645.1 468.9L646.1 471.0L647.2 472.9L648.5 474.6L649.9 476.2L651.4 477.7L653.1 478.9L655.0 480.0L658.0 481.6L816.0 481.6" stroke="#0000f0" stroke-width="3.4" fill="none" stroke-linejoin="round" stroke-dasharray="14.5 9.7"/>
<path d="M140.0 480.0L142.8 480.0L145.5 480.0L148.2 480.0L150.9 480.0L153.5 480.0L156.0 479.8L158.5 479.3L160.9 478.7L163.3 478.0L165.6 477.2L167.8 476.3L170.1 475.3L172.2 474.2L174.3 473.0L176.3 471.7L178.3 470.3L180.2 468.9L182.1 467.3L183.9 465.7L185.7 464.1L187.3 462.3L189.0 460.5L190.6 458.7L192.1 456.8L193.5 454.8L194.9 452.8L196.3 450.7L197.6 448.7L198.8 446.5L200.0 444.4L201.1 442.2L202.2 439.9L203.2 437.7L204.2 435.4L205.1 433.1L206.0 430.8L206.9 428.4L207.7 426.0L208.5 423.6L209.3 421.2L210.0 418.8L210.7 416.4L211.4 413.9L212.1 411.5L212.8 409.0L213.5 406.5L214.1 404.1L214.7 401.6L215.4 399.1L216.0 396.7L216.6 394.2L217.2 391.8L217.8 389.3L218.4 386.8L219.0 384.4L219.6 381.9L220.2 379.5L220.8 377.0L221.4 374.6L222.0 372.1L222.6 369.7L223.1 367.2L223.7 364.8L224.3 362.4L224.9 359.9L225.4 357.5L226.0 355.0L226.5 352.6L227.1 350.2L227.6 347.7L228.2 345.3L228.7 342.9L229.3 340.4L229.8 338.0L230.4 335.6L230.9 333.1L231.5 330.7L232.0 328.3L232.5 325.8L233.1 323.4L233.6 321.0L234.1 318.5L234.7 316.1L235.2 313.7L235.7 311.2L236.2 308.8L236.8 306.4L237.3 303.9L237.8 301.5L238.3 299.0L238.9 296.6L239.4 294.2L239.9 291.7L240.4 289.3L241.0 286.8L241.5 284.4L242.0 281.9L242.5 279.5L243.1 277.0L243.6 274.6L244.1 272.1L244.6 269.7L245.2 267.2L245.7 264.8L246.2 262.3L246.7 259.9L247.2 257.4L247.8 255.0L248.3 252.5L248.8 250.0L249.3 247.6L249.9 245.1L250.4 242.7L250.9 240.2L251.4 237.7L252.0 235.3L252.5 232.8L253.0 230.4L253.5 227.9L254.0 225.4L254.6 223.0L255.1 220.5L255.6 218.1L256.1 215.6L256.7 213.1L257.2 210.7L257.7 208.2L258.2 205.7L258.7 203.3L259.3 200.8L259.8 198.4L260.3 195.9L260.8 193.4L261.3 191.0L261.9 188.5L262.4 186.1L262.9 183.6L263.4 181.1L263.9 178.7L264.5 176.2L265.0 173.8L265.5 171.3L266.0 168.9L266.5 166.4L267.1 164.0L267.6 161.5L268.1 159.1L268.7 156.6L269.2 154.2L269.8 151.8L270.3 149.3L270.9 146.9L271.5 144.5L272.1 142.1L272.7 139.7L273.3 137.3L273.9 134.9L274.5 132.5L275.2 130.2L275.9 127.8L276.5 125.5L277.2 123.1L278.0 120.8L278.7 118.4L279.4 116.1L280.2 113.7L281.0 111.3L281.8 108.9L282.6 106.4L283.5 103.9L284.3 101.4L285.2 98.7L286.1 96.1L287.1 93.4L288.1 90.7L289.2 88.1L290.4 85.7L291.7 83.4L293.1 81.4L294.6 79.7L296.3 78.4L298.1 77.4L300.1 76.9L302.3 76.8L304.5 77.1L306.7 77.7L308.8 78.6L310.9 79.8L312.9 81.3L314.8 83.1L316.5 85.0L318.0 87.0L319.4 89.2L320.7 91.4L321.9 93.7L322.9 96.0L323.9 98.4L324.8 100.8L325.6 103.2L326.3 105.7L327.0 108.2L327.7 110.7L328.3 113.2L329.0 115.7L329.6 118.2L330.2 120.6L330.7 123.1L331.3 125.6L331.8 128.1L332.4 130.5L332.9 133.0L333.4 135.4L333.9 137.9L334.4 140.3L334.9 142.8L335.3 145.2L335.8 147.7L336.3 150.1L336.7 152.6L337.2 155.0L337.7 157.4L338.1 159.9L338.6 162.3L339.1 164.8L339.5 167.2L340.0 169.7L340.5 172.1L341.0 174.5L341.4 177.0L341.9 179.4L342.4 181.9L342.9 184.3L343.4 186.8L343.9 189.2L344.4 191.7L344.9 194.1L345.5 196.6L346.0 199.0L346.5 201.5L347.0 203.9L347.5 206.4L348.1 208.8L348.6 211.2L349.1 213.7L349.7 216.1L350.2 218.6L350.8 221.0L351.3 223.5L351.9 225.9L352.4 228.4L353.0 230.8L353.5 233.3L354.1 235.7L354.7 238.2L355.2 240.6L355.8 243.1L356.4 245.5L357.0 248.0L357.5 250.4L358.1 252.8L358.7 255.3L359.3 257.7L359.9 260.2L360.5 262.6L361.1 265.1L361.7 267.5L362.3 269.9L362.9 272.4L363.5 274.8L364.1 277.3L364.7 279.7L365.3 282.1L366.0 284.6L366.6 287.0L367.2 289.4L367.8 291.9L368.5 294.3L369.1 296.7L369.7 299.2L370.4 301.6L371.0 304.0L371.6 306.4L372.3 308.9L372.9 311.3L373.6 313.7L374.2 316.1L374.9 318.6L375.6 321.0L376.2 323.4L376.9 325.8L377.6 328.2L378.3 330.6L378.9 333.0L379.6 335.5L380.3 337.9L381.0 340.3L381.7 342.7L382.4 345.1L383.1 347.5L383.8 349.9L384.5 352.3L385.3 354.7L386.0 357.1L386.7 359.5L387.4 361.9L388.2 364.2L388.9 366.6L389.7 369.0L390.4 371.4L391.2 373.8L392.0 376.2L392.7 378.5L393.5 380.9L394.3 383.3L395.1 385.7L395.9 388.0L396.6 390.4L397.4 392.8L398.3 395.1L399.1 397.5L399.9 399.8L400.7 402.2L401.5 404.6L402.3 406.9L403.1 409.3L404.0 411.7L404.8 414.0L405.6 416.4L406.4 418.8L407.2 421.2L408.0 423.6L408.8 426.0L409.6 428.4L410.4 430.8L411.2 433.2L411.9 435.6L412.7 438.1L413.5 440.5L414.2 442.9L414.9 445.4L415.7 447.9L416.4 450.3L417.2 452.7L418.0 455.2L418.9 457.5L419.8 459.8L420.7 462.1L421.8 464.3L422.9 466.5L424.1 468.5L425.4 470.5L426.8 472.4L428.4 474.1L430.0 475.8L431.9 477.3L433.9 478.7L436.0 480.0L439.0 481.6L816.0 481.6" stroke="#555555" stroke-width="3.4" fill="none" stroke-linejoin="round"/>
<path d="M140.0 480.0L142.9 480.0L143.5 480.0M143.5 480.0L145.8 480.0L148.5 480.0M148.5 480.0L148.6 480.0L151.3 480.0L153.5 480.0M153.5 480.0L154.0 480.0L156.6 480.0L158.5 480.0M158.5 480.0L159.1 480.0L161.6 480.0L163.5 480.0M163.5 480.0L164.1 480.0L166.5 479.5L168.5 478.9M168.5 478.9L168.8 478.9L171.1 478.1L173.3 477.3L173.5 477.2M173.5 477.2L175.5 476.3L177.7 475.3L178.5 474.8M178.5 474.8L179.7 474.2L181.8 473.0L183.5 471.9M183.5 471.9L183.8 471.7L185.7 470.4L187.6 468.9L188.5 468.2M188.5 468.2L189.4 467.4L191.2 465.9L193.0 464.2L193.5 463.7M193.5 463.7L194.7 462.5L196.4 460.8L198.0 459.0L198.5 458.4M198.5 458.4L199.6 457.1L201.1 455.2L202.6 453.2L203.5 452.1M203.5 452.1L204.1 451.2L205.5 449.2L206.9 447.1L208.3 445.0L208.5 444.6M208.5 444.6L209.6 442.9L210.9 440.7L212.1 438.5L213.3 436.3L213.5 436.0M213.5 436.0L214.5 434.0L215.7 431.8L216.8 429.5L217.9 427.2L218.5 425.9M218.5 425.9L219.0 424.9L220.0 422.6L221.0 420.3L222.0 418.0L222.9 415.6L223.5 414.2M223.5 414.2L223.9 413.3L224.8 410.9L225.7 408.6L226.5 406.2L227.4 403.9L228.2 401.5L228.5 400.7M228.5 400.7L229.0 399.1L229.8 396.7L230.6 394.4L231.4 392.0L232.1 389.6L232.9 387.2L233.5 385.1M233.5 385.1L233.6 384.8L234.3 382.4L235.0 380.0L235.7 377.5L236.4 375.1L237.1 372.7L237.8 370.3L238.5 367.9L238.5 367.7M238.5 367.7L239.1 365.5L239.8 363.1L240.5 360.6L241.2 358.2L241.8 355.8L242.5 353.4L243.2 351.0L243.5 349.8M243.5 349.8L243.9 348.6L244.6 346.2L245.2 343.8L245.9 341.4L246.7 339.0L247.4 336.6L248.1 334.2L248.5 332.9M248.5 332.9L248.8 331.8L249.6 329.4L250.3 327.0L251.0 324.6L251.8 322.2L252.5 319.8L253.3 317.5L253.5 316.7M253.5 316.7L254.0 315.1L254.8 312.7L255.5 310.3L256.2 307.9L257.0 305.5L257.7 303.2L258.4 300.8L258.5 300.5M258.5 300.5L259.1 298.4L259.8 296.0L260.5 293.6L261.2 291.2L261.9 288.8L262.6 286.4L263.2 284.0L263.5 282.9M263.5 282.9L263.9 281.5L264.5 279.1L265.1 276.7L265.7 274.3L266.3 271.8L266.9 269.4L267.4 267.0L267.9 264.5L268.4 262.0L268.5 261.7M268.5 261.7L268.9 259.6L269.4 257.1L269.8 254.6L270.3 252.2L270.7 249.7L271.2 247.2L271.6 244.7L272.1 242.2L272.5 239.8L273.0 237.3L273.5 235.1M273.5 235.1L273.6 234.8L274.1 232.4L274.7 230.0L275.3 227.5L276.0 225.1L276.7 222.8L277.5 220.4L278.4 218.1L278.5 217.7M278.5 217.7L279.3 215.7L280.3 213.4L281.3 211.2L282.5 208.9L283.5 207.0M283.5 207.0L283.7 206.7L284.9 204.5L286.1 202.3L287.4 200.1L288.5 198.2M288.5 198.2L288.6 197.9L289.8 195.7L291.0 193.5L292.1 191.3L293.1 189.0L293.5 188.1M293.5 188.1L294.0 186.8L294.9 184.5L295.7 182.2L296.6 179.9L297.6 177.6L298.5 175.5M298.5 175.5L298.6 175.2L299.9 172.9L301.3 170.6L302.8 168.4L303.5 167.5M303.5 167.5L304.5 166.2L306.4 164.2L308.3 162.5L308.5 162.3M308.5 162.3L310.3 161.0L312.4 159.7L313.5 159.3M313.5 159.3L314.5 158.9L316.7 158.4L318.5 158.3M318.5 158.3L318.9 158.3L321.0 158.7L323.1 159.4L323.5 159.6M323.5 159.6L325.2 160.4L327.3 161.7L328.5 162.6M328.5 162.6L329.3 163.2L331.2 164.9L333.0 166.7L333.5 167.3M333.5 167.3L334.7 168.6L336.4 170.6L337.9 172.6L338.5 173.4M338.5 173.4L339.3 174.6L340.7 176.7L342.0 178.9L343.2 181.0L343.5 181.7M343.5 181.7L344.3 183.3L345.4 185.5L346.4 187.8L347.4 190.1L348.3 192.5L348.5 193.1M348.5 193.1L349.1 194.8L350.0 197.2L350.8 199.6L351.6 202.0L352.3 204.4L353.1 206.9L353.5 208.3M353.5 208.3L353.8 209.3L354.5 211.7L355.2 214.1L356.0 216.6L356.7 219.0L357.4 221.4L358.1 223.8L358.5 225.0M358.5 225.0L358.9 226.2L359.6 228.6L360.3 231.0L361.0 233.5L361.7 235.9L362.4 238.3L363.1 240.7L363.5 241.9M363.5 241.9L363.8 243.1L364.6 245.5L365.3 247.9L366.0 250.3L366.6 252.7L367.3 255.1L368.0 257.5L368.5 259.2M368.5 259.2L368.7 259.9L369.4 262.3L370.1 264.7L370.7 267.1L371.4 269.5L372.1 271.9L372.8 274.3L373.4 276.8L373.5 277.1M373.5 277.1L374.1 279.2L374.7 281.6L375.4 284.0L376.0 286.4L376.7 288.8L377.3 291.2L377.9 293.7L378.5 295.9M378.5 295.9L378.6 296.1L379.2 298.5L379.8 300.9L380.4 303.4L381.0 305.8L381.6 308.2L382.2 310.7L382.8 313.1L383.4 315.5L383.5 316.0M383.5 316.0L384.0 318.0L384.5 320.4L385.1 322.9L385.7 325.3L386.3 327.8L386.8 330.2L387.4 332.7L388.0 335.1L388.5 337.4M388.5 337.4L388.5 337.6L389.1 340.0L389.7 342.5L390.2 345.0L390.8 347.4L391.3 349.9L391.9 352.3L392.4 354.8L393.0 357.2L393.5 359.4M393.5 359.4L393.6 359.7L394.1 362.1L394.7 364.6L395.3 367.0L395.8 369.5L396.4 371.9L397.0 374.4L397.5 376.8L398.1 379.3L398.5 380.9M398.5 380.9L398.7 381.7L399.3 384.1L399.8 386.6L400.4 389.0L401.0 391.4L401.6 393.8L402.2 396.3L402.8 398.7L403.5 401.1L403.5 401.3M403.5 401.3L404.1 403.5L404.7 405.9L405.3 408.3L406.0 410.7L406.6 413.1L407.2 415.6L407.9 418.0L408.5 420.3M408.5 420.3L408.5 420.4L409.2 422.8L409.8 425.2L410.4 427.6L411.1 430.1L411.7 432.5L412.4 434.9L413.0 437.4L413.5 439.2M413.5 439.2L413.7 439.8L414.3 442.3L415.0 444.8L415.6 447.3L416.2 449.8L416.9 452.2L417.6 454.7L418.3 457.2L418.5 458.0M418.5 458.0L419.0 459.6L419.8 462.0L420.7 464.3L421.7 466.5L422.8 468.7L423.5 469.8M423.5 469.8L424.1 470.7L425.5 472.6L427.0 474.4L428.5 475.9M428.5 475.9L428.7 476.1L430.6 477.6L432.7 478.9L433.5 479.3M433.5 479.3L435.0 480.0L438.0 481.6L438.5 481.6M438.5 481.6L443.5 481.6M443.5 481.6L448.5 481.6M448.5 481.6L453.5 481.6M453.5 481.6L458.5 481.6M458.5 481.6L463.5 481.6M463.5 481.6L468.5 481.6M468.5 481.6L473.5 481.6M473.5 481.6L478.5 481.6M478.5 481.6L483.5 481.6M483.5 481.6L488.5 481.6M488.5 481.6L493.5 481.6M493.5 481.6L498.5 481.6M498.5 481.6L503.5 481.6M503.5 481.6L508.5 481.6M508.5 481.6L513.5 481.6M513.5 481.6L518.5 481.6M518.5 481.6L523.5 481.6M523.5 481.6L528.5 481.6M528.5 481.6L533.5 481.6M533.5 481.6L538.5 481.6M538.5 481.6L543.5 481.6M543.5 481.6L548.5 481.6M548.5 481.6L553.5 481.6M553.5 481.6L558.5 481.6M558.5 481.6L563.5 481.6M563.5 481.6L568.5 481.6M568.5 481.6L573.5 481.6M573.5 481.6L578.5 481.6M578.5 481.6L583.5 481.6M583.5 481.6L588.5 481.6M588.5 481.6L593.5 481.6M593.5 481.6L598.5 481.6M598.5 481.6L603.5 481.6M603.5 481.6L608.5 481.6M608.5 481.6L613.5 481.6M613.5 481.6L618.5 481.6M618.5 481.6L623.5 481.6M623.5 481.6L628.5 481.6M628.5 481.6L633.5 481.6M633.5 481.6L638.5 481.6M638.5 481.6L643.5 481.6M643.5 481.6L648.5 481.6M648.5 481.6L653.5 481.6M653.5 481.6L658.5 481.6M658.5 481.6L663.5 481.6M663.5 481.6L668.5 481.6M668.5 481.6L673.5 481.6M673.5 481.6L678.5 481.6M678.5 481.6L683.5 481.6M683.5 481.6L688.5 481.6M688.5 481.6L693.5 481.6M693.5 481.6L698.5 481.6M698.5 481.6L703.5 481.6M703.5 481.6L708.5 481.6M708.5 481.6L713.5 481.6M713.5 481.6L718.5 481.6M718.5 481.6L723.5 481.6M723.5 481.6L728.5 481.6M728.5 481.6L733.5 481.6M733.5 481.6L738.5 481.6M738.5 481.6L743.5 481.6M743.5 481.6L748.5 481.6M748.5 481.6L753.5 481.6M753.5 481.6L758.5 481.6M758.5 481.6L763.5 481.6M763.5 481.6L768.5 481.6M768.5 481.6L773.5 481.6M773.5 481.6L778.5 481.6M778.5 481.6L783.5 481.6M783.5 481.6L788.5 481.6M788.5 481.6L793.5 481.6M793.5 481.6L798.5 481.6M798.5 481.6L803.5 481.6M803.5 481.6L808.5 481.6M808.5 481.6L813.5 481.6M813.5 481.6L816.0 481.6" stroke="#555555" stroke-width="3.4" fill="none" stroke-linejoin="round" stroke-dasharray="3.4 3.3"/>
<path d="M140.0 480.0L142.4 480.0L143.5 480.0M143.5 480.0L144.9 480.0L147.3 480.0L148.5 480.0M148.5 480.0L149.8 480.0L152.4 480.0L153.5 480.0M153.5 480.0L154.9 480.0L157.4 479.8L158.5 479.6M158.5 479.6L160.0 479.4L162.5 479.0L163.5 478.8M163.5 478.8L165.0 478.5L167.5 477.9L168.5 477.7M168.5 477.7L170.0 477.3L172.4 476.5L173.5 476.1M173.5 476.1L174.8 475.7L177.1 474.8L178.5 474.2M178.5 474.2L179.4 473.7L181.7 472.6L183.5 471.6M183.5 471.6L183.9 471.5L186.0 470.2L188.0 468.8L188.5 468.4M188.5 468.4L190.0 467.3L191.8 465.7L193.5 464.2M193.5 464.2L193.6 464.1L195.3 462.3L196.9 460.5L198.5 458.6L198.5 458.5M198.5 458.5L199.9 456.6L201.3 454.6L202.7 452.5L203.5 451.1M203.5 451.1L203.9 450.3L205.2 448.1L206.3 445.9L207.5 443.6L208.5 441.4M208.5 441.4L208.6 441.3L209.6 438.9L210.6 436.6L211.6 434.2L212.5 431.8L213.5 429.5L213.5 429.4M213.5 429.4L214.4 427.1L215.3 424.7L216.1 422.4L217.0 420.0L217.8 417.6L218.5 415.8M218.5 415.8L218.7 415.3L219.5 412.9L220.3 410.6L221.1 408.2L221.8 405.9L222.6 403.5L223.4 401.1L223.5 400.7M223.5 400.7L224.1 398.8L224.8 396.4L225.5 394.0L226.2 391.7L226.9 389.3L227.6 386.9L228.3 384.5L228.5 383.7M228.5 383.7L229.0 382.1L229.6 379.7L230.3 377.3L230.9 374.8L231.6 372.4L232.2 370.0L232.8 367.5L233.5 365.1L233.5 365.1M233.5 365.1L234.1 362.7L234.8 360.2L235.4 357.8L236.0 355.4L236.7 352.9L237.3 350.5L238.0 348.1L238.5 346.2M238.5 346.2L238.7 345.6L239.3 343.2L240.0 340.8L240.7 338.4L241.4 335.9L242.1 333.5L242.8 331.1L243.5 328.7L243.5 328.7M243.5 328.7L244.2 326.3L244.9 323.9L245.7 321.5L246.4 319.1L247.2 316.7L247.9 314.3L248.5 312.4M248.5 312.4L248.7 311.9L249.4 309.6L250.2 307.2L250.9 304.8L251.7 302.4L252.4 300.0L253.2 297.6L253.5 296.8M253.5 296.8L254.0 295.3L254.8 292.9L255.5 290.5L256.3 288.1L257.1 285.7L257.8 283.3L258.5 281.2M258.5 281.2L258.6 280.9L259.4 278.6L260.1 276.2L260.9 273.8L261.6 271.4L262.4 269.0L263.2 266.6L263.5 265.5M263.5 265.5L263.9 264.2L264.6 261.8L265.4 259.4L266.1 257.0L266.9 254.6L267.6 252.2L268.3 249.7L268.5 249.1M268.5 249.1L269.0 247.3L269.8 244.9L270.5 242.5L271.3 240.1L272.1 237.7L272.9 235.4L273.5 233.6M273.5 233.6L273.7 233.0L274.6 230.7L275.5 228.4L276.4 226.1L277.3 223.8L278.3 221.5L278.5 221.0M278.5 221.0L279.3 219.2L280.2 216.9L281.2 214.6L282.1 212.2L283.1 209.8L283.5 208.8M283.5 208.8L284.1 207.4L285.1 205.1L286.2 202.8L287.4 200.6L288.5 198.8M288.5 198.8L288.7 198.5L290.2 196.5L291.8 194.7L293.5 193.1M293.5 193.1L293.6 193.0L295.6 191.6L297.8 190.3L298.5 190.0M298.5 190.0L300.1 189.3L302.5 188.6L303.5 188.5M303.5 188.5L305.0 188.2L307.5 188.1L308.5 188.2M308.5 188.2L309.9 188.3L312.3 188.9L313.5 189.4M313.5 189.4L314.5 189.8L316.6 191.0L318.5 192.5M318.5 192.5L318.6 192.5L320.4 194.3L322.2 196.1L323.5 197.7M323.5 197.7L323.9 198.2L325.4 200.3L326.9 202.5L328.4 204.6L328.5 204.8M328.5 204.8L329.7 206.8L331.0 209.0L332.3 211.1L333.5 213.3L333.5 213.4M333.5 213.4L334.6 215.5L335.7 217.7L336.8 219.9L337.9 222.1L338.5 223.3M338.5 223.3L339.0 224.3L340.0 226.6L341.0 228.9L342.0 231.2L343.0 233.4L343.5 234.6M343.5 234.6L344.0 235.8L344.9 238.1L345.9 240.4L346.8 242.7L347.7 245.1L348.5 247.2M348.5 247.2L348.6 247.4L349.5 249.8L350.3 252.1L351.2 254.5L352.1 256.9L353.0 259.2L353.5 260.7M353.5 260.7L353.8 261.6L354.7 264.0L355.5 266.3L356.4 268.7L357.3 271.1L358.1 273.4L358.5 274.4M358.5 274.4L359.0 275.8L359.9 278.1L360.7 280.5L361.6 282.9L362.5 285.2L363.4 287.5L363.5 287.8M363.5 287.8L364.3 289.9L365.2 292.2L366.1 294.6L367.0 296.9L368.0 299.2L368.5 300.5M368.5 300.5L368.9 301.5L369.9 303.8L370.8 306.1L371.8 308.4L372.8 310.7L373.5 312.3M373.5 312.3L373.8 313.0L374.9 315.3L375.9 317.5L377.0 319.8L378.0 322.1L378.5 323.0M378.5 323.0L379.1 324.3L380.2 326.5L381.4 328.8L382.5 331.0L383.5 332.8M383.5 332.8L383.7 333.2L384.9 335.4L386.1 337.6L387.4 339.7L388.5 341.6M388.5 341.6L388.6 341.9L389.9 344.0L391.3 346.2L392.6 348.3L393.5 349.7M393.5 349.7L394.0 350.4L395.4 352.5L396.8 354.6L398.3 356.7L398.5 357.0M398.5 357.0L399.7 358.7L401.2 360.8L402.7 362.8L403.5 363.8M403.5 363.8L404.3 364.8L405.8 366.8L407.4 368.8L408.5 370.2M408.5 370.2L409.0 370.8L410.6 372.7L412.2 374.6L413.5 376.2M413.5 376.2L413.8 376.6L415.5 378.4L417.1 380.3L418.5 381.8M418.5 381.8L418.8 382.2L420.5 384.0L422.2 385.8L423.5 387.2M423.5 387.2L423.9 387.6L425.6 389.3L427.4 390.9L428.5 391.8M428.5 391.8L429.3 392.5L431.3 394.0L433.3 395.4L433.5 395.5M433.5 395.5L435.4 396.7L437.6 398.0L438.5 398.7M438.5 398.7L439.6 399.4L441.6 400.9L443.5 402.5M443.5 402.5L443.6 402.5L445.4 404.2L447.1 406.0L448.5 407.6M448.5 407.6L448.8 407.9L450.4 409.8L451.9 411.8L453.3 413.8L453.5 414.0M453.5 414.0L454.7 415.8L456.1 417.9L457.4 420.0L458.5 421.9M458.5 421.9L458.6 422.2L459.8 424.3L461.0 426.5L462.1 428.8L463.2 431.0L463.5 431.7M463.5 431.7L464.3 433.3L465.3 435.6L466.3 437.9L467.3 440.3L468.3 442.6L468.5 443.1M468.5 443.1L469.3 445.0L470.2 447.4L471.2 449.8L472.1 452.2L473.1 454.5L473.5 455.4M473.5 455.4L474.1 456.9L475.2 459.2L476.3 461.4L477.5 463.6L478.5 465.3M478.5 465.3L478.8 465.7L480.1 467.8L481.5 469.7L483.0 471.6L483.5 472.1M483.5 472.1L484.7 473.3L486.5 475.0L488.4 476.4L488.5 476.5M488.5 476.5L490.4 477.8L492.6 479.0L493.5 479.4M493.5 479.4L495.0 480.0L498.0 481.6L498.5 481.6M498.5 481.6L503.5 481.6M503.5 481.6L508.5 481.6M508.5 481.6L513.5 481.6M513.5 481.6L518.5 481.6M518.5 481.6L523.5 481.6M523.5 481.6L528.5 481.6M528.5 481.6L533.5 481.6M533.5 481.6L538.5 481.6M538.5 481.6L543.5 481.6M543.5 481.6L548.5 481.6M548.5 481.6L553.5 481.6M553.5 481.6L558.5 481.6M558.5 481.6L563.5 481.6M563.5 481.6L568.5 481.6M568.5 481.6L573.5 481.6M573.5 481.6L578.5 481.6M578.5 481.6L583.5 481.6M583.5 481.6L588.5 481.6M588.5 481.6L593.5 481.6M593.5 481.6L598.5 481.6M598.5 481.6L603.5 481.6M603.5 481.6L608.5 481.6M608.5 481.6L613.5 481.6M613.5 481.6L618.5 481.6M618.5 481.6L623.5 481.6M623.5 481.6L628.5 481.6M628.5 481.6L633.5 481.6M633.5 481.6L638.5 481.6M638.5 481.6L643.5 481.6M643.5 481.6L648.5 481.6M648.5 481.6L653.5 481.6M653.5 481.6L658.5 481.6M658.5 481.6L663.5 481.6M663.5 481.6L668.5 481.6M668.5 481.6L673.5 481.6M673.5 481.6L678.5 481.6M678.5 481.6L683.5 481.6M683.5 481.6L688.5 481.6M688.5 481.6L693.5 481.6M693.5 481.6L698.5 481.6M698.5 481.6L703.5 481.6M703.5 481.6L708.5 481.6M708.5 481.6L713.5 481.6M713.5 481.6L718.5 481.6M718.5 481.6L723.5 481.6M723.5 481.6L728.5 481.6M728.5 481.6L733.5 481.6M733.5 481.6L738.5 481.6M738.5 481.6L743.5 481.6M743.5 481.6L748.5 481.6M748.5 481.6L753.5 481.6M753.5 481.6L758.5 481.6M758.5 481.6L763.5 481.6M763.5 481.6L768.5 481.6M768.5 481.6L773.5 481.6M773.5 481.6L778.5 481.6M778.5 481.6L783.5 481.6M783.5 481.6L788.5 481.6M788.5 481.6L793.5 481.6M793.5 481.6L798.5 481.6M798.5 481.6L803.5 481.6M803.5 481.6L808.5 481.6M808.5 481.6L813.5 481.6M813.5 481.6L816.0 481.6" stroke="#555555" stroke-width="3.4" fill="none" stroke-linejoin="round" stroke-dasharray="10 3.4"/>
<path d="M999.0 481.3L1001.6 481.3L1004.1 481.3L1006.7 481.3L1009.3 481.3L1011.8 481.3L1014.4 481.3L1016.9 481.3L1019.4 481.3L1021.9 481.3L1024.5 481.3L1027.0 481.3L1029.5 481.3L1031.9 481.3L1034.4 481.0L1036.9 480.7L1039.3 480.4L1041.8 480.0L1044.2 479.6L1046.6 479.1L1049.0 478.6L1051.4 478.0L1053.8 477.4L1056.1 476.8L1058.5 476.1L1060.8 475.3L1063.1 474.5L1065.4 473.6L1067.6 472.7L1069.9 471.7L1072.1 470.7L1074.3 469.6L1076.5 468.5L1078.7 467.4L1080.9 466.2L1083.0 464.9L1085.2 463.6L1087.3 462.3L1089.4 461.0L1091.5 459.6L1093.6 458.2L1095.7 456.8L1097.8 455.4L1099.9 453.9L1101.9 452.4L1104.0 450.9L1106.1 449.5L1108.1 448.0L1110.2 446.5L1112.2 445.0L1114.3 443.4L1116.4 442.0L1118.4 440.5L1120.5 439.0L1122.5 437.5L1124.6 436.1L1126.7 434.6L1128.7 433.2L1130.8 431.8L1132.9 430.3L1135.0 429.0L1137.1 427.6L1139.2 426.2L1141.3 424.9L1143.4 423.5L1145.5 422.2L1147.6 420.9L1149.7 419.6L1151.8 418.3L1154.0 417.0L1156.1 415.8L1158.3 414.5L1160.4 413.3L1162.6 412.1L1164.7 410.9L1166.9 409.7L1169.1 408.5L1171.3 407.3L1173.5 406.2L1175.7 405.1L1177.9 404.0L1180.1 402.9L1182.3 401.8L1184.6 400.7L1186.8 399.7L1189.0 398.6L1191.3 397.6L1193.6 396.6L1195.9 395.6L1198.1 394.6L1200.4 393.7L1202.8 392.7L1205.1 391.8L1207.4 390.9L1209.7 390.0L1212.1 389.1L1214.5 388.2L1216.8 387.4L1219.2 386.6L1221.6 385.7L1224.0 384.9L1226.4 384.2L1228.9 383.4L1231.3 382.7L1233.8 381.9L1236.2 381.2L1238.7 380.5L1241.2 379.8L1243.6 379.1L1246.1 378.4L1248.6 377.7L1251.1 377.0L1253.5 376.3L1256.0 375.5L1258.4 374.8L1260.8 374.0L1263.3 373.2L1265.7 372.4L1268.0 371.5L1270.4 370.6L1272.7 369.7L1275.0 368.7L1277.2 367.7L1279.5 366.7L1281.7 365.6L1283.8 364.4L1286.0 363.2L1288.0 361.9L1290.1 360.6L1292.1 359.2L1294.0 357.8L1295.9 356.3L1297.8 354.7L1299.6 353.1L1301.4 351.4L1303.1 349.7L1304.9 347.9L1306.5 346.1L1308.2 344.3L1309.8 342.4L1311.4 340.5L1313.0 338.5L1314.5 336.5L1316.0 334.5L1317.5 332.5L1318.9 330.4L1320.4 328.3L1321.8 326.2L1323.1 324.0L1324.5 321.9L1325.9 319.7L1327.2 317.5L1328.5 315.3L1329.8 313.1L1331.1 310.9L1332.4 308.7L1333.6 306.5L1334.9 304.3L1336.1 302.1L1337.3 299.9L1338.5 297.6L1339.7 295.4L1340.9 293.2L1342.1 290.9L1343.3 288.7L1344.4 286.5L1345.6 284.2L1346.7 282.0L1347.9 279.7L1349.0 277.5L1350.1 275.2L1351.2 273.0L1352.3 270.7L1353.4 268.5L1354.5 266.2L1355.6 263.9L1356.7 261.7L1357.7 259.4L1358.8 257.2L1359.9 254.9L1360.9 252.6L1362.0 250.4L1363.0 248.1L1364.1 245.8L1365.1 243.5L1366.1 241.3L1367.2 239.0L1368.2 236.7L1369.2 234.5L1370.3 232.2L1371.3 229.9L1372.3 227.6L1373.3 225.4L1374.4 223.1L1375.4 220.8L1376.4 218.5L1377.4 216.3L1378.5 214.0L1379.5 211.7L1380.5 209.5L1381.5 207.2L1382.6 204.9L1383.6 202.7L1384.6 200.4L1385.7 198.1L1386.7 195.9L1387.8 193.6L1388.8 191.3L1389.9 189.1L1391.0 186.8L1392.0 184.6L1393.1 182.3L1394.2 180.1L1395.3 177.8L1396.3 175.6L1397.4 173.3L1398.5 171.1L1399.6 168.8L1400.8 166.6L1401.9 164.3L1403.0 162.1L1404.2 159.8L1405.3 157.6L1406.5 155.4L1407.6 153.1L1408.8 150.9L1410.0 148.6L1411.2 146.4L1412.4 144.2L1413.6 141.9L1414.8 139.7L1416.0 137.5L1417.3 135.3L1418.5 133.0L1419.8 130.8L1421.1 128.6L1422.4 126.4L1423.7 124.1L1425.0 122.0L1426.4 119.8L1427.8 117.7L1429.3 115.6L1430.9 113.6L1432.5 111.7L1434.2 109.9L1436.0 108.2L1437.9 106.5L1439.9 105.0L1442.0 103.7L1444.2 102.4L1446.5 101.4L1448.8 100.5L1451.2 99.9L1453.5 99.5L1455.9 99.3L1458.2 99.4L1460.4 99.8L1462.6 100.5L1464.8 101.5L1466.9 102.7L1468.9 104.1L1470.8 105.6L1472.7 107.3L1474.6 109.2L1476.3 111.1L1478.0 113.1L1479.6 115.2L1481.1 117.3L1482.6 119.4L1484.0 121.6L1485.3 123.7L1486.6 125.9L1487.8 128.2L1489.0 130.4L1490.1 132.7L1491.2 135.0L1492.2 137.3L1493.2 139.6L1494.2 141.9L1495.2 144.2L1496.1 146.6L1497.0 148.9L1497.9 151.3L1498.8 153.6L1499.7 156.0L1500.5 158.3L1501.3 160.7L1502.1 163.1L1502.9 165.5L1503.6 167.9L1504.4 170.3L1505.1 172.7L1505.8 175.1L1506.5 177.5L1507.2 179.9L1507.9 182.3L1508.6 184.7L1509.3 187.1L1509.9 189.6L1510.6 192.0L1511.2 194.4L1511.9 196.8L1512.6 199.2L1513.2 201.7L1513.8 204.1L1514.5 206.5L1515.1 208.9L1515.8 211.4L1516.4 213.8L1517.1 216.2L1517.7 218.6L1518.4 221.0L1519.0 223.5L1519.7 225.9L1520.3 228.3L1521.0 230.7L1521.6 233.2L1522.3 235.6L1522.9 238.0L1523.5 240.4L1524.2 242.8L1524.8 245.3L1525.5 247.7L1526.1 250.1L1526.7 252.5L1527.4 255.0L1528.0 257.4L1528.6 259.8L1529.2 262.2L1529.9 264.7L1530.5 267.1L1531.1 269.5L1531.7 272.0L1532.4 274.4L1533.0 276.8L1533.6 279.2L1534.2 281.7L1534.8 284.1L1535.4 286.5L1536.0 289.0L1536.6 291.4L1537.2 293.8L1537.8 296.3L1538.4 298.7L1539.0 301.2L1539.6 303.6L1540.1 306.0L1540.7 308.5L1541.3 310.9L1541.8 313.4L1542.4 315.8L1543.0 318.3L1543.5 320.7L1544.1 323.2L1544.6 325.6L1545.2 328.1L1545.7 330.5L1546.3 333.0L1546.8 335.4L1547.3 337.9L1547.8 340.4L1548.4 342.8L1548.9 345.3L1549.4 347.8L1549.9 350.2L1550.4 352.7L1550.9 355.2L1551.4 357.7L1551.9 360.1L1552.3 362.6L1552.8 365.1L1553.3 367.6L1553.8 370.0L1554.3 372.5L1554.7 375.0L1555.2 377.5L1555.7 379.9L1556.2 382.4L1556.6 384.9L1557.1 387.4L1557.6 389.8L1558.1 392.3L1558.5 394.8L1559.0 397.3L1559.5 399.7L1560.0 402.2L1560.5 404.7L1561.0 407.1L1561.5 409.6L1562.0 412.0L1562.5 414.5L1563.0 416.9L1563.5 419.4L1564.0 421.8L1564.5 424.3L1565.1 426.7L1565.6 429.1L1566.2 431.6L1566.7 434.0L1567.3 436.4L1567.8 438.8L1568.4 441.2L1569.0 443.7L1569.6 446.1L1570.2 448.4L1570.8 450.8L1571.5 453.2L1572.1 455.6L1572.8 458.0L1573.4 460.3L1574.1 462.7L1574.8 465.0L1575.5 467.4L1576.2 469.7L1576.9 472.1L1577.7 474.4L1578.4 476.7L1579.2 479.0L1580.0 481.3L1583.0 482.9L1671.0 482.9" stroke="#f80000" stroke-width="3.4" fill="none" stroke-linejoin="round"/>
<path d="M999.0 481.3L1001.5 481.3L1002.1 481.3M1002.1 481.3L1004.1 481.3L1006.6 481.3L1007.7 481.3M1007.7 481.3L1009.1 481.3L1011.6 481.3L1013.3 481.3M1013.3 481.3L1014.1 481.2L1016.6 481.2L1018.9 481.1M1018.9 481.1L1019.0 481.1L1021.5 481.0L1024.0 480.9L1024.5 480.9M1024.5 480.9L1026.5 480.9L1028.9 480.8L1030.1 480.8M1030.1 480.8L1031.4 480.7L1033.9 480.7L1035.7 480.7M1035.7 480.7L1036.4 480.7L1038.9 480.7L1041.3 480.7M1041.3 480.7L1041.4 480.7L1044.0 480.7L1046.5 480.8L1046.9 480.8M1046.9 480.8L1049.0 480.9L1051.6 481.0L1052.4 481.1M1052.4 481.1L1054.2 481.2L1056.7 481.3L1058.0 481.3M1058.0 481.3L1059.3 481.3L1061.9 481.3L1063.6 481.3M1063.6 481.3L1064.5 481.3L1067.0 481.3L1069.2 481.3M1069.2 481.3L1069.6 481.3L1072.1 481.3L1074.6 481.3L1074.8 481.3M1074.8 481.3L1077.1 481.3L1079.6 481.2L1080.4 481.1M1080.4 481.1L1082.1 480.9L1084.5 480.5L1086.0 480.3M1086.0 480.3L1086.9 480.1L1089.3 479.5L1091.6 478.9M1091.6 478.9L1091.7 478.9L1094.0 478.2L1096.3 477.4L1097.2 477.1M1097.2 477.1L1098.6 476.6L1100.9 475.7L1102.8 474.9M1102.8 474.9L1103.2 474.8L1105.4 473.7L1107.6 472.7L1108.4 472.3M1108.4 472.3L1109.8 471.6L1112.0 470.4L1114.0 469.3M1114.0 469.3L1114.2 469.2L1116.4 468.0L1118.5 466.7L1119.6 466.0M1119.6 466.0L1120.6 465.4L1122.8 464.1L1124.9 462.7L1125.2 462.5M1125.2 462.5L1127.0 461.3L1129.1 459.9L1130.8 458.8M1130.8 458.8L1131.2 458.5L1133.3 457.1L1135.3 455.7L1136.3 455.0M1136.3 455.0L1137.4 454.3L1139.5 452.9L1141.5 451.4L1141.9 451.1M1141.9 451.1L1143.6 450.0L1145.6 448.6L1147.5 447.2M1147.5 447.2L1147.7 447.1L1149.7 445.7L1151.8 444.2L1153.1 443.3M1153.1 443.3L1153.8 442.8L1155.9 441.4L1157.9 439.9L1158.7 439.3M1158.7 439.3L1159.9 438.5L1162.0 437.0L1164.0 435.6L1164.3 435.4M1164.3 435.4L1166.0 434.2L1168.1 432.7L1169.9 431.4M1169.9 431.4L1170.1 431.3L1172.1 429.9L1174.2 428.5L1175.5 427.5M1175.5 427.5L1176.2 427.0L1178.3 425.6L1180.3 424.2L1181.1 423.7M1181.1 423.7L1182.4 422.8L1184.4 421.4L1186.5 420.0L1186.7 419.9M1186.7 419.9L1188.5 418.7L1190.6 417.3L1192.3 416.2M1192.3 416.2L1192.7 415.9L1194.8 414.5L1196.8 413.2L1197.9 412.5M1197.9 412.5L1198.9 411.9L1201.0 410.5L1203.1 409.2L1203.5 409.0M1203.5 409.0L1205.2 407.9L1207.4 406.6L1209.1 405.6M1209.1 405.6L1209.5 405.3L1211.6 404.0L1213.8 402.8L1214.7 402.3M1214.7 402.3L1215.9 401.5L1218.1 400.3L1220.2 399.1M1220.2 399.1L1220.3 399.1L1222.5 397.8L1224.6 396.6L1225.8 396.0M1225.8 396.0L1226.9 395.5L1229.1 394.3L1231.3 393.2L1231.4 393.1M1231.4 393.1L1233.6 392.0L1235.8 390.9L1237.0 390.3M1237.0 390.3L1238.1 389.8L1240.4 388.7L1242.6 387.7M1242.6 387.7L1242.7 387.7L1245.0 386.6L1247.3 385.6L1248.2 385.2M1248.2 385.2L1249.6 384.6L1252.0 383.6L1253.8 382.8M1253.8 382.8L1254.3 382.6L1256.7 381.6L1259.0 380.6L1259.4 380.4M1259.4 380.4L1261.4 379.6L1263.7 378.6L1265.0 378.1M1265.0 378.1L1266.1 377.6L1268.5 376.7L1270.6 375.8M1270.6 375.8L1270.8 375.7L1273.2 374.7L1275.5 373.7L1276.2 373.5M1276.2 373.5L1277.9 372.8L1280.2 371.8L1281.8 371.1M1281.8 371.1L1282.6 370.8L1284.9 369.8L1287.2 368.7L1287.4 368.7M1287.4 368.7L1289.5 367.7L1291.8 366.7L1293.0 366.1M1293.0 366.1L1294.1 365.6L1296.3 364.5L1298.6 363.5M1298.6 363.5L1298.6 363.4L1300.8 362.3L1303.1 361.2L1304.1 360.6M1304.1 360.6L1305.2 360.0L1307.4 358.9L1309.6 357.7L1309.7 357.6M1309.7 357.6L1311.7 356.4L1313.8 355.2L1315.3 354.2M1315.3 354.2L1315.9 353.9L1318.0 352.6L1320.0 351.2L1320.9 350.6M1320.9 350.6L1322.0 349.8L1324.0 348.4L1325.9 347.0L1326.5 346.5M1326.5 346.5L1327.8 345.5L1329.7 343.9L1331.5 342.4L1332.1 341.8M1332.1 341.8L1333.3 340.7L1335.1 339.1L1336.8 337.4L1337.7 336.5M1337.7 336.5L1338.5 335.6L1340.1 333.8L1341.8 332.0L1343.3 330.1M1343.3 330.1L1343.3 330.1L1344.8 328.1L1346.3 326.2L1347.8 324.1L1348.9 322.5M1348.9 322.5L1349.2 322.1L1350.6 320.0L1352.0 317.9L1353.3 315.7L1354.5 313.7M1354.5 313.7L1354.6 313.5L1355.9 311.3L1357.1 309.1L1358.4 306.9L1359.6 304.6L1360.1 303.7M1360.1 303.7L1360.8 302.3L1362.0 300.0L1363.1 297.7L1364.3 295.4L1365.4 293.1L1365.7 292.6M1365.7 292.6L1366.5 290.8L1367.7 288.5L1368.8 286.2L1369.9 283.9L1371.0 281.6L1371.3 281.0M1371.3 281.0L1372.1 279.3L1373.2 277.0L1374.3 274.7L1375.4 272.5L1376.5 270.2L1376.9 269.5M1376.9 269.5L1377.6 268.0L1378.7 265.8L1379.8 263.6L1380.9 261.4L1382.0 259.2L1382.4 258.2M1382.4 258.2L1383.1 257.0L1384.2 254.8L1385.3 252.6L1386.4 250.4L1387.4 248.2L1388.0 247.0M1388.0 247.0L1388.5 246.0L1389.6 243.8L1390.7 241.6L1391.8 239.4L1392.9 237.2L1393.6 235.6M1393.6 235.6L1393.9 234.9L1395.0 232.7L1396.1 230.4L1397.1 228.2L1398.2 225.9L1399.2 223.7M1399.2 223.7L1399.2 223.6L1400.3 221.3L1401.3 219.0L1402.4 216.6L1403.4 214.3L1404.5 211.9L1404.8 211.1M1404.8 211.1L1405.5 209.6L1406.5 207.2L1407.5 204.9L1408.6 202.5L1409.6 200.2L1410.4 198.4M1410.4 198.4L1410.6 197.9L1411.6 195.7L1412.7 193.4L1413.7 191.2L1414.7 189.0L1415.8 186.9L1416.0 186.4M1416.0 186.4L1416.8 184.7L1417.9 182.6L1419.0 180.5L1420.1 178.4L1421.2 176.3L1421.6 175.5M1421.6 175.5L1422.3 174.2L1423.4 172.0L1424.6 169.8L1425.8 167.6L1427.1 165.4L1427.2 165.2M1427.2 165.2L1428.3 163.1L1429.6 160.8L1431.0 158.5L1432.3 156.1L1432.8 155.4M1432.8 155.4L1433.8 153.8L1435.2 151.4L1436.7 149.1L1438.2 146.8L1438.4 146.5M1438.4 146.5L1439.8 144.5L1441.4 142.4L1443.0 140.2L1444.0 139.1M1444.0 139.1L1444.7 138.2L1446.4 136.3L1448.2 134.5L1449.6 133.2M1449.6 133.2L1450.0 132.8L1451.9 131.3L1453.8 129.9L1455.2 129.0M1455.2 129.0L1455.7 128.7L1457.7 127.6L1459.8 126.8L1460.8 126.5M1460.8 126.5L1461.9 126.1L1464.0 125.7L1466.2 125.5L1466.3 125.5M1466.3 125.5L1468.4 125.5L1470.7 125.8L1471.9 126.0M1471.9 126.0L1473.0 126.3L1475.3 127.0L1477.5 127.8M1477.5 127.8L1477.6 127.9L1479.8 128.9L1482.0 130.2L1483.1 131.0M1483.1 131.0L1484.1 131.6L1486.0 133.2L1487.9 134.9L1488.7 135.8M1488.7 135.8L1489.6 136.8L1491.2 138.7L1492.7 140.8L1494.1 142.9L1494.3 143.3M1494.3 143.3L1495.4 145.2L1496.6 147.4L1497.8 149.8L1498.9 152.1L1499.9 154.4M1499.9 154.4L1500.0 154.5L1501.0 156.9L1502.0 159.3L1502.9 161.7L1503.9 164.0L1504.8 166.4L1505.5 168.2M1505.5 168.2L1505.7 168.8L1506.6 171.2L1507.5 173.6L1508.3 175.9L1509.1 178.3L1509.9 180.7L1510.7 183.1L1511.1 184.2M1511.1 184.2L1511.5 185.5L1512.3 187.8L1513.0 190.2L1513.7 192.6L1514.5 195.0L1515.2 197.4L1515.9 199.7L1516.6 202.1L1516.7 202.5M1516.7 202.5L1517.3 204.5L1517.9 206.9L1518.6 209.3L1519.2 211.7L1519.9 214.1L1520.6 216.5L1521.2 218.9L1521.8 221.3L1522.3 222.9M1522.3 222.9L1522.5 223.7L1523.1 226.1L1523.8 228.5L1524.4 230.9L1525.0 233.3L1525.7 235.7L1526.3 238.1L1527.0 240.5L1527.6 242.9L1527.9 244.0M1527.9 244.0L1528.2 245.4L1528.9 247.8L1529.5 250.2L1530.1 252.6L1530.7 255.0L1531.4 257.5L1532.0 259.9L1532.6 262.3L1533.2 264.8L1533.5 265.6M1533.5 265.6L1533.9 267.2L1534.5 269.6L1535.1 272.0L1535.7 274.5L1536.4 276.9L1537.0 279.3L1537.6 281.8L1538.2 284.2L1538.8 286.7L1539.1 287.5M1539.1 287.5L1539.5 289.1L1540.1 291.5L1540.7 294.0L1541.3 296.4L1541.9 298.9L1542.5 301.3L1543.1 303.7L1543.7 306.2L1544.4 308.6L1544.7 309.8M1544.7 309.8L1545.0 311.1L1545.6 313.5L1546.2 315.9L1546.8 318.4L1547.4 320.8L1548.0 323.3L1548.6 325.7L1549.2 328.1L1549.8 330.6L1550.2 332.4M1550.2 332.4L1550.4 333.0L1551.0 335.4L1551.6 337.9L1552.2 340.3L1552.8 342.7L1553.4 345.2L1554.0 347.6L1554.6 350.0L1555.2 352.5L1555.8 354.9L1555.8 355.2M1555.8 355.2L1556.4 357.3L1557.0 359.8L1557.5 362.2L1558.1 364.6L1558.7 367.0L1559.3 369.4L1559.9 371.9L1560.5 374.3L1561.1 376.7L1561.4 378.2M1561.4 378.2L1561.7 379.1L1562.2 381.6L1562.8 384.0L1563.4 386.4L1564.0 388.8L1564.5 391.2L1565.1 393.7L1565.7 396.1L1566.3 398.5L1566.8 401.0L1567.0 401.8M1567.0 401.8L1567.4 403.4L1568.0 405.9L1568.5 408.3L1569.1 410.7L1569.6 413.2L1570.2 415.7L1570.7 418.1L1571.3 420.6L1571.8 423.1L1572.3 425.5L1572.6 426.8M1572.6 426.8L1572.9 428.0L1573.4 430.5L1573.9 433.0L1574.5 435.5L1575.0 438.0L1575.5 440.5L1576.1 443.0L1576.6 445.5L1577.2 448.0L1577.8 450.4L1578.2 452.2M1578.2 452.2L1578.4 452.9L1579.0 455.3L1579.7 457.7L1580.4 460.0L1581.1 462.4L1581.9 464.7L1582.7 466.9L1583.6 469.1L1583.8 469.7M1583.8 469.7L1584.5 471.3L1585.4 473.4L1586.5 475.5L1587.6 477.5L1588.7 479.4L1589.4 480.5M1589.4 480.5L1590.0 481.3L1593.0 482.9L1595.0 482.9M1595.0 482.9L1600.6 482.9M1600.6 482.9L1606.2 482.9M1606.2 482.9L1611.8 482.9M1611.8 482.9L1617.4 482.9M1617.4 482.9L1623.0 482.9M1623.0 482.9L1628.6 482.9M1628.6 482.9L1634.1 482.9M1634.1 482.9L1639.7 482.9M1639.7 482.9L1645.3 482.9M1645.3 482.9L1650.9 482.9M1650.9 482.9L1656.5 482.9M1656.5 482.9L1662.1 482.9M1662.1 482.9L1667.7 482.9M1667.7 482.9L1671.0 482.9" stroke="#f80000" stroke-width="3.4" fill="none" stroke-linejoin="round" stroke-dasharray="3.4 3.3"/>
<path d="M999.0 481.3L1001.5 481.3L1004.0 481.3L1006.5 481.3L1009.0 481.3L1011.5 481.3L1014.0 481.3L1016.6 481.3L1019.1 481.3L1021.6 481.3L1024.2 481.3L1026.7 481.2L1029.2 481.1L1031.7 481.0L1034.3 480.8L1036.8 480.7L1039.3 480.5L1041.8 480.2L1044.3 479.9L1046.8 479.6L1049.3 479.2L1051.7 478.8L1054.2 478.4L1056.6 477.9L1059.0 477.3L1061.4 476.7L1063.8 476.1L1066.2 475.3L1068.5 474.6L1070.8 473.7L1073.2 472.8L1075.4 471.9L1077.7 470.9L1080.0 469.8L1082.2 468.8L1084.5 467.6L1086.7 466.5L1088.9 465.3L1091.1 464.0L1093.3 462.8L1095.5 461.5L1097.6 460.2L1099.8 458.9L1101.9 457.5L1104.1 456.2L1106.2 454.8L1108.4 453.4L1110.5 452.1L1112.7 450.7L1114.8 449.3L1116.9 447.9L1119.1 446.6L1121.2 445.2L1123.4 443.9L1125.5 442.5L1127.6 441.2L1129.8 439.9L1131.9 438.6L1134.1 437.3L1136.2 436.0L1138.4 434.7L1140.6 433.4L1142.7 432.2L1144.9 430.9L1147.1 429.7L1149.2 428.5L1151.4 427.3L1153.6 426.1L1155.8 424.9L1158.0 423.7L1160.2 422.5L1162.4 421.4L1164.6 420.2L1166.8 419.1L1169.1 418.0L1171.3 416.9L1173.5 415.8L1175.8 414.7L1178.0 413.7L1180.3 412.6L1182.5 411.6L1184.8 410.6L1187.1 409.6L1189.4 408.6L1191.6 407.6L1194.0 406.7L1196.3 405.7L1198.6 404.8L1200.9 403.9L1203.2 403.0L1205.6 402.1L1207.9 401.2L1210.3 400.4L1212.7 399.5L1215.1 398.7L1217.5 397.9L1219.9 397.1L1222.3 396.4L1224.7 395.6L1227.1 394.9L1229.6 394.2L1232.0 393.5L1234.5 392.8L1237.0 392.1L1239.4 391.4L1241.9 390.7L1244.4 390.0L1246.8 389.3L1249.3 388.6L1251.7 387.9L1254.2 387.2L1256.6 386.4L1259.0 385.6L1261.4 384.8L1263.8 384.0L1266.2 383.2L1268.5 382.3L1270.8 381.4L1273.1 380.4L1275.4 379.4L1277.6 378.4L1279.9 377.3L1282.0 376.2L1284.2 375.0L1286.3 373.7L1288.4 372.4L1290.5 371.1L1292.5 369.7L1294.5 368.3L1296.5 366.9L1298.4 365.4L1300.4 363.8L1302.3 362.3L1304.2 360.7L1306.0 359.0L1307.9 357.4L1309.7 355.7L1311.6 354.0L1313.4 352.3L1315.1 350.5L1316.9 348.7L1318.7 347.0L1320.4 345.2L1322.2 343.3L1323.9 341.5L1325.7 339.7L1327.4 337.8L1329.1 336.0L1330.8 334.1L1332.5 332.3L1334.2 330.4L1335.9 328.5L1337.6 326.6L1339.3 324.7L1341.0 322.8L1342.6 320.9L1344.3 319.0L1346.0 317.1L1347.6 315.2L1349.2 313.2L1350.9 311.3L1352.5 309.3L1354.1 307.4L1355.7 305.4L1357.3 303.4L1358.9 301.5L1360.5 299.5L1362.0 297.5L1363.6 295.5L1365.1 293.5L1366.7 291.5L1368.2 289.5L1369.7 287.5L1371.3 285.5L1372.8 283.5L1374.3 281.4L1375.7 279.4L1377.2 277.4L1378.7 275.3L1380.1 273.3L1381.6 271.2L1383.0 269.2L1384.4 267.1L1385.8 265.1L1387.2 263.0L1388.6 260.9L1390.0 258.9L1391.4 256.8L1392.7 254.7L1394.1 252.6L1395.4 250.5L1396.7 248.4L1398.0 246.4L1399.3 244.3L1400.6 242.2L1401.9 240.1L1403.1 237.9L1404.4 235.8L1405.6 233.7L1406.9 231.6L1408.1 229.5L1409.4 227.3L1410.6 225.2L1411.8 223.1L1413.1 220.9L1414.3 218.8L1415.5 216.6L1416.8 214.5L1418.0 212.3L1419.3 210.1L1420.5 207.9L1421.8 205.7L1423.1 203.5L1424.4 201.3L1425.7 199.1L1427.0 196.9L1428.3 194.7L1429.6 192.4L1431.0 190.2L1432.4 187.9L1433.8 185.7L1435.2 183.4L1436.6 181.1L1438.1 178.9L1439.6 176.6L1441.1 174.5L1442.7 172.3L1444.4 170.3L1446.1 168.3L1447.8 166.4L1449.6 164.6L1451.5 163.0L1453.5 161.4L1455.5 160.1L1457.6 158.8L1459.7 157.7L1461.9 156.8L1464.1 156.1L1466.3 155.6L1468.5 155.3L1470.7 155.2L1472.9 155.3L1475.1 155.6L1477.2 156.1L1479.4 156.9L1481.5 157.8L1483.5 158.9L1485.5 160.1L1487.5 161.5L1489.3 163.1L1491.2 164.8L1492.9 166.6L1494.6 168.5L1496.1 170.5L1497.6 172.6L1499.0 174.8L1500.3 177.0L1501.5 179.3L1502.7 181.7L1503.7 184.1L1504.8 186.5L1505.7 189.0L1506.6 191.5L1507.5 194.0L1508.4 196.5L1509.2 199.1L1510.1 201.6L1510.9 204.1L1511.7 206.5L1512.5 209.0L1513.3 211.4L1514.2 213.9L1515.0 216.3L1515.8 218.7L1516.6 221.1L1517.4 223.5L1518.2 225.9L1518.9 228.3L1519.7 230.6L1520.5 233.0L1521.3 235.4L1522.1 237.7L1522.8 240.1L1523.6 242.4L1524.4 244.8L1525.1 247.1L1525.9 249.5L1526.6 251.8L1527.4 254.2L1528.1 256.5L1528.8 258.9L1529.6 261.3L1530.3 263.6L1531.0 266.0L1531.8 268.4L1532.5 270.8L1533.2 273.1L1533.9 275.5L1534.6 277.9L1535.3 280.3L1536.0 282.7L1536.7 285.1L1537.4 287.5L1538.1 289.9L1538.8 292.3L1539.5 294.8L1540.2 297.2L1540.9 299.6L1541.5 302.0L1542.2 304.4L1542.9 306.9L1543.6 309.3L1544.2 311.7L1544.9 314.2L1545.6 316.6L1546.2 319.0L1546.9 321.4L1547.6 323.9L1548.2 326.3L1548.9 328.8L1549.6 331.2L1550.2 333.6L1550.9 336.1L1551.5 338.5L1552.2 340.9L1552.9 343.4L1553.5 345.8L1554.2 348.3L1554.8 350.7L1555.5 353.1L1556.1 355.6L1556.8 358.0L1557.5 360.4L1558.1 362.9L1558.8 365.3L1559.4 367.7L1560.1 370.1L1560.7 372.6L1561.4 375.0L1562.1 377.4L1562.7 379.8L1563.4 382.2L1564.0 384.6L1564.7 387.1L1565.4 389.5L1566.0 391.9L1566.7 394.3L1567.3 396.7L1568.0 399.1L1568.6 401.5L1569.3 403.9L1569.9 406.3L1570.6 408.8L1571.2 411.2L1571.9 413.6L1572.5 416.0L1573.2 418.5L1573.8 420.9L1574.4 423.3L1575.0 425.8L1575.7 428.2L1576.3 430.7L1576.9 433.1L1577.5 435.6L1578.1 438.1L1578.7 440.5L1579.3 443.0L1579.8 445.5L1580.5 448.0L1581.1 450.4L1581.7 452.9L1582.4 455.3L1583.0 457.7L1583.8 460.1L1584.5 462.5L1585.3 464.8L1586.2 467.0L1587.1 469.2L1588.1 471.4L1589.1 473.5L1590.2 475.6L1591.4 477.6L1592.7 479.5L1594.0 481.3L1597.0 482.9L1671.0 482.9" stroke="#f80000" stroke-width="3.4" fill="none" stroke-linejoin="round"/>
<path d="M1162.3 481.3L1165.3 481.3L1168.2 481.3L1170.9 481.3L1173.5 481.3L1176.0 481.3L1178.4 481.3L1180.6 481.0L1182.7 480.1L1184.7 479.1L1186.6 477.8L1188.4 476.4L1190.2 474.9L1191.8 473.2L1193.3 471.4L1194.7 469.5L1196.1 467.5L1197.4 465.4L1198.6 463.2L1199.7 461.0L1200.8 458.7L1201.9 456.3L1202.8 453.9L1203.8 451.5L1204.7 449.1L1205.5 446.7L1206.4 444.3L1207.2 441.9L1207.9 439.4L1208.6 437.0L1209.3 434.6L1210.0 432.1L1210.7 429.7L1211.3 427.2L1211.9 424.8L1212.5 422.4L1213.0 419.9L1213.6 417.5L1214.1 415.0L1214.6 412.6L1215.1 410.1L1215.6 407.7L1216.1 405.2L1216.6 402.7L1217.0 400.3L1217.5 397.8L1217.9 395.4L1218.4 392.9L1218.9 390.4L1219.3 388.0L1219.8 385.5L1220.2 383.0L1220.7 380.6L1221.1 378.1L1221.6 375.6L1222.0 373.2L1222.5 370.7L1222.9 368.2L1223.4 365.7L1223.8 363.3L1224.3 360.8L1224.7 358.3L1225.2 355.8L1225.6 353.3L1226.0 350.9L1226.5 348.4L1226.9 345.9L1227.4 343.4L1227.8 340.9L1228.3 338.4L1228.7 336.0L1229.2 333.5L1229.7 331.0L1230.2 328.5L1230.7 326.1L1231.2 323.6L1231.8 321.2L1232.4 318.8L1233.1 316.4L1233.8 314.0L1234.6 311.6L1235.3 309.2L1236.1 306.9L1237.0 304.5L1237.8 302.1L1238.6 299.8L1239.4 297.4L1240.1 295.0L1240.9 292.6L1241.5 290.2L1242.1 287.8L1242.8 285.3L1243.4 282.9L1244.1 280.4L1244.8 277.9L1245.7 275.3L1246.7 272.8L1247.9 270.3L1249.2 267.9L1250.8 265.7L1252.7 263.9L1254.7 262.7L1256.9 262.0L1259.0 261.9L1261.1 262.4L1262.9 263.6L1264.6 265.2L1266.2 267.3L1267.7 269.5L1269.0 271.7L1270.3 274.0L1271.6 276.2L1272.8 278.5L1273.9 280.8L1275.0 283.1L1276.0 285.4L1276.9 287.7L1277.9 290.1L1278.7 292.4L1279.6 294.7L1280.3 297.1L1281.1 299.5L1281.8 301.8L1282.5 304.2L1283.2 306.6L1283.8 309.0L1284.4 311.4L1285.0 313.9L1285.6 316.3L1286.2 318.7L1286.8 321.2L1287.3 323.6L1287.9 326.1L1288.5 328.6L1289.0 331.0L1289.6 333.5L1290.2 335.9L1290.8 338.4L1291.5 340.8L1292.1 343.3L1292.8 345.7L1293.6 348.1L1294.3 350.5L1295.2 352.9L1296.0 355.3L1296.9 357.6L1297.9 359.9L1298.9 362.2L1300.0 364.5L1301.1 366.8L1302.4 369.0L1303.6 371.2L1305.0 373.4L1306.4 375.5L1308.0 377.5L1309.5 379.5L1311.2 381.3L1312.9 383.1L1314.7 384.7L1316.5 386.1L1318.4 387.4L1320.4 388.6L1322.4 389.5L1324.5 390.2L1326.7 390.7L1328.9 391.0L1331.1 391.0L1333.5 390.7L1335.8 390.2L1338.2 389.5L1340.7 388.5L1343.1 387.4L1345.6 386.3L1348.1 385.0L1350.5 383.7L1353.0 382.4L1355.4 381.2L1357.7 379.9L1360.0 378.8L1362.3 377.6L1364.5 376.4L1366.7 375.2L1368.7 373.9L1370.7 372.6L1372.7 371.3L1374.5 369.8L1376.2 368.3L1377.9 366.7L1379.4 364.9L1380.9 363.1L1382.3 361.2L1383.6 359.2L1384.9 357.1L1386.0 355.0L1387.1 352.8L1388.2 350.5L1389.2 348.2L1390.1 345.8L1391.0 343.4L1391.9 341.0L1392.7 338.5L1393.5 336.0L1394.2 333.5L1394.9 331.0L1395.7 328.5L1396.3 325.9L1397.0 323.4L1397.7 320.9L1398.4 318.4L1399.0 315.9L1399.7 313.4L1400.4 310.9L1401.0 308.5L1401.7 306.0L1402.3 303.6L1403.0 301.2L1403.6 298.8L1404.3 296.4L1404.9 294.0L1405.6 291.6L1406.2 289.2L1406.8 286.9L1407.5 284.5L1408.1 282.1L1408.7 279.8L1409.3 277.4L1409.9 275.1L1410.5 272.7L1411.1 270.3L1411.7 268.0L1412.3 265.6L1412.9 263.2L1413.4 260.9L1414.0 258.5L1414.6 256.1L1415.1 253.7L1415.7 251.2L1416.4 248.8L1417.1 246.3L1417.9 243.7L1418.7 241.2L1419.7 238.5L1420.8 235.9L1422.0 233.4L1423.4 231.3L1424.9 229.6L1426.7 228.7L1428.6 228.5L1430.5 229.0L1432.4 230.2L1434.1 231.9L1435.6 234.1L1436.8 236.6L1437.9 239.3L1438.9 241.9L1439.7 244.5L1440.6 247.1L1441.3 249.6L1441.9 252.2L1442.6 254.6L1443.1 257.1L1443.6 259.5L1444.1 262.0L1444.5 264.4L1444.9 266.8L1445.2 269.3L1445.6 271.7L1445.9 274.2L1446.2 276.6L1446.5 279.1L1446.8 281.6L1447.1 284.1L1447.4 286.5L1447.7 289.0L1448.0 291.6L1448.3 294.1L1448.6 296.6L1448.9 299.1L1449.2 301.6L1449.5 304.1L1449.8 306.6L1450.2 309.1L1450.5 311.6L1450.8 314.1L1451.2 316.6L1451.6 319.0L1451.9 321.5L1452.3 324.0L1452.7 326.5L1453.0 329.0L1453.4 331.5L1453.8 334.0L1454.1 336.4L1454.5 338.9L1454.8 341.4L1455.2 343.9L1455.5 346.4L1455.9 348.9L1456.2 351.4L1456.6 353.8L1456.9 356.3L1457.2 358.8L1457.5 361.3L1457.8 363.8L1458.1 366.3L1458.4 368.8L1458.6 371.3L1458.9 373.8L1459.2 376.3L1459.4 378.8L1459.7 381.3L1459.9 383.8L1460.1 386.3L1460.4 388.8L1460.6 391.3L1460.8 393.8L1461.0 396.3L1461.3 398.9L1461.5 401.4L1461.7 403.9L1461.9 406.4L1462.1 408.9L1462.3 411.4L1462.5 413.9L1462.7 416.4L1462.9 418.9L1463.1 421.4L1463.3 423.9L1463.5 426.4L1463.7 428.9L1464.0 431.4L1464.2 433.9L1464.4 436.5L1464.6 439.0L1464.8 441.5L1465.0 444.0L1465.2 446.5L1465.5 449.0L1465.7 451.5L1465.9 453.9L1466.2 456.4L1466.4 458.9L1466.6 461.4L1466.9 463.9L1467.2 466.4L1467.4 468.9L1467.7 471.4L1468.0 473.9L1468.3 476.3L1468.6 478.8L1468.9 481.3L1471.9 482.9L1564.6 482.9" stroke="#ffb800" stroke-width="3.4" fill="none" stroke-linejoin="round"/>
<path d="M1147.5 481.3L1149.7 481.3M1149.7 481.3L1150.6 481.3L1152.7 481.3M1152.7 481.3L1153.5 481.3L1155.8 481.3M1155.8 481.3L1156.2 481.3L1158.9 481.3M1158.9 481.3L1158.9 481.3L1161.4 481.3L1161.9 481.3M1161.9 481.3L1163.9 481.1L1165.0 480.9M1165.0 480.9L1166.2 480.6L1168.0 479.9M1168.0 479.9L1168.4 479.8L1170.5 478.9L1171.1 478.7M1171.1 478.7L1172.6 477.9L1174.1 477.0M1174.1 477.0L1174.5 476.8L1176.3 475.5L1177.2 474.9M1177.2 474.9L1178.1 474.2L1179.8 472.7L1180.3 472.2M1180.3 472.2L1181.4 471.1L1182.9 469.4L1183.3 468.8M1183.3 468.8L1184.3 467.6L1185.7 465.7L1186.4 464.7M1186.4 464.7L1187.0 463.7L1188.2 461.7L1189.4 459.6L1189.4 459.5M1189.4 459.5L1190.5 457.4L1191.6 455.1L1192.5 453.1M1192.5 453.1L1192.6 452.8L1193.6 450.5L1194.5 448.1L1195.4 445.6L1195.6 445.3M1195.6 445.3L1196.3 443.1L1197.1 440.6L1197.9 438.1L1198.6 435.8M1198.6 435.8L1198.7 435.5L1199.5 433.0L1200.2 430.4L1200.9 427.8L1201.6 425.2L1201.7 425.0M1201.7 425.0L1202.3 422.7L1203.0 420.1L1203.7 417.6L1204.4 415.1L1204.7 413.9M1204.7 413.9L1205.1 412.6L1205.8 410.2L1206.5 407.8L1207.2 405.4L1207.8 403.5M1207.8 403.5L1208.0 403.0L1208.7 400.6L1209.4 398.3L1210.1 396.0L1210.8 393.8M1210.8 393.8L1210.9 393.7L1211.6 391.4L1212.3 389.1L1213.1 386.8L1213.8 384.5L1213.9 384.3M1213.9 384.3L1214.6 382.2L1215.3 379.9L1216.0 377.6L1216.8 375.3L1217.0 374.8M1217.0 374.8L1217.5 373.0L1218.3 370.7L1219.0 368.3L1219.7 366.0L1220.0 365.0M1220.0 365.0L1220.5 363.6L1221.2 361.2L1221.9 358.7L1222.6 356.2L1223.1 354.6M1223.1 354.6L1223.3 353.7L1224.1 351.2L1224.8 348.7L1225.6 346.2L1226.1 344.5M1226.1 344.5L1226.4 343.7L1227.3 341.2L1228.2 338.8L1229.2 336.6M1229.2 336.6L1229.3 336.4L1230.4 334.1L1231.6 331.8L1232.3 330.7M1232.3 330.7L1232.9 329.6L1234.3 327.6L1235.3 326.3M1235.3 326.3L1235.9 325.6L1237.6 323.7L1238.4 323.0M1238.4 323.0L1239.5 322.0L1241.4 320.4M1241.4 320.4L1241.5 320.4L1243.6 319.0L1244.5 318.6M1244.5 318.6L1245.8 318.1L1247.5 317.7M1247.5 317.7L1248.0 317.6L1250.1 317.7L1250.6 317.9M1250.6 317.9L1252.0 318.5L1253.7 319.9M1253.7 319.9L1253.8 320.0L1255.5 322.0L1256.7 323.8M1256.7 323.8L1257.1 324.4L1258.6 326.9L1259.8 328.9M1259.8 328.9L1260.1 329.4L1261.4 331.8L1262.8 334.1L1262.8 334.2M1262.8 334.2L1264.1 336.4L1265.3 338.6L1265.9 339.8M1265.9 339.8L1266.4 340.8L1267.5 343.0L1268.6 345.2L1269.0 346.1M1269.0 346.1L1269.5 347.5L1270.4 349.7L1271.3 352.0L1272.0 354.1M1272.0 354.1L1272.1 354.3L1272.8 356.6L1273.5 358.9L1274.2 361.2L1274.8 363.6L1275.1 364.6M1275.1 364.6L1275.4 366.0L1276.1 368.4L1276.7 370.8L1277.3 373.2L1278.0 375.6L1278.1 376.0M1278.1 376.0L1278.7 378.0L1279.4 380.4L1280.2 382.8L1281.0 385.2L1281.2 385.7M1281.2 385.7L1281.9 387.6L1282.9 390.0L1283.9 392.4L1284.2 393.2M1284.2 393.2L1285.0 394.8L1286.2 397.1L1287.3 399.1M1287.3 399.1L1287.5 399.4L1288.9 401.7L1290.3 403.9L1290.4 404.0M1290.4 404.0L1291.8 406.1L1293.4 408.2L1293.4 408.2M1293.4 408.2L1295.1 410.2L1296.5 411.7M1296.5 411.7L1296.8 412.0L1298.6 413.8L1299.5 414.7M1299.5 414.7L1300.4 415.5L1302.3 417.0L1302.6 417.2M1302.6 417.2L1304.2 418.4L1305.7 419.3M1305.7 419.3L1306.2 419.6L1308.2 420.7L1308.7 420.9M1308.7 420.9L1310.3 421.5L1311.8 422.0M1311.8 422.0L1312.4 422.2L1314.5 422.7L1314.8 422.7M1314.8 422.7L1316.7 423.0L1317.9 423.0M1317.9 423.0L1318.9 423.0L1320.9 422.9M1320.9 422.9L1321.1 422.9L1323.4 422.5L1324.0 422.4M1324.0 422.4L1325.6 422.0L1327.1 421.6M1327.1 421.6L1327.9 421.3L1330.1 420.5L1330.1 420.5M1330.1 420.5L1332.4 419.5L1333.2 419.0M1333.2 419.0L1334.6 418.3L1336.2 417.4M1336.2 417.4L1336.8 417.1L1339.0 415.7L1339.3 415.4M1339.3 415.4L1341.1 414.2L1342.4 413.3M1342.4 413.3L1343.3 412.6L1345.3 410.9L1345.4 410.8M1345.4 410.8L1347.4 409.1L1348.5 408.1M1348.5 408.1L1349.4 407.3L1351.3 405.4L1351.5 405.2M1351.5 405.2L1353.1 403.5L1354.6 401.9M1354.6 401.9L1354.9 401.5L1356.6 399.5L1357.6 398.3M1357.6 398.3L1358.3 397.5L1359.9 395.5L1360.7 394.4M1360.7 394.4L1361.4 393.4L1362.8 391.4L1363.8 389.9M1363.8 389.9L1364.2 389.2L1365.6 387.1L1366.8 385.0M1366.8 385.0L1366.8 385.0L1368.1 382.8L1369.2 380.6L1369.9 379.3M1369.9 379.3L1370.3 378.4L1371.4 376.2L1372.5 373.9L1372.9 372.9M1372.9 372.9L1373.5 371.7L1374.4 369.4L1375.3 367.1L1376.0 365.4M1376.0 365.4L1376.2 364.8L1377.1 362.5L1377.9 360.2L1378.7 357.9L1379.1 356.8M1379.1 356.8L1379.5 355.5L1380.2 353.1L1381.0 350.8L1381.7 348.4L1382.1 347.0M1382.1 347.0L1382.4 346.0L1383.1 343.6L1383.8 341.2L1384.5 338.8L1385.2 336.5M1385.2 336.5L1385.2 336.4L1385.9 334.0L1386.6 331.6L1387.3 329.1L1388.0 326.7L1388.2 325.8M1388.2 325.8L1388.7 324.3L1389.4 321.9L1390.1 319.4L1390.9 317.0L1391.3 315.7M1391.3 315.7L1391.6 314.6L1392.4 312.2L1393.3 309.7L1394.1 307.3L1394.3 306.6M1394.3 306.6L1395.0 304.9L1395.9 302.5L1396.7 300.1L1397.4 298.3M1397.4 298.3L1397.6 297.7L1398.5 295.3L1399.4 293.0L1400.2 290.6L1400.5 290.0M1400.5 290.0L1401.1 288.3L1401.8 285.9L1402.6 283.6L1403.3 281.3L1403.5 280.7M1403.5 280.7L1404.1 279.1L1404.9 276.8L1405.7 274.5L1406.6 272.3M1406.6 272.3L1406.6 272.2L1407.7 269.9L1408.8 267.6L1409.6 266.3M1409.6 266.3L1410.2 265.3L1411.7 263.0L1412.7 261.7M1412.7 261.7L1413.4 260.8L1415.3 258.9L1415.8 258.6M1415.8 258.6L1417.3 257.5L1418.8 257.0M1418.8 257.0L1419.4 256.7L1421.7 256.8L1421.9 256.8M1421.9 256.8L1424.0 257.6L1424.9 258.2M1424.9 258.2L1426.2 259.0L1428.0 260.6M1428.0 260.6L1428.2 260.8L1430.0 262.9L1431.0 264.5M1431.0 264.5L1431.4 265.1L1432.5 267.4L1433.4 269.8L1434.0 272.2L1434.1 272.5M1434.1 272.5L1434.6 274.7L1435.0 277.1L1435.5 279.6L1435.9 282.1L1436.4 284.5L1436.8 287.0L1437.2 288.8M1437.2 288.8L1437.3 289.5L1437.7 292.0L1438.2 294.4L1438.6 296.9L1439.0 299.4L1439.5 301.8L1439.9 304.3L1440.2 306.2M1440.2 306.2L1440.3 306.8L1440.8 309.3L1441.2 311.7L1441.6 314.2L1442.0 316.7L1442.4 319.2L1442.8 321.6L1443.2 324.1L1443.3 324.5M1443.3 324.5L1443.6 326.6L1444.0 329.1L1444.4 331.6L1444.8 334.1L1445.1 336.5L1445.5 339.0L1445.9 341.5L1446.2 344.0L1446.3 344.7M1446.3 344.7L1446.6 346.5L1446.9 349.0L1447.3 351.5L1447.6 354.0L1448.0 356.5L1448.3 358.9L1448.6 361.4L1449.0 363.9L1449.3 366.4L1449.4 367.3M1449.4 367.3L1449.6 368.9L1449.9 371.4L1450.2 373.9L1450.6 376.4L1450.9 378.9L1451.2 381.4L1451.5 383.9L1451.8 386.4L1452.1 388.9L1452.4 391.4L1452.5 392.1M1452.5 392.1L1452.7 393.9L1453.0 396.4L1453.3 398.9L1453.5 401.4L1453.8 403.9L1454.1 406.4L1454.4 408.9L1454.7 411.4L1455.0 413.9L1455.3 416.4L1455.5 418.4M1455.5 418.4L1455.6 418.9L1455.9 421.4L1456.1 423.9L1456.4 426.4L1456.7 428.9L1457.0 431.4L1457.3 433.9L1457.6 436.4L1457.9 438.9L1458.2 441.4L1458.5 443.9L1458.6 444.8M1458.6 444.8L1458.8 446.4L1459.1 448.9L1459.4 451.4L1459.7 453.9L1460.0 456.4L1460.3 458.9L1460.6 461.3L1460.9 463.8L1461.2 466.3L1461.5 468.8L1461.6 469.7M1461.6 469.7L1461.8 471.3L1462.2 473.8L1462.5 476.3L1462.8 478.8L1463.2 481.3L1464.7 482.1M1464.7 482.1L1466.2 482.9L1467.7 482.9M1467.7 482.9L1470.8 482.9M1470.8 482.9L1473.9 482.9M1473.9 482.9L1476.9 482.9M1476.9 482.9L1480.0 482.9M1480.0 482.9L1483.0 482.9M1483.0 482.9L1486.1 482.9M1486.1 482.9L1489.2 482.9M1489.2 482.9L1492.2 482.9M1492.2 482.9L1495.3 482.9M1495.3 482.9L1498.3 482.9M1498.3 482.9L1501.4 482.9M1501.4 482.9L1504.4 482.9M1504.4 482.9L1507.5 482.9M1507.5 482.9L1510.6 482.9M1510.6 482.9L1513.6 482.9M1513.6 482.9L1516.7 482.9M1516.7 482.9L1519.7 482.9M1519.7 482.9L1522.8 482.9M1522.8 482.9L1525.9 482.9M1525.9 482.9L1528.9 482.9M1528.9 482.9L1532.0 482.9M1532.0 482.9L1535.0 482.9M1535.0 482.9L1538.1 482.9M1538.1 482.9L1541.1 482.9M1541.1 482.9L1544.2 482.9M1544.2 482.9L1547.3 482.9M1547.3 482.9L1550.3 482.9M1550.3 482.9L1553.4 482.9M1553.4 482.9L1556.4 482.9M1556.4 482.9L1559.5 482.9M1559.5 482.9L1561.0 482.9" stroke="#ffb800" stroke-width="3.4" fill="none" stroke-linejoin="round" stroke-dasharray="3.4 3.3"/>
<path d="M1169.8 481.3L1171.8 481.3M1171.8 481.3L1172.9 481.3L1174.6 481.3M1174.6 481.3L1175.8 481.3L1177.3 481.3M1177.3 481.3L1178.6 481.3L1180.1 481.3M1180.1 481.3L1181.2 481.3L1182.9 481.3M1182.9 481.3L1183.7 481.3L1185.7 481.3M1185.7 481.3L1186.0 481.3L1188.2 480.8L1188.4 480.7M1188.4 480.7L1190.2 479.8L1191.2 479.3M1191.2 479.3L1192.2 478.7L1194.0 477.4M1194.0 477.4L1194.0 477.4L1195.7 475.9L1196.8 474.9M1196.8 474.9L1197.3 474.3L1198.9 472.5L1199.5 471.6M1199.5 471.6L1200.3 470.6L1201.6 468.6L1202.3 467.5M1202.3 467.5L1202.9 466.6L1204.1 464.4L1205.1 462.3M1205.1 462.3L1205.2 462.1L1206.2 459.8L1207.2 457.4L1207.9 455.8M1207.9 455.8L1208.1 455.0L1209.0 452.6L1209.9 450.2L1210.6 448.0M1210.6 448.0L1210.7 447.7L1211.5 445.3L1212.3 442.9L1213.0 440.4L1213.4 439.1M1213.4 439.1L1213.7 438.0L1214.4 435.6L1215.1 433.1L1215.7 430.7L1216.2 428.8M1216.2 428.8L1216.3 428.3L1216.9 425.9L1217.5 423.4L1218.1 421.0L1218.6 418.6L1219.0 416.9M1219.0 416.9L1219.1 416.1L1219.7 413.7L1220.2 411.3L1220.7 408.8L1221.2 406.4L1221.6 403.9L1221.7 403.5M1221.7 403.5L1222.1 401.5L1222.6 399.0L1223.1 396.6L1223.6 394.1L1224.0 391.7L1224.5 389.2L1224.5 389.2M1224.5 389.2L1225.0 386.7L1225.5 384.2L1225.9 381.7L1226.4 379.3L1226.9 376.8L1227.3 375.0M1227.3 375.0L1227.4 374.3L1227.9 371.8L1228.4 369.3L1228.9 366.9L1229.4 364.4L1230.0 361.9L1230.1 361.5M1230.1 361.5L1230.5 359.4L1231.0 357.0L1231.6 354.5L1232.1 352.1L1232.7 349.6L1232.8 349.1M1232.8 349.1L1233.3 347.2L1233.9 344.7L1234.5 342.3L1235.1 339.9L1235.6 337.8M1235.6 337.8L1235.7 337.5L1236.3 335.1L1237.0 332.7L1237.6 330.3L1238.3 327.9L1238.4 327.6M1238.4 327.6L1239.0 325.6L1239.7 323.2L1240.4 320.8L1241.1 318.4L1241.2 318.1M1241.2 318.1L1241.8 316.1L1242.5 313.7L1243.2 311.3L1243.9 308.9L1243.9 308.6M1243.9 308.6L1244.6 306.5L1245.3 304.0L1245.9 301.6L1246.6 299.1L1246.7 298.8M1246.7 298.8L1247.3 296.6L1248.0 294.1L1248.6 291.5L1249.3 288.9L1249.5 288.1M1249.5 288.1L1249.9 286.3L1250.7 283.8L1251.6 281.4L1252.3 280.2M1252.3 280.2L1252.8 279.1L1254.3 277.2L1255.0 276.6M1255.0 276.6L1256.2 275.7L1257.8 275.1M1257.8 275.1L1258.3 274.9L1260.6 274.7M1260.6 274.7L1260.7 274.7L1263.0 275.1L1263.4 275.3M1263.4 275.3L1265.1 276.2L1266.1 277.1M1266.1 277.1L1266.8 277.8L1268.3 279.9L1268.9 281.0M1268.9 281.0L1269.6 282.3L1270.6 284.9L1271.4 287.6L1271.7 288.6M1271.7 288.6L1272.1 290.3L1272.8 292.8L1273.4 295.2L1273.9 297.5L1274.5 299.5M1274.5 299.5L1274.5 299.7L1275.1 301.9L1275.6 304.2L1276.3 306.5L1276.9 308.9L1277.2 310.2M1277.2 310.2L1277.5 311.3L1278.2 313.7L1278.8 316.1L1279.5 318.6L1280.0 320.5M1280.0 320.5L1280.2 321.1L1280.8 323.6L1281.5 326.2L1282.2 328.7L1282.8 330.9M1282.8 330.9L1282.9 331.2L1283.5 333.8L1284.1 336.3L1284.8 338.8L1285.4 341.3L1285.6 342.0M1285.6 342.0L1286.0 343.8L1286.6 346.3L1287.1 348.7L1287.6 351.1L1288.1 353.5L1288.3 354.6M1288.3 354.6L1288.6 355.9L1289.0 358.3L1289.5 360.6L1289.9 363.0L1290.3 365.3L1290.8 367.6L1291.1 369.5M1291.1 369.5L1291.2 369.9L1291.6 372.3L1292.0 374.6L1292.4 376.9L1292.9 379.3L1293.3 381.7L1293.8 384.1L1293.9 384.4M1293.9 384.4L1294.3 386.5L1294.8 389.0L1295.4 391.5L1295.9 394.0L1296.5 396.5L1296.6 397.0M1296.6 397.0L1297.2 399.1L1297.8 401.8L1298.6 404.5L1299.3 407.2L1299.4 407.5M1299.4 407.5L1300.1 409.9L1301.0 412.6L1301.9 415.2L1302.2 415.9M1302.2 415.9L1302.9 417.8L1304.0 420.3L1305.0 422.5M1305.0 422.5L1305.1 422.7L1306.2 425.0L1307.5 427.1L1307.7 427.5M1307.7 427.5L1308.8 429.1L1310.2 430.9L1310.5 431.2M1310.5 431.2L1311.7 432.5L1313.3 433.9L1313.3 433.9M1313.3 433.9L1314.9 435.0L1316.1 435.6M1316.1 435.6L1316.7 435.9L1318.5 436.5L1318.8 436.6M1318.8 436.6L1320.4 436.8L1321.6 436.8M1321.6 436.8L1322.5 436.8L1324.4 436.6M1324.4 436.6L1324.6 436.6L1326.7 436.0L1327.2 435.9M1327.2 435.9L1328.9 435.3L1329.9 434.9M1329.9 434.9L1331.1 434.3L1332.7 433.5M1332.7 433.5L1333.3 433.2L1335.5 431.9M1335.5 431.9L1335.5 431.9L1337.7 430.4L1338.3 430.0M1338.3 430.0L1339.8 428.8L1341.0 427.8M1341.0 427.8L1341.9 427.1L1343.8 425.3M1343.8 425.3L1343.8 425.3L1345.7 423.4L1346.6 422.4M1346.6 422.4L1347.5 421.5L1349.1 419.5L1349.4 419.2M1349.4 419.2L1350.7 417.5L1352.1 415.4M1352.1 415.4L1352.2 415.4L1353.6 413.3L1354.9 411.2M1354.9 411.2L1354.9 411.2L1356.2 409.0L1357.5 406.8L1357.7 406.4M1357.7 406.4L1358.7 404.6L1359.8 402.4L1360.5 401.1M1360.5 401.1L1361.0 400.1L1362.1 397.9L1363.2 395.7L1363.2 395.6M1363.2 395.6L1364.3 393.4L1365.4 391.2L1366.0 389.9M1366.0 389.9L1366.5 388.9L1367.5 386.7L1368.6 384.4L1368.8 384.0M1368.8 384.0L1369.6 382.1L1370.7 379.9L1371.6 377.8M1371.6 377.8L1371.7 377.6L1372.7 375.3L1373.6 373.0L1374.3 371.3M1374.3 371.3L1374.6 370.8L1375.5 368.5L1376.4 366.2L1377.1 364.3M1377.1 364.3L1377.3 363.8L1378.2 361.5L1379.0 359.2L1379.8 356.8L1379.9 356.6M1379.9 356.6L1380.6 354.5L1381.3 352.1L1382.1 349.7L1382.7 347.7M1382.7 347.7L1382.8 347.4L1383.4 345.0L1384.1 342.5L1384.7 340.1L1385.3 337.7L1385.4 337.1M1385.4 337.1L1385.9 335.2L1386.4 332.8L1387.0 330.3L1387.5 327.9L1388.0 325.4L1388.2 324.5M1388.2 324.5L1388.5 323.0L1389.0 320.5L1389.5 318.0L1390.0 315.5L1390.5 313.0L1391.0 310.8M1391.0 310.8L1391.0 310.6L1391.6 308.1L1392.1 305.6L1392.6 303.1L1393.1 300.6L1393.7 298.2L1393.8 297.8M1393.8 297.8L1394.3 295.7L1394.8 293.2L1395.4 290.8L1396.1 288.3L1396.5 286.6M1396.5 286.6L1396.7 285.9L1397.4 283.4L1398.1 281.0L1398.8 278.6L1399.3 276.9M1399.3 276.9L1399.5 276.1L1400.3 273.7L1401.0 271.3L1401.7 269.0L1402.1 267.5M1402.1 267.5L1402.3 266.6L1403.0 264.2L1403.6 261.9L1404.1 259.6L1404.6 257.2L1404.9 256.1M1404.9 256.1L1405.1 254.9L1405.5 252.6L1405.9 250.3L1406.3 248.0L1407.0 245.6L1407.6 243.7M1407.6 243.7L1407.9 243.1L1409.1 240.5L1410.4 238.2M1410.4 238.2L1410.6 237.8L1412.4 235.4L1413.2 234.6M1413.2 234.6L1414.3 233.4L1416.0 232.3M1416.0 232.3L1416.2 232.1L1418.1 231.6L1418.7 231.7M1418.7 231.7L1420.0 232.0L1421.5 233.0M1421.5 233.0L1421.7 233.1L1423.4 234.9L1424.3 236.2M1424.3 236.2L1424.9 237.1L1426.2 239.6L1427.1 241.6M1427.1 241.6L1427.4 242.3L1428.3 244.9L1429.1 247.4L1429.8 249.9L1429.8 250.2M1429.8 250.2L1430.3 252.4L1430.8 254.9L1431.2 257.3L1431.6 259.7L1431.9 262.2L1432.3 264.7L1432.6 266.8M1432.6 266.8L1432.6 267.1L1433.0 269.6L1433.3 272.1L1433.7 274.5L1434.0 277.0L1434.3 279.5L1434.6 282.0L1434.9 284.5L1435.2 287.0L1435.4 288.0M1435.4 288.0L1435.6 289.5L1435.9 291.9L1436.2 294.4L1436.5 296.9L1436.8 299.4L1437.2 301.9L1437.5 304.4L1437.8 306.9L1438.2 309.3M1438.2 309.3L1438.2 309.4L1438.5 311.9L1438.8 314.3L1439.2 316.8L1439.5 319.3L1439.8 321.8L1440.2 324.3L1440.5 326.8L1440.9 329.3L1440.9 329.8M1440.9 329.8L1441.2 331.8L1441.5 334.2L1441.9 336.7L1442.2 339.2L1442.5 341.7L1442.9 344.2L1443.2 346.7L1443.5 349.2L1443.7 350.6M1443.7 350.6L1443.8 351.7L1444.2 354.1L1444.5 356.6L1444.8 359.1L1445.1 361.6L1445.4 364.1L1445.7 366.6L1446.0 369.1L1446.3 371.6L1446.5 372.9M1446.5 372.9L1446.6 374.1L1446.9 376.6L1447.2 379.1L1447.5 381.6L1447.8 384.1L1448.1 386.5L1448.4 389.0L1448.7 391.5L1448.9 394.0L1449.2 396.5L1449.3 396.8M1449.3 396.8L1449.5 399.0L1449.8 401.5L1450.0 404.0L1450.3 406.5L1450.6 409.0L1450.9 411.5L1451.1 414.0L1451.4 416.5L1451.7 419.0L1452.0 421.5L1452.0 422.2M1452.0 422.2L1452.2 424.0L1452.5 426.5L1452.8 429.0L1453.0 431.5L1453.3 434.0L1453.6 436.5L1453.8 438.9L1454.1 441.4L1454.4 443.9L1454.6 446.4L1454.8 448.1M1454.8 448.1L1454.9 448.9L1455.2 451.4L1455.4 453.9L1455.7 456.4L1456.0 458.9L1456.2 461.4L1456.5 463.9L1456.8 466.4L1457.0 468.9L1457.3 471.3L1457.6 473.8M1457.6 473.8L1457.6 473.8L1457.9 476.3L1458.1 478.8L1458.4 481.3L1460.4 482.3M1460.4 482.3L1461.4 482.9L1463.1 482.9M1463.1 482.9L1465.9 482.9M1465.9 482.9L1468.7 482.9M1468.7 482.9L1471.4 482.9M1471.4 482.9L1474.2 482.9M1474.2 482.9L1477.0 482.9M1477.0 482.9L1479.8 482.9M1479.8 482.9L1482.5 482.9M1482.5 482.9L1485.3 482.9M1485.3 482.9L1488.1 482.9M1488.1 482.9L1490.9 482.9M1490.9 482.9L1493.6 482.9M1493.6 482.9L1496.4 482.9M1496.4 482.9L1499.2 482.9M1499.2 482.9L1502.0 482.9M1502.0 482.9L1504.7 482.9M1504.7 482.9L1507.5 482.9M1507.5 482.9L1510.3 482.9M1510.3 482.9L1513.1 482.9M1513.1 482.9L1515.8 482.9M1515.8 482.9L1518.6 482.9M1518.6 482.9L1521.4 482.9M1521.4 482.9L1524.2 482.9M1524.2 482.9L1526.9 482.9M1526.9 482.9L1529.7 482.9M1529.7 482.9L1532.5 482.9M1532.5 482.9L1535.3 482.9M1535.3 482.9L1538.0 482.9M1538.0 482.9L1540.8 482.9M1540.8 482.9L1543.6 482.9M1543.6 482.9L1545.0 482.9" stroke="#ffb800" stroke-width="3.4" fill="none" stroke-linejoin="round" stroke-dasharray="10 3.4"/>
<path d="M1069.2 481.3L1071.6 481.1L1074.1 480.9L1076.6 480.8L1079.1 480.8L1081.6 480.8L1084.1 480.9L1086.7 481.1L1089.2 481.2L1091.8 481.3L1094.4 481.3L1096.9 481.3L1099.5 481.3L1102.1 481.3L1104.6 481.3L1107.2 481.3L1109.7 481.3L1112.2 481.3L1114.7 481.3L1117.2 481.3L1119.6 481.1L1122.0 480.6L1124.4 480.0L1126.7 479.3L1129.0 478.5L1131.3 477.5L1133.5 476.5L1135.7 475.4L1137.8 474.2L1140.0 472.9L1142.0 471.5L1144.1 470.1L1146.0 468.5L1148.0 467.0L1149.9 465.3L1151.8 463.7L1153.6 461.9L1155.3 460.2L1157.1 458.4L1158.8 456.5L1160.4 454.6L1162.0 452.7L1163.6 450.8L1165.1 448.9L1166.6 446.9L1168.1 444.9L1169.5 442.8L1170.9 440.8L1172.3 438.7L1173.7 436.6L1175.0 434.5L1176.4 432.3L1177.7 430.2L1178.9 428.0L1180.2 425.8L1181.5 423.7L1182.7 421.5L1183.9 419.3L1185.2 417.1L1186.4 414.8L1187.6 412.6L1188.8 410.4L1190.0 408.2L1191.3 405.9L1192.5 403.7L1193.7 401.5L1194.9 399.3L1196.2 397.1L1197.4 394.9L1198.7 392.7L1200.0 390.5L1201.3 388.4L1202.6 386.2L1203.9 384.1L1205.3 381.9L1206.7 379.8L1208.1 377.8L1209.5 375.7L1211.0 373.6L1212.5 371.6L1214.0 369.6L1215.5 367.7L1217.1 365.7L1218.7 363.8L1220.4 361.9L1222.0 360.0L1223.7 358.2L1225.4 356.4L1227.2 354.6L1229.0 352.8L1230.8 351.1L1232.6 349.4L1234.5 347.8L1236.4 346.1L1238.3 344.5L1240.2 343.0L1242.2 341.5L1244.2 340.0L1246.3 338.6L1248.3 337.1L1250.4 335.8L1252.6 334.5L1254.7 333.2L1256.9 331.9L1259.1 330.6L1261.3 329.4L1263.5 328.2L1265.7 326.9L1267.9 325.7L1270.1 324.5L1272.3 323.2L1274.4 321.9L1276.6 320.6L1278.7 319.3L1280.8 317.9L1282.9 316.5L1284.9 315.0L1286.9 313.5L1288.9 311.9L1290.8 310.3L1292.7 308.6L1294.5 306.9L1296.3 305.2L1298.1 303.4L1299.8 301.6L1301.5 299.7L1303.1 297.8L1304.7 295.9L1306.2 293.9L1307.7 291.9L1309.1 289.9L1310.5 287.8L1311.8 285.7L1313.1 283.6L1314.3 281.5L1315.4 279.3L1316.6 277.1L1317.6 274.9L1318.7 272.7L1319.7 270.4L1320.7 268.2L1321.7 265.9L1322.7 263.6L1323.6 261.3L1324.6 258.9L1325.6 256.6L1326.6 254.2L1327.6 251.8L1328.6 249.4L1329.7 247.0L1330.8 244.6L1332.0 242.2L1333.2 239.7L1334.4 237.3L1335.7 234.9L1337.1 232.5L1338.5 230.2L1340.0 227.9L1341.6 225.8L1343.2 223.8L1344.9 221.9L1346.7 220.2L1348.6 218.6L1350.6 217.3L1352.7 216.1L1354.7 215.2L1356.9 214.5L1359.0 214.0L1361.2 213.8L1363.3 213.8L1365.4 214.1L1367.5 214.7L1369.5 215.6L1371.5 216.6L1373.4 217.9L1375.3 219.5L1377.1 221.1L1378.8 223.0L1380.4 225.0L1382.0 227.1L1383.4 229.2L1384.8 231.5L1386.0 233.8L1387.2 236.2L1388.3 238.6L1389.4 241.1L1390.4 243.5L1391.3 246.0L1392.2 248.5L1393.2 251.0L1394.1 253.5L1395.0 255.9L1395.9 258.4L1396.8 260.8L1397.7 263.2L1398.6 265.6L1399.5 268.0L1400.5 270.4L1401.4 272.8L1402.3 275.2L1403.2 277.6L1404.1 279.9L1405.0 282.3L1405.8 284.7L1406.7 287.0L1407.6 289.4L1408.5 291.7L1409.4 294.0L1410.3 296.4L1411.1 298.7L1412.0 301.0L1412.8 303.4L1413.7 305.7L1414.6 308.0L1415.4 310.4L1416.2 312.7L1417.1 315.0L1417.9 317.3L1418.7 319.7L1419.5 322.0L1420.4 324.3L1421.2 326.7L1422.0 329.0L1422.7 331.4L1423.5 333.7L1424.3 336.1L1425.1 338.4L1425.8 340.8L1426.6 343.2L1427.3 345.6L1428.0 348.0L1428.8 350.4L1429.5 352.8L1430.2 355.2L1430.9 357.6L1431.6 360.0L1432.3 362.5L1433.0 364.9L1433.7 367.3L1434.4 369.8L1435.1 372.2L1435.8 374.6L1436.5 377.1L1437.2 379.5L1438.0 382.0L1438.7 384.4L1439.4 386.8L1440.2 389.3L1441.0 391.7L1441.7 394.1L1442.5 396.5L1443.3 398.9L1444.1 401.3L1445.0 403.7L1445.8 406.1L1446.7 408.5L1447.6 410.8L1448.5 413.2L1449.4 415.5L1450.4 417.9L1451.4 420.2L1452.4 422.5L1453.4 424.8L1454.5 427.0L1455.6 429.3L1456.7 431.5L1457.9 433.7L1459.1 435.9L1460.3 438.1L1461.6 440.3L1462.9 442.4L1464.2 444.5L1465.6 446.6L1467.0 448.7L1468.5 450.7L1470.0 452.6L1471.5 454.6L1473.1 456.4L1474.8 458.2L1476.5 460.0L1478.2 461.7L1480.0 463.3L1481.9 464.9L1483.8 466.4L1485.8 467.8L1487.8 469.1L1489.9 470.4L1492.1 471.5L1494.3 472.6L1496.6 473.6L1498.9 474.5L1501.3 475.3L1503.8 476.0L1506.3 476.6L1508.8 477.2L1511.4 477.7L1514.0 478.1L1516.6 478.5L1519.2 478.9L1521.9 479.2L1524.5 479.5L1527.0 479.7L1529.6 480.0L1532.1 480.2L1534.6 480.5L1537.0 480.7L1539.4 481.0L1541.7 481.3L1544.7 482.9L1592.8 482.9" stroke="#0000f0" stroke-width="3.4" fill="none" stroke-linejoin="round"/>
<path d="M1097.2 481.3L1099.6 480.9L1099.8 480.9M1099.8 480.9L1102.1 480.6L1103.6 480.5M1103.6 480.5L1104.6 480.4L1107.1 480.4L1107.4 480.4M1107.4 480.4L1109.6 480.4L1111.2 480.4M1111.2 480.4L1112.2 480.5L1114.7 480.6L1115.0 480.6M1115.0 480.6L1117.3 480.8L1118.8 480.9M1118.8 480.9L1119.8 481.0L1122.4 481.3L1122.6 481.3M1122.6 481.3L1124.9 481.3L1126.4 481.3M1126.4 481.3L1127.5 481.3L1130.1 481.3L1130.2 481.3M1130.2 481.3L1132.6 481.3L1134.0 481.3M1134.0 481.3L1135.1 481.3L1137.7 481.3L1137.8 481.3M1137.8 481.3L1140.2 481.3L1141.6 481.3M1141.6 481.3L1142.7 481.3L1145.1 481.3L1145.4 481.3M1145.4 481.3L1147.6 481.3L1149.2 481.0M1149.2 481.0L1150.0 480.8L1152.4 480.2L1153.0 480.0M1153.0 480.0L1154.8 479.4L1156.8 478.7M1156.8 478.7L1157.1 478.6L1159.4 477.6L1160.6 477.0M1160.6 477.0L1161.7 476.5L1163.9 475.3L1164.4 475.0M1164.4 475.0L1166.1 474.1L1168.2 472.8L1168.3 472.8M1168.3 472.8L1170.3 471.4L1172.1 470.1M1172.1 470.1L1172.3 469.9L1174.3 468.4L1175.9 467.1M1175.9 467.1L1176.2 466.8L1178.1 465.2L1179.7 463.8M1179.7 463.8L1179.9 463.5L1181.7 461.8L1183.4 460.0L1183.5 460.0M1183.5 460.0L1185.1 458.2L1186.7 456.3L1187.3 455.7M1187.3 455.7L1188.3 454.4L1189.9 452.5L1191.1 451.0M1191.1 451.0L1191.4 450.5L1192.9 448.5L1194.3 446.5L1194.9 445.7M1194.9 445.7L1195.7 444.4L1197.1 442.3L1198.5 440.2L1198.7 439.9M1198.7 439.9L1199.8 438.1L1201.1 435.9L1202.4 433.7L1202.5 433.6M1202.5 433.6L1203.7 431.5L1204.9 429.3L1206.2 427.1L1206.3 426.9M1206.3 426.9L1207.4 424.9L1208.6 422.6L1209.8 420.4L1210.1 419.9M1210.1 419.9L1211.1 418.1L1212.3 415.8L1213.5 413.6L1213.9 412.8M1213.9 412.8L1214.7 411.3L1215.9 409.1L1217.1 406.8L1217.7 405.7M1217.7 405.7L1218.3 404.6L1219.5 402.3L1220.7 400.1L1221.5 398.7M1221.5 398.7L1222.0 397.9L1223.2 395.7L1224.5 393.5L1225.3 392.1M1225.3 392.1L1225.7 391.4L1227.0 389.2L1228.4 387.1L1229.1 385.9M1229.1 385.9L1229.7 385.0L1231.0 382.8L1232.4 380.8L1232.9 380.0M1232.9 380.0L1233.8 378.7L1235.2 376.6L1236.6 374.6L1236.7 374.5M1236.7 374.5L1238.1 372.6L1239.5 370.6L1240.5 369.4M1240.5 369.4L1241.0 368.7L1242.6 366.7L1244.1 364.8L1244.3 364.6M1244.3 364.6L1245.7 362.9L1247.3 361.0L1248.1 360.1M1248.1 360.1L1249.0 359.2L1250.6 357.3L1251.9 356.0M1251.9 356.0L1252.3 355.5L1254.1 353.8L1255.7 352.2M1255.7 352.2L1255.9 352.0L1257.7 350.3L1259.5 348.6M1259.5 348.6L1259.5 348.6L1261.4 347.0L1263.3 345.4M1263.3 345.4L1263.3 345.4L1265.3 343.8L1267.1 342.3M1267.1 342.3L1267.3 342.2L1269.3 340.7L1270.9 339.5M1270.9 339.5L1271.4 339.2L1273.5 337.7L1274.7 336.9M1274.7 336.9L1275.7 336.3L1277.9 334.9L1278.5 334.5M1278.5 334.5L1280.2 333.6L1282.3 332.3M1282.3 332.3L1282.5 332.3L1284.8 331.1L1286.1 330.4M1286.1 330.4L1287.1 329.9L1289.5 328.9L1289.9 328.7M1289.9 328.7L1291.9 327.9L1293.7 327.2M1293.7 327.2L1294.3 327.0L1296.7 326.3L1297.5 326.1M1297.5 326.1L1299.1 325.6L1301.3 325.2M1301.3 325.2L1301.6 325.1L1304.0 324.8L1305.1 324.7M1305.1 324.7L1306.4 324.5L1308.8 324.5L1308.9 324.5M1308.9 324.5L1311.3 324.5L1312.7 324.7M1312.7 324.7L1313.7 324.8L1316.1 325.2L1316.5 325.3M1316.5 325.3L1318.4 325.8L1320.3 326.3M1320.3 326.3L1320.8 326.5L1323.1 327.3L1324.2 327.7M1324.2 327.7L1325.4 328.3L1327.7 329.4L1328.0 329.5M1328.0 329.5L1329.9 330.6L1331.8 331.7M1331.8 331.7L1332.1 331.9L1334.3 333.3L1335.6 334.2M1335.6 334.2L1336.4 334.8L1338.5 336.4L1339.4 337.2M1339.4 337.2L1340.5 338.1L1342.5 339.8L1343.2 340.5M1343.2 340.5L1344.4 341.6L1346.4 343.4L1347.0 344.0M1347.0 344.0L1348.3 345.2L1350.2 346.9L1350.8 347.4M1350.8 347.4L1352.1 348.7L1354.1 350.3L1354.6 350.7M1354.6 350.7L1356.0 351.9L1358.0 353.3L1358.4 353.5M1358.4 353.5L1360.1 354.6L1362.1 355.8L1362.2 355.8M1362.2 355.8L1364.3 356.8L1366.0 357.4M1366.0 357.4L1366.5 357.6L1368.8 358.3L1369.8 358.5M1369.8 358.5L1371.1 358.8L1373.4 359.0L1373.6 359.0M1373.6 359.0L1375.8 359.1L1377.4 359.1M1377.4 359.1L1378.2 359.1L1380.6 358.8L1381.2 358.7M1381.2 358.7L1383.0 358.4L1385.0 357.9M1385.0 357.9L1385.4 357.8L1387.8 357.0L1388.8 356.5M1388.8 356.5L1390.2 356.0L1392.5 354.8L1392.6 354.8M1392.6 354.8L1394.8 353.5L1396.4 352.4M1396.4 352.4L1397.0 352.0L1399.3 350.4L1400.2 349.7M1400.2 349.7L1401.5 348.7L1403.6 347.1L1404.0 346.8M1404.0 346.8L1405.8 345.4L1407.8 344.0M1407.8 344.0L1408.0 343.9L1410.1 342.4L1411.6 341.5M1411.6 341.5L1412.3 341.1L1414.4 340.1L1415.4 339.7M1415.4 339.7L1416.6 339.2L1418.8 338.7L1419.2 338.7M1419.2 338.7L1421.1 338.6L1423.0 338.7M1423.0 338.7L1423.3 338.8L1425.6 339.4L1426.8 339.9M1426.8 339.9L1427.8 340.3L1429.9 341.5L1430.6 342.1M1430.6 342.1L1431.9 343.1L1433.7 344.9L1434.4 345.7M1434.4 345.7L1435.3 346.9L1436.7 349.1L1437.8 351.5L1438.2 352.9M1438.2 352.9L1438.6 354.1L1439.4 356.7L1440.0 359.3L1440.6 361.9L1441.2 364.5L1441.8 367.0L1442.0 367.8M1442.0 367.8L1442.5 369.6L1443.1 372.1L1443.8 374.5L1444.5 377.0L1445.2 379.4L1445.8 381.4M1445.8 381.4L1446.0 381.8L1446.7 384.2L1447.5 386.6L1448.3 389.0L1449.0 391.3L1449.6 393.0M1449.6 393.0L1449.9 393.7L1450.7 396.0L1451.5 398.3L1452.4 400.6L1453.2 402.9L1453.4 403.4M1453.4 403.4L1454.1 405.2L1455.0 407.5L1455.9 409.8L1456.8 412.1L1457.2 413.2M1457.2 413.2L1457.7 414.4L1458.7 416.7L1459.6 419.1L1460.5 421.4L1461.0 422.6M1461.0 422.6L1461.5 423.7L1462.5 426.1L1463.4 428.4L1464.4 430.8L1464.8 431.9M1464.8 431.9L1465.4 433.2L1466.4 435.6L1467.4 438.0L1468.4 440.4L1468.6 441.0M1468.6 441.0L1469.4 442.8L1470.4 445.2L1471.5 447.6L1472.4 449.6M1472.4 449.6L1472.6 449.9L1473.8 452.2L1474.9 454.5L1476.1 456.8L1476.2 456.9M1476.2 456.9L1477.4 458.9L1478.7 461.1L1480.1 463.1M1480.1 463.1L1480.1 463.1L1481.5 465.1L1483.0 467.0L1483.9 468.0M1483.9 468.0L1484.5 468.8L1486.2 470.6L1487.7 472.0M1487.7 472.0L1487.9 472.2L1489.6 473.7L1491.5 475.1M1491.5 475.1L1491.5 475.1L1493.4 476.4L1495.3 477.4M1495.3 477.4L1495.4 477.5L1497.6 478.6L1499.1 479.1M1499.1 479.1L1499.8 479.4L1502.1 480.2L1502.9 480.3M1502.9 480.3L1504.5 480.7L1506.7 481.1M1506.7 481.1L1507.1 481.1L1509.7 481.3L1510.5 481.3M1510.5 481.3L1512.5 481.3L1514.3 481.3M1514.3 481.3L1515.4 481.3L1518.1 482.7M1518.1 482.7L1518.4 482.9L1521.9 482.9M1521.9 482.9L1525.7 482.9M1525.7 482.9L1529.5 482.9M1529.5 482.9L1533.3 482.9M1533.3 482.9L1537.1 482.9M1537.1 482.9L1540.9 482.9M1540.9 482.9L1544.7 482.9M1544.7 482.9L1548.5 482.9M1548.5 482.9L1552.3 482.9M1552.3 482.9L1556.1 482.9M1556.1 482.9L1559.9 482.9M1559.9 482.9L1563.7 482.9M1563.7 482.9L1567.5 482.9M1567.5 482.9L1571.3 482.9M1571.3 482.9L1575.1 482.9M1575.1 482.9L1578.9 482.9M1578.9 482.9L1582.7 482.9M1582.7 482.9L1586.5 482.9M1586.5 482.9L1590.3 482.9M1590.3 482.9L1594.1 482.9M1594.1 482.9L1597.9 482.9M1597.9 482.9L1601.7 482.9M1601.7 482.9L1605.5 482.9M1605.5 482.9L1609.3 482.9M1609.3 482.9L1611.2 482.9" stroke="#0000f0" stroke-width="3.4" fill="none" stroke-linejoin="round" stroke-dasharray="3.4 3.3"/>
<path d="M999.0 481.3L1001.5 480.9L1004.0 480.6L1006.5 480.3L1009.0 480.2L1011.6 480.1L1014.1 480.1L1016.6 480.2L1019.1 480.3L1021.6 480.4L1024.1 480.6L1026.6 480.8L1029.1 481.0L1031.6 481.3L1034.1 481.3L1036.6 481.3L1039.2 481.3L1041.7 481.3L1044.2 481.3L1046.7 481.3L1049.2 481.3L1051.7 481.3L1054.2 481.3L1056.7 481.3L1059.2 481.3L1061.7 481.3L1064.2 481.3L1066.7 481.3L1069.1 481.0L1071.6 480.4L1074.1 479.8L1076.5 479.1L1078.9 478.4L1081.3 477.6L1083.7 476.7L1086.0 475.8L1088.3 474.8L1090.6 473.8L1092.8 472.7L1095.0 471.5L1097.2 470.3L1099.3 469.0L1101.4 467.7L1103.5 466.3L1105.4 464.9L1107.4 463.4L1109.3 461.9L1111.1 460.3L1113.0 458.7L1114.7 457.0L1116.5 455.3L1118.2 453.6L1119.8 451.8L1121.4 450.0L1123.0 448.1L1124.6 446.2L1126.1 444.3L1127.6 442.4L1129.1 440.4L1130.5 438.4L1132.0 436.4L1133.4 434.3L1134.8 432.3L1136.2 430.2L1137.5 428.1L1138.9 426.0L1140.2 423.8L1141.5 421.7L1142.8 419.5L1144.1 417.4L1145.4 415.2L1146.7 413.0L1148.0 410.8L1149.3 408.6L1150.6 406.4L1151.9 404.2L1153.2 402.0L1154.5 399.9L1155.8 397.7L1157.1 395.5L1158.5 393.3L1159.8 391.2L1161.2 389.0L1162.6 386.9L1164.0 384.7L1165.4 382.6L1166.8 380.5L1168.2 378.4L1169.7 376.4L1171.1 374.3L1172.6 372.3L1174.1 370.2L1175.7 368.2L1177.2 366.2L1178.7 364.3L1180.3 362.3L1181.9 360.4L1183.5 358.4L1185.1 356.5L1186.8 354.7L1188.4 352.8L1190.1 351.0L1191.8 349.2L1193.5 347.4L1195.3 345.6L1197.1 343.9L1198.8 342.2L1200.6 340.5L1202.5 338.8L1204.3 337.2L1206.2 335.6L1208.1 334.0L1210.0 332.5L1212.0 330.9L1213.9 329.4L1215.9 328.0L1217.9 326.6L1220.0 325.2L1222.0 323.8L1224.1 322.5L1226.2 321.2L1228.4 319.9L1230.5 318.7L1232.7 317.5L1234.9 316.3L1237.1 315.1L1239.3 314.0L1241.6 312.9L1243.8 311.8L1246.1 310.7L1248.4 309.7L1250.7 308.6L1253.0 307.6L1255.3 306.6L1257.7 305.6L1260.0 304.7L1262.4 303.7L1264.7 302.8L1267.1 301.9L1269.5 301.0L1271.8 300.1L1274.2 299.2L1276.6 298.3L1279.0 297.4L1281.4 296.5L1283.8 295.7L1286.1 294.8L1288.5 293.9L1290.9 293.1L1293.3 292.2L1295.7 291.3L1298.0 290.5L1300.4 289.6L1302.8 288.7L1305.1 287.9L1307.5 287.0L1309.8 286.2L1312.2 285.3L1314.5 284.5L1316.9 283.7L1319.2 282.9L1321.6 282.1L1324.0 281.4L1326.4 280.6L1328.7 279.9L1331.1 279.2L1333.5 278.5L1336.0 277.9L1338.4 277.3L1340.8 276.7L1343.3 276.1L1345.7 275.6L1348.2 275.2L1350.7 274.7L1353.2 274.4L1355.7 274.1L1358.2 273.8L1360.7 273.6L1363.2 273.5L1365.7 273.5L1368.1 273.6L1370.6 273.7L1373.0 273.9L1375.4 274.3L1377.8 274.8L1380.1 275.3L1382.4 276.0L1384.7 276.8L1386.9 277.8L1389.1 278.9L1391.2 280.1L1393.3 281.4L1395.4 282.9L1397.4 284.4L1399.3 286.1L1401.2 287.9L1403.1 289.7L1405.0 291.6L1406.8 293.5L1408.5 295.5L1410.3 297.5L1412.0 299.5L1413.7 301.6L1415.3 303.7L1417.0 305.7L1418.6 307.8L1420.2 309.8L1421.7 311.8L1423.3 313.8L1424.8 315.8L1426.2 317.9L1427.7 319.9L1429.1 321.9L1430.5 323.9L1431.9 325.9L1433.2 327.9L1434.5 330.0L1435.8 332.0L1437.1 334.1L1438.3 336.2L1439.5 338.3L1440.7 340.5L1441.8 342.6L1442.9 344.8L1444.0 347.0L1445.1 349.2L1446.1 351.5L1447.2 353.7L1448.2 356.0L1449.1 358.3L1450.1 360.6L1451.1 362.9L1452.0 365.2L1452.9 367.6L1453.9 369.9L1454.8 372.3L1455.7 374.7L1456.6 377.0L1457.5 379.4L1458.4 381.8L1459.2 384.2L1460.1 386.6L1461.0 388.9L1461.9 391.3L1462.8 393.7L1463.7 396.1L1464.7 398.5L1465.6 400.8L1466.5 403.2L1467.5 405.5L1468.4 407.9L1469.4 410.2L1470.4 412.5L1471.4 414.8L1472.5 417.1L1473.5 419.4L1474.6 421.7L1475.7 423.9L1476.8 426.1L1478.0 428.3L1479.2 430.5L1480.4 432.7L1481.7 434.8L1482.9 437.0L1484.2 439.1L1485.5 441.2L1486.8 443.3L1488.1 445.4L1489.4 447.5L1490.7 449.7L1491.9 451.8L1493.2 453.9L1494.4 456.1L1495.6 458.3L1496.8 460.5L1498.0 462.7L1499.1 465.0L1500.2 467.3L1501.2 469.6L1502.3 471.9L1503.4 474.0L1504.6 476.1L1506.0 477.9L1507.6 479.3L1509.5 480.5L1511.7 481.2L1514.2 481.3L1516.8 481.3L1519.6 481.3L1522.3 481.3L1525.0 481.2L1527.4 481.3L1530.4 482.9L1671.0 482.9" stroke="#0000f0" stroke-width="3.4" fill="none" stroke-linejoin="round"/>
<path d="M1091.8 481.3L1094.3 480.9L1096.7 480.6L1099.2 480.5L1101.7 480.4L1104.2 480.5L1106.8 480.6L1109.3 480.7L1111.9 480.9L1114.4 481.2L1117.0 481.3L1119.5 481.3L1122.1 481.3L1124.7 481.3L1127.2 481.3L1129.8 481.3L1132.3 481.3L1134.8 481.3L1137.3 481.3L1139.8 481.3L1142.3 481.3L1144.7 481.2L1147.1 480.6L1149.5 479.9L1151.9 479.2L1154.2 478.3L1156.5 477.4L1158.7 476.3L1160.9 475.2L1163.0 474.0L1165.1 472.8L1167.2 471.5L1169.2 470.1L1171.1 468.6L1173.0 467.1L1174.9 465.5L1176.7 463.9L1178.5 462.2L1180.2 460.5L1181.9 458.7L1183.6 456.9L1185.2 455.0L1186.8 453.1L1188.4 451.1L1189.9 449.2L1191.4 447.2L1192.9 445.1L1194.4 443.1L1195.8 441.0L1197.2 438.8L1198.6 436.7L1200.0 434.6L1201.4 432.4L1202.8 430.2L1204.1 428.1L1205.5 425.9L1206.8 423.7L1208.2 421.5L1209.5 419.3L1210.9 417.1L1212.2 415.0L1213.5 412.8L1214.9 410.6L1216.2 408.5L1217.6 406.3L1219.0 404.2L1220.3 402.1L1221.7 399.9L1223.1 397.8L1224.5 395.8L1226.0 393.7L1227.4 391.7L1228.9 389.6L1230.4 387.6L1231.9 385.6L1233.4 383.7L1234.9 381.7L1236.5 379.8L1238.1 377.9L1239.7 376.1L1241.4 374.3L1243.1 372.5L1244.8 370.7L1246.6 369.0L1248.3 367.3L1250.2 365.6L1252.0 364.0L1253.9 362.4L1255.9 360.8L1257.8 359.3L1259.9 357.9L1261.9 356.4L1264.0 355.1L1266.1 353.7L1268.2 352.4L1270.4 351.2L1272.6 349.9L1274.8 348.8L1277.0 347.7L1279.3 346.6L1281.6 345.6L1283.9 344.6L1286.3 343.7L1288.6 342.8L1291.0 342.0L1293.4 341.2L1295.8 340.5L1298.2 339.8L1300.7 339.2L1303.2 338.6L1305.6 338.1L1308.1 337.7L1310.6 337.3L1313.1 337.0L1315.6 336.7L1318.1 336.5L1320.6 336.3L1323.2 336.2L1325.7 336.2L1328.2 336.2L1330.8 336.2L1333.3 336.2L1335.8 336.3L1338.3 336.4L1340.9 336.4L1343.4 336.5L1345.9 336.5L1348.3 336.5L1350.8 336.4L1353.3 336.3L1355.7 336.1L1358.1 335.9L1360.5 335.6L1362.9 335.1L1365.2 334.6L1367.6 334.0L1369.9 333.4L1372.2 332.6L1374.6 331.7L1376.9 330.7L1379.2 329.6L1381.4 328.4L1383.7 327.2L1386.0 326.0L1388.3 324.9L1390.7 323.8L1393.0 322.9L1395.4 322.1L1397.8 321.5L1400.2 321.1L1402.6 321.0L1405.0 321.0L1407.4 321.2L1409.8 321.6L1412.1 322.2L1414.4 323.0L1416.6 324.0L1418.7 325.2L1420.8 326.5L1422.7 328.1L1424.5 329.8L1426.2 331.6L1427.9 333.6L1429.4 335.7L1430.8 337.9L1432.2 340.1L1433.6 342.4L1434.8 344.8L1436.1 347.1L1437.3 349.4L1438.4 351.7L1439.6 354.1L1440.6 356.4L1441.7 358.7L1442.7 361.0L1443.8 363.3L1444.7 365.7L1445.7 368.0L1446.6 370.3L1447.5 372.6L1448.4 375.0L1449.3 377.3L1450.1 379.6L1450.9 381.9L1451.8 384.3L1452.6 386.6L1453.3 388.9L1454.1 391.3L1454.9 393.6L1455.6 396.0L1456.4 398.3L1457.1 400.7L1457.9 403.0L1458.6 405.4L1459.4 407.8L1460.1 410.2L1460.8 412.5L1461.6 414.9L1462.3 417.3L1463.1 419.7L1463.8 422.1L1464.6 424.6L1465.4 427.0L1466.1 429.4L1466.9 431.8L1467.6 434.3L1468.3 436.7L1469.1 439.2L1469.8 441.6L1470.4 444.1L1471.1 446.6L1471.7 449.1L1472.3 451.6L1472.9 454.0L1473.5 456.5L1474.0 459.0L1474.5 461.5L1475.0 464.0L1475.5 466.4L1476.2 468.7L1476.9 470.9L1477.7 473.0L1478.6 475.0L1479.7 476.9L1481.0 478.5L1482.5 480.0L1484.3 481.3L1487.3 482.9L1607.0 482.9" stroke="#0000f0" stroke-width="3.4" fill="none" stroke-linejoin="round" stroke-dasharray="14.5 9.7"/>
<path d="M999.0 481.3L1001.4 480.6L1003.8 479.8L1006.2 479.0L1008.6 478.2L1011.0 477.3L1013.4 476.4L1015.7 475.5L1018.0 474.5L1020.3 473.5L1022.6 472.5L1024.8 471.4L1027.0 470.2L1029.2 469.0L1031.3 467.8L1033.4 466.6L1035.5 465.2L1037.6 463.9L1039.6 462.5L1041.5 461.0L1043.4 459.5L1045.3 457.9L1047.1 456.3L1048.9 454.6L1050.6 452.9L1052.3 451.1L1053.9 449.3L1055.5 447.5L1057.1 445.6L1058.6 443.6L1060.0 441.6L1061.5 439.6L1062.9 437.5L1064.2 435.4L1065.6 433.3L1066.9 431.2L1068.1 429.0L1069.4 426.8L1070.6 424.6L1071.8 422.3L1073.0 420.1L1074.1 417.8L1075.3 415.5L1076.4 413.2L1077.5 410.9L1078.5 408.6L1079.6 406.2L1080.6 403.9L1081.7 401.6L1082.7 399.3L1083.7 396.9L1084.7 394.6L1085.7 392.3L1086.7 389.9L1087.7 387.6L1088.7 385.3L1089.6 383.0L1090.6 380.6L1091.6 378.3L1092.5 376.0L1093.4 373.6L1094.4 371.3L1095.3 369.0L1096.2 366.7L1097.1 364.3L1098.0 362.0L1098.9 359.7L1099.8 357.3L1100.7 355.0L1101.5 352.7L1102.4 350.3L1103.3 348.0L1104.1 345.7L1105.0 343.3L1105.8 341.0L1106.7 338.7L1107.5 336.3L1108.4 334.0L1109.2 331.7L1110.0 329.3L1110.9 327.0L1111.7 324.6L1112.5 322.3L1113.4 320.0L1114.2 317.6L1115.0 315.3L1115.8 312.9L1116.6 310.6L1117.4 308.2L1118.3 305.9L1119.1 303.5L1119.9 301.2L1120.7 298.8L1121.5 296.4L1122.3 294.1L1123.1 291.7L1123.9 289.3L1124.8 287.0L1125.6 284.6L1126.4 282.2L1127.2 279.9L1128.0 277.5L1128.8 275.1L1129.7 272.7L1130.5 270.4L1131.3 268.0L1132.1 265.6L1133.0 263.2L1133.8 260.8L1134.6 258.4L1135.4 256.0L1136.3 253.7L1137.1 251.3L1137.9 248.9L1138.7 246.5L1139.6 244.1L1140.4 241.7L1141.2 239.3L1142.1 236.9L1142.9 234.5L1143.7 232.2L1144.6 229.8L1145.4 227.4L1146.2 225.0L1147.1 222.6L1147.9 220.2L1148.7 217.9L1149.6 215.5L1150.4 213.1L1151.3 210.7L1152.1 208.3L1152.9 206.0L1153.8 203.6L1154.6 201.2L1155.5 198.9L1156.3 196.5L1157.1 194.1L1158.0 191.8L1158.8 189.4L1159.7 187.1L1160.5 184.7L1161.3 182.4L1162.2 180.0L1163.0 177.7L1163.9 175.4L1164.7 173.0L1165.5 170.7L1166.4 168.4L1167.2 166.1L1168.0 163.8L1168.9 161.5L1169.7 159.1L1170.6 156.8L1171.4 154.5L1172.3 152.2L1173.2 149.9L1174.0 147.6L1174.9 145.4L1175.8 143.1L1176.7 140.8L1177.7 138.5L1178.6 136.2L1179.6 133.9L1180.6 131.6L1181.6 129.2L1182.6 126.9L1183.6 124.6L1184.7 122.3L1185.8 120.0L1186.9 117.6L1188.1 115.3L1189.3 113.0L1190.5 110.6L1191.7 108.3L1193.0 105.9L1194.3 103.6L1195.7 101.3L1197.1 99.0L1198.5 96.8L1200.0 94.7L1201.6 92.6L1203.2 90.6L1204.9 88.6L1206.6 86.8L1208.4 85.1L1210.3 83.5L1212.2 82.1L1214.2 80.8L1216.2 79.7L1218.4 78.8L1220.5 78.1L1222.7 77.6L1224.9 77.3L1227.2 77.3L1229.5 77.5L1231.7 77.9L1234.0 78.4L1236.2 79.2L1238.5 80.2L1240.6 81.3L1242.8 82.5L1244.9 83.9L1246.9 85.4L1248.9 87.0L1250.8 88.8L1252.6 90.6L1254.3 92.5L1255.9 94.4L1257.5 96.5L1259.0 98.5L1260.4 100.7L1261.8 102.9L1263.1 105.1L1264.4 107.4L1265.6 109.6L1266.8 111.9L1267.9 114.2L1269.0 116.5L1270.1 118.9L1271.1 121.2L1272.1 123.5L1273.0 125.9L1273.9 128.2L1274.8 130.6L1275.7 132.9L1276.5 135.3L1277.4 137.6L1278.2 140.0L1278.9 142.4L1279.7 144.8L1280.5 147.1L1281.2 149.5L1281.9 151.9L1282.6 154.3L1283.3 156.7L1284.1 159.1L1284.8 161.5L1285.5 163.9L1286.2 166.2L1286.9 168.6L1287.6 171.0L1288.3 173.4L1289.0 175.8L1289.7 178.2L1290.5 180.6L1291.2 183.0L1292.0 185.3L1292.7 187.7L1293.5 190.1L1294.3 192.5L1295.0 194.8L1295.8 197.2L1296.6 199.6L1297.4 202.0L1298.2 204.3L1299.1 206.7L1299.9 209.1L1300.7 211.4L1301.6 213.8L1302.4 216.2L1303.2 218.5L1304.1 220.9L1305.0 223.2L1305.8 225.6L1306.7 227.9L1307.6 230.3L1308.5 232.6L1309.4 235.0L1310.3 237.3L1311.2 239.7L1312.1 242.0L1313.0 244.4L1313.9 246.7L1314.8 249.0L1315.7 251.4L1316.7 253.7L1317.6 256.0L1318.5 258.4L1319.5 260.7L1320.4 263.0L1321.4 265.3L1322.3 267.7L1323.3 270.0L1324.3 272.3L1325.2 274.6L1326.2 277.0L1327.2 279.3L1328.2 281.6L1329.1 283.9L1330.1 286.2L1331.1 288.5L1332.1 290.8L1333.1 293.1L1334.1 295.4L1335.1 297.7L1336.1 300.0L1337.1 302.3L1338.1 304.6L1339.1 306.9L1340.1 309.2L1341.1 311.5L1342.2 313.8L1343.2 316.1L1344.2 318.4L1345.2 320.7L1346.3 323.0L1347.3 325.2L1348.3 327.5L1349.4 329.8L1350.4 332.1L1351.5 334.4L1352.5 336.6L1353.6 338.9L1354.7 341.2L1355.7 343.4L1356.8 345.7L1357.9 347.9L1359.0 350.2L1360.0 352.5L1361.1 354.7L1362.2 357.0L1363.3 359.2L1364.4 361.5L1365.5 363.7L1366.7 365.9L1367.8 368.2L1368.9 370.4L1370.0 372.6L1371.2 374.9L1372.3 377.1L1373.5 379.3L1374.6 381.5L1375.8 383.8L1376.9 386.0L1378.1 388.2L1379.3 390.4L1380.5 392.6L1381.7 394.8L1382.9 397.0L1384.1 399.2L1385.3 401.4L1386.5 403.6L1387.7 405.8L1388.9 408.0L1390.2 410.2L1391.4 412.3L1392.6 414.5L1393.9 416.7L1395.1 418.9L1396.4 421.1L1397.6 423.3L1398.9 425.5L1400.1 427.6L1401.4 429.8L1402.6 432.0L1403.9 434.2L1405.1 436.4L1406.4 438.6L1407.6 440.8L1408.9 443.1L1410.1 445.3L1411.3 447.5L1412.5 449.7L1413.8 452.0L1415.0 454.2L1416.2 456.4L1417.5 458.6L1418.7 460.8L1420.1 462.9L1421.4 465.0L1422.8 467.0L1424.3 468.9L1425.9 470.7L1427.5 472.5L1429.2 474.1L1431.1 475.6L1433.0 476.9L1435.1 478.1L1437.3 479.2L1439.6 480.1L1442.1 480.8L1444.7 481.3L1447.7 482.9L1671.0 482.9" stroke="#555555" stroke-width="3.4" fill="none" stroke-linejoin="round"/>
<path d="M999.0 481.3L1001.1 480.0L1003.3 478.7L1003.6 478.4M1003.6 478.4L1005.4 477.4L1007.6 476.1L1009.7 474.8L1011.9 473.6L1013.4 472.7M1013.4 472.7L1014.1 472.3L1016.3 471.0L1018.5 469.8L1020.6 468.5L1022.8 467.3L1023.1 467.1M1023.1 467.1L1025.0 466.0L1027.1 464.7L1029.3 463.4L1031.4 462.1L1032.8 461.3M1032.8 461.3L1033.6 460.8L1035.7 459.5L1037.8 458.1L1039.8 456.7L1041.9 455.3L1042.6 454.8M1042.6 454.8L1043.9 453.9L1045.9 452.4L1047.9 450.9L1049.8 449.3L1051.7 447.7L1052.3 447.2M1052.3 447.2L1053.6 446.1L1055.4 444.4L1057.2 442.7L1059.0 441.0L1060.7 439.2L1062.1 437.8M1062.1 437.8L1062.5 437.4L1064.2 435.6L1065.8 433.7L1067.5 431.8L1069.1 429.9L1070.7 428.0L1071.8 426.5M1071.8 426.5L1072.2 426.0L1073.8 424.0L1075.3 422.0L1076.8 420.0L1078.3 418.0L1079.8 415.9L1081.3 413.9L1081.5 413.5M1081.5 413.5L1082.7 411.8L1084.2 409.7L1085.6 407.6L1087.0 405.6L1088.5 403.5L1089.9 401.4L1091.3 399.3L1091.3 399.3M1091.3 399.3L1092.7 397.2L1094.0 395.1L1095.4 393.0L1096.8 390.9L1098.1 388.8L1099.5 386.7L1100.8 384.6L1101.0 384.3M1101.0 384.3L1102.2 382.5L1103.5 380.3L1104.8 378.2L1106.2 376.1L1107.5 374.0L1108.8 371.8L1110.1 369.7L1110.8 368.6M1110.8 368.6L1111.4 367.6L1112.7 365.5L1114.0 363.3L1115.2 361.2L1116.5 359.0L1117.8 356.9L1119.1 354.8L1120.3 352.6L1120.5 352.4M1120.5 352.4L1121.6 350.5L1122.9 348.3L1124.1 346.2L1125.4 344.0L1126.6 341.9L1127.9 339.7L1129.1 337.6L1130.2 335.7M1130.2 335.7L1130.4 335.4L1131.6 333.3L1132.9 331.1L1134.1 328.9L1135.4 326.8L1136.6 324.6L1137.8 322.5L1139.1 320.3L1140.0 318.7M1140.0 318.7L1140.3 318.1L1141.5 316.0L1142.8 313.8L1144.0 311.6L1145.3 309.5L1146.5 307.3L1147.7 305.1L1148.9 302.9L1149.7 301.5M1149.7 301.5L1150.1 300.8L1151.3 298.6L1152.5 296.4L1153.7 294.2L1154.9 292.0L1156.0 289.8L1157.1 287.5L1158.3 285.3L1159.4 283.1L1159.5 282.9M1159.5 282.9L1160.5 280.8L1161.5 278.6L1162.6 276.3L1163.6 274.0L1164.6 271.7L1165.6 269.4L1166.5 267.1L1167.5 264.8L1168.4 262.5L1169.2 260.6M1169.2 260.6L1169.4 260.1L1170.3 257.8L1171.2 255.5L1172.2 253.2L1173.1 250.9L1174.0 248.6L1175.0 246.3L1176.0 244.0L1177.0 241.7L1178.0 239.5L1178.9 237.5M1178.9 237.5L1179.0 237.2L1180.1 235.0L1181.2 232.8L1182.4 230.6L1183.5 228.4L1184.8 226.3L1186.0 224.2L1187.3 222.1L1188.7 220.0M1188.7 220.0L1188.7 220.0L1190.1 218.0L1191.5 216.0L1193.0 214.0L1194.5 212.0L1196.1 210.1L1197.6 208.2L1198.4 207.3M1198.4 207.3L1199.3 206.3L1200.9 204.4L1202.6 202.5L1204.3 200.7L1206.1 198.8L1207.8 197.0L1208.1 196.7M1208.1 196.7L1209.6 195.2L1211.4 193.4L1213.3 191.6L1215.1 189.8L1217.0 188.0L1217.9 187.2M1217.9 187.2L1218.8 186.3L1220.7 184.5L1222.6 182.7L1224.5 181.0L1226.5 179.2L1227.6 178.2M1227.6 178.2L1228.4 177.5L1230.3 175.8L1232.3 174.2L1234.3 172.6L1236.3 171.0L1237.4 170.2M1237.4 170.2L1238.3 169.5L1240.4 168.1L1242.5 166.7L1244.6 165.5L1246.7 164.3L1247.1 164.1M1247.1 164.1L1248.8 163.2L1251.0 162.2L1253.2 161.3L1255.5 160.6L1256.8 160.2M1256.8 160.2L1257.7 159.9L1260.0 159.4L1262.4 159.1L1264.8 158.8L1266.6 158.8M1266.6 158.8L1267.2 158.8L1269.6 158.8L1272.0 159.0L1274.5 159.3L1276.3 159.7M1276.3 159.7L1276.9 159.8L1279.4 160.3L1281.8 161.0L1284.2 161.8L1286.1 162.5M1286.1 162.5L1286.6 162.7L1288.9 163.7L1291.2 164.9L1293.4 166.0L1295.5 167.3L1295.8 167.5M1295.8 167.5L1297.6 168.7L1299.7 170.2L1301.7 171.7L1303.6 173.2L1305.5 174.9L1305.5 174.9M1305.5 174.9L1307.4 176.5L1309.2 178.3L1311.0 180.0L1312.7 181.8L1314.5 183.6L1315.3 184.5M1315.3 184.5L1316.2 185.5L1317.8 187.3L1319.4 189.2L1321.0 191.2L1322.6 193.1L1324.2 195.1L1325.0 196.2M1325.0 196.2L1325.7 197.1L1327.2 199.1L1328.7 201.1L1330.1 203.1L1331.6 205.2L1333.0 207.3L1334.4 209.3L1334.8 209.9M1334.8 209.9L1335.8 211.4L1337.2 213.5L1338.6 215.6L1339.9 217.8L1341.3 219.9L1342.6 222.0L1343.9 224.1L1344.5 225.1M1344.5 225.1L1345.2 226.3L1346.5 228.4L1347.8 230.6L1349.1 232.7L1350.4 234.9L1351.6 237.1L1352.9 239.2L1354.2 241.4L1354.2 241.5M1354.2 241.5L1355.4 243.6L1356.6 245.8L1357.8 248.0L1359.1 250.1L1360.3 252.3L1361.5 254.6L1362.7 256.8L1363.8 259.0L1364.0 259.2M1364.0 259.2L1365.0 261.2L1366.2 263.4L1367.4 265.6L1368.5 267.8L1369.7 270.1L1370.8 272.3L1372.0 274.5L1373.1 276.8L1373.7 278.0M1373.7 278.0L1374.2 279.0L1375.3 281.3L1376.5 283.5L1377.6 285.7L1378.7 288.0L1379.8 290.2L1380.9 292.5L1382.0 294.8L1383.1 297.0L1383.5 297.7M1383.5 297.7L1384.2 299.3L1385.3 301.5L1386.4 303.8L1387.5 306.0L1388.5 308.3L1389.6 310.6L1390.7 312.8L1391.8 315.1L1392.8 317.4L1393.2 318.1M1393.2 318.1L1393.9 319.6L1395.0 321.9L1396.0 324.2L1397.1 326.4L1398.2 328.7L1399.2 331.0L1400.3 333.2L1401.4 335.5L1402.4 337.8L1402.9 338.9M1402.9 338.9L1403.5 340.0L1404.5 342.3L1405.6 344.6L1406.6 346.9L1407.7 349.1L1408.7 351.4L1409.8 353.7L1410.8 355.9L1411.9 358.2L1412.7 359.9M1412.7 359.9L1413.0 360.5L1414.0 362.8L1415.1 365.0L1416.1 367.3L1417.2 369.6L1418.2 371.9L1419.3 374.1L1420.3 376.4L1421.4 378.7L1422.4 381.0M1422.4 381.0L1422.4 381.0L1423.5 383.3L1424.5 385.5L1425.6 387.8L1426.6 390.1L1427.7 392.4L1428.7 394.7L1429.8 396.9L1430.8 399.2L1431.9 401.5L1432.1 402.0M1432.1 402.0L1433.0 403.8L1434.0 406.1L1435.1 408.3L1436.2 410.6L1437.2 412.9L1438.3 415.2L1439.4 417.5L1440.4 419.7L1441.5 422.0L1441.9 422.8M1441.9 422.8L1442.6 424.3L1443.7 426.5L1444.8 428.8L1446.0 431.1L1447.1 433.3L1448.3 435.5L1449.4 437.8L1450.6 440.0L1451.6 441.9M1451.6 441.9L1451.8 442.2L1453.0 444.4L1454.3 446.6L1455.6 448.8L1456.8 450.9L1458.2 453.1L1459.5 455.2L1460.9 457.3L1461.4 458.1M1461.4 458.1L1462.3 459.4L1463.7 461.5L1465.2 463.5L1466.7 465.5L1468.3 467.4L1469.9 469.2L1471.1 470.4M1471.1 470.4L1471.6 471.0L1473.4 472.6L1475.2 474.1L1477.2 475.6L1479.2 476.9L1480.8 477.8M1480.8 477.8L1481.3 478.0L1483.5 479.0L1485.8 479.9L1488.3 480.5L1490.6 481.0M1490.6 481.0L1490.8 481.0L1493.5 481.3L1496.5 482.9L1500.3 482.9M1500.3 482.9L1510.1 482.9M1510.1 482.9L1519.8 482.9M1519.8 482.9L1529.5 482.9M1529.5 482.9L1539.3 482.9M1539.3 482.9L1549.0 482.9M1549.0 482.9L1558.8 482.9M1558.8 482.9L1568.5 482.9M1568.5 482.9L1578.2 482.9M1578.2 482.9L1588.0 482.9M1588.0 482.9L1597.7 482.9M1597.7 482.9L1607.5 482.9M1607.5 482.9L1617.2 482.9M1617.2 482.9L1626.9 482.9M1626.9 482.9L1636.7 482.9M1636.7 482.9L1646.4 482.9M1646.4 482.9L1656.1 482.9M1656.1 482.9L1665.9 482.9M1665.9 482.9L1671.0 482.9" stroke="#555555" stroke-width="3.4" fill="none" stroke-linejoin="round" stroke-dasharray="3.4 3.3"/>
<path d="M1024.8 481.3L1027.2 481.3L1029.2 481.3M1029.2 481.3L1029.7 481.3L1032.2 481.3L1034.7 481.3L1035.5 481.3M1035.5 481.3L1037.2 481.3L1039.7 481.2L1041.8 481.1M1041.8 481.1L1042.3 481.1L1044.8 481.0L1047.3 480.8L1048.1 480.7M1048.1 480.7L1049.9 480.6L1052.4 480.4L1054.5 480.1M1054.5 480.1L1054.9 480.1L1057.4 479.7L1059.9 479.3L1060.8 479.1M1060.8 479.1L1062.4 478.8L1064.9 478.3L1067.1 477.7M1067.1 477.7L1067.3 477.7L1069.7 477.0L1072.1 476.3L1073.4 475.8M1073.4 475.8L1074.4 475.4L1076.7 474.5L1079.0 473.5L1079.7 473.1M1079.7 473.1L1081.2 472.4L1083.4 471.2L1085.5 469.9L1086.0 469.6M1086.0 469.6L1087.6 468.6L1089.6 467.1L1091.6 465.6L1092.4 465.0M1092.4 465.0L1093.6 464.1L1095.5 462.4L1097.3 460.7L1098.7 459.4M1098.7 459.4L1099.1 458.9L1100.8 457.1L1102.5 455.2L1104.2 453.3L1105.0 452.3M1105.0 452.3L1105.7 451.3L1107.3 449.3L1108.8 447.2L1110.2 445.1L1111.3 443.4M1111.3 443.4L1111.5 443.0L1112.8 440.8L1114.1 438.6L1115.3 436.4L1116.4 434.2L1117.5 431.9L1117.6 431.6M1117.6 431.6L1118.5 429.6L1119.5 427.4L1120.5 425.1L1121.4 422.7L1122.3 420.4L1123.2 418.1L1123.9 416.3M1123.9 416.3L1124.1 415.8L1125.0 413.4L1126.0 411.1L1126.9 408.8L1127.8 406.5L1128.8 404.2L1129.8 401.9L1130.3 400.8M1130.3 400.8L1130.8 399.6L1131.8 397.2L1132.7 394.9L1133.7 392.6L1134.7 390.3L1135.6 388.0L1136.5 385.6L1136.6 385.4M1136.6 385.4L1137.4 383.3L1138.2 380.9L1139.1 378.5L1139.9 376.2L1140.7 373.8L1141.5 371.4L1142.3 369.0L1142.9 367.2M1142.9 367.2L1143.1 366.6L1143.8 364.2L1144.6 361.9L1145.4 359.5L1146.1 357.1L1146.9 354.7L1147.7 352.3L1148.4 349.9L1149.2 347.6M1149.2 347.6L1149.2 347.5L1150.0 345.1L1150.8 342.7L1151.6 340.4L1152.5 338.0L1153.3 335.6L1154.2 333.3L1155.0 330.9L1155.5 329.5M1155.5 329.5L1155.9 328.5L1156.8 326.2L1157.7 323.8L1158.6 321.5L1159.5 319.1L1160.4 316.8L1161.3 314.5L1161.8 313.1M1161.8 313.1L1162.2 312.1L1163.1 309.8L1164.1 307.5L1165.0 305.1L1166.0 302.8L1166.9 300.5L1167.9 298.2L1168.2 297.5M1168.2 297.5L1168.8 295.8L1169.8 293.5L1170.7 291.2L1171.7 288.9L1172.6 286.5L1173.6 284.2L1174.5 282.1M1174.5 282.1L1174.6 281.9L1175.5 279.6L1176.5 277.2L1177.4 274.9L1178.4 272.6L1179.3 270.3L1180.3 267.9L1180.8 266.7M1180.8 266.7L1181.2 265.6L1182.2 263.3L1183.1 260.9L1184.0 258.6L1184.9 256.3L1185.8 253.9L1186.7 251.6L1187.1 250.6M1187.1 250.6L1187.6 249.2L1188.5 246.9L1189.4 244.5L1190.3 242.2L1191.2 239.9L1192.2 237.5L1193.1 235.2L1193.4 234.4M1193.4 234.4L1194.1 232.9L1195.0 230.6L1196.0 228.3L1197.1 226.0L1198.1 223.7L1199.2 221.4L1199.7 220.4M1199.7 220.4L1200.4 219.2L1201.5 217.0L1202.7 214.8L1204.0 212.6L1205.3 210.4L1206.0 209.3M1206.0 209.3L1206.7 208.3L1208.2 206.1L1209.6 204.1L1211.2 202.0L1212.4 200.7M1212.4 200.7L1212.9 200.1L1214.6 198.3L1216.4 196.5L1218.2 194.9L1218.7 194.6M1218.7 194.6L1220.2 193.5L1222.3 192.2L1224.5 191.1L1225.0 190.9M1225.0 190.9L1226.7 190.3L1229.1 189.6L1231.3 189.2M1231.3 189.2L1231.5 189.1L1234.0 188.9L1236.4 188.9L1237.6 189.0M1237.6 189.0L1238.9 189.1L1241.3 189.6L1243.7 190.2L1243.9 190.3M1243.9 190.3L1246.0 191.1L1248.3 192.2L1250.3 193.4M1250.3 193.4L1250.4 193.5L1252.5 194.9L1254.6 196.4L1256.5 198.1L1256.6 198.2M1256.6 198.2L1258.3 199.9L1260.1 201.7L1261.7 203.6L1262.9 205.1M1262.9 205.1L1263.3 205.6L1264.8 207.6L1266.3 209.7L1267.7 211.8L1269.1 214.0L1269.2 214.2M1269.2 214.2L1270.4 216.1L1271.7 218.3L1273.0 220.5L1274.3 222.7L1275.5 224.7M1275.5 224.7L1275.6 224.8L1276.9 227.0L1278.1 229.2L1279.3 231.4L1280.5 233.6L1281.8 235.8L1281.8 236.0M1281.8 236.0L1282.9 238.0L1284.1 240.2L1285.3 242.4L1286.4 244.6L1287.6 246.8L1288.2 248.0M1288.2 248.0L1288.7 249.1L1289.8 251.3L1290.9 253.5L1292.0 255.8L1293.1 258.0L1294.2 260.3L1294.5 260.8M1294.5 260.8L1295.3 262.5L1296.3 264.8L1297.4 267.1L1298.4 269.3L1299.5 271.6L1300.5 273.9L1300.8 274.6M1300.8 274.6L1301.5 276.2L1302.5 278.5L1303.6 280.8L1304.6 283.1L1305.6 285.4L1306.6 287.7L1307.1 288.8M1307.1 288.8L1307.7 290.0L1308.7 292.3L1309.8 294.6L1310.9 296.9L1311.9 299.2L1313.0 301.5L1313.4 302.3M1313.4 302.3L1314.1 303.7L1315.3 306.0L1316.4 308.2L1317.6 310.4L1318.8 312.6L1319.7 314.3M1319.7 314.3L1320.0 314.8L1321.3 317.0L1322.5 319.1L1323.9 321.3L1325.2 323.4L1326.1 324.7M1326.1 324.7L1326.6 325.5L1328.0 327.6L1329.4 329.6L1330.8 331.6L1332.3 333.7L1332.4 333.8M1332.4 333.8L1333.8 335.7L1335.3 337.7L1336.8 339.7L1338.4 341.7L1338.7 342.0M1338.7 342.0L1339.9 343.6L1341.5 345.6L1343.1 347.5L1344.7 349.5L1345.0 349.9M1345.0 349.9L1346.3 351.4L1347.9 353.4L1349.5 355.3L1351.2 357.3L1351.3 357.4M1351.3 357.4L1352.8 359.2L1354.4 361.1L1356.1 363.0L1357.6 364.8M1357.6 364.8L1357.8 364.9L1359.5 366.8L1361.2 368.7L1362.9 370.5L1364.0 371.6M1364.0 371.6L1364.6 372.3L1366.4 374.1L1368.2 375.8L1370.0 377.6L1370.3 377.8M1370.3 377.8L1371.8 379.3L1373.7 380.9L1375.6 382.5L1376.6 383.4M1376.6 383.4L1377.5 384.1L1379.5 385.7L1381.4 387.2L1382.9 388.3M1382.9 388.3L1383.4 388.6L1385.5 390.1L1387.5 391.5L1389.2 392.6M1389.2 392.6L1389.6 392.8L1391.7 394.2L1393.9 395.4L1395.5 396.4M1395.5 396.4L1396.0 396.7L1398.2 397.9L1400.4 399.2L1401.8 400.0M1401.8 400.0L1402.5 400.4L1404.7 401.7L1406.8 403.1L1408.2 404.0M1408.2 404.0L1408.8 404.5L1410.8 405.9L1412.8 407.4L1414.5 408.9M1414.5 408.9L1414.7 409.0L1416.5 410.7L1418.3 412.4L1420.0 414.2L1420.8 415.1M1420.8 415.1L1421.6 416.1L1423.2 418.0L1424.8 419.9L1426.3 421.9L1427.1 423.1M1427.1 423.1L1427.7 423.9L1429.1 426.0L1430.5 428.1L1431.8 430.2L1433.1 432.4L1433.4 433.0M1433.4 433.0L1434.4 434.6L1435.6 436.8L1436.9 439.0L1438.1 441.3L1439.3 443.5L1439.7 444.4M1439.7 444.4L1440.5 445.8L1441.7 448.0L1442.9 450.3L1444.1 452.5L1445.4 454.7L1446.1 456.0M1446.1 456.0L1446.6 457.0L1447.9 459.2L1449.2 461.3L1450.5 463.5L1451.9 465.5L1452.4 466.2M1452.4 466.2L1453.4 467.5L1454.9 469.5L1456.5 471.3L1458.2 473.0L1458.7 473.5M1458.7 473.5L1460.0 474.7L1461.8 476.2L1463.9 477.5L1465.0 478.2M1465.0 478.2L1466.0 478.7L1468.2 479.8L1470.7 480.6L1471.3 480.8M1471.3 480.8L1473.2 481.3L1476.2 482.9L1477.6 482.9M1477.6 482.9L1484.0 482.9M1484.0 482.9L1490.3 482.9M1490.3 482.9L1496.6 482.9M1496.6 482.9L1502.9 482.9M1502.9 482.9L1509.2 482.9M1509.2 482.9L1515.5 482.9M1515.5 482.9L1521.9 482.9M1521.9 482.9L1528.2 482.9M1528.2 482.9L1534.5 482.9M1534.5 482.9L1540.8 482.9M1540.8 482.9L1547.1 482.9M1547.1 482.9L1553.4 482.9M1553.4 482.9L1559.8 482.9M1559.8 482.9L1566.1 482.9M1566.1 482.9L1572.4 482.9M1572.4 482.9L1578.7 482.9M1578.7 482.9L1585.0 482.9M1585.0 482.9L1591.3 482.9M1591.3 482.9L1597.6 482.9M1597.6 482.9L1604.0 482.9M1604.0 482.9L1610.3 482.9M1610.3 482.9L1616.6 482.9M1616.6 482.9L1622.9 482.9M1622.9 482.9L1629.2 482.9M1629.2 482.9L1635.5 482.9M1635.5 482.9L1641.9 482.9M1641.9 482.9L1648.2 482.9M1648.2 482.9L1654.5 482.9M1654.5 482.9L1660.8 482.9M1660.8 482.9L1667.1 482.9M1667.1 482.9L1671.0 482.9" stroke="#555555" stroke-width="3.4" fill="none" stroke-linejoin="round" stroke-dasharray="10 3.4"/>
<rect x="138.5" y="16.8" width="679.0" height="465.2" fill="none" stroke="#000" stroke-width="3.8" stroke-linejoin="round"/>
<rect x="997.2" y="15.9" width="676.0" height="467.7" fill="none" stroke="#000" stroke-width="3.8" stroke-linejoin="round"/>
<text x="110.8" y="493.4" font-size="34.6" text-anchor="end" letter-spacing="1.0" >0</text>
<text x="110.8" y="377.1" font-size="34.6" text-anchor="end" letter-spacing="1.0" >0.1</text>
<text x="110.8" y="260.8" font-size="34.6" text-anchor="end" letter-spacing="1.0" >0.2</text>
<text x="110.8" y="144.5" font-size="34.6" text-anchor="end" letter-spacing="1.0" >0.3</text>
<text x="110.8" y="26.7" font-size="34.6" text-anchor="end" letter-spacing="1.0" >0.4</text>
<text x="966.8" y="494.6" font-size="34.6" text-anchor="end" letter-spacing="1.0" >0</text>
<text x="966.8" y="377.8" font-size="34.6" text-anchor="end" letter-spacing="1.0" >0.1</text>
<text x="966.8" y="260.9" font-size="34.6" text-anchor="end" letter-spacing="1.0" >0.2</text>
<text x="966.8" y="144.0" font-size="34.6" text-anchor="end" letter-spacing="1.0" >0.3</text>
<text x="966.8" y="25.8" font-size="34.6" text-anchor="end" letter-spacing="1.0" >0.4</text>
<text x="138.8" y="530.6" font-size="35" text-anchor="middle" letter-spacing="0.6">10<tspan font-size="24" dy="-13.5" letter-spacing="0">-2</tspan></text>
<text x="252.0" y="530.6" font-size="35" text-anchor="middle" letter-spacing="0.6">10<tspan font-size="24" dy="-13.5" letter-spacing="0">-1</tspan></text>
<text x="365.1" y="530.6" font-size="35" text-anchor="middle" letter-spacing="0.6">10<tspan font-size="24" dy="-13.5" letter-spacing="0">0</tspan></text>
<text x="478.3" y="530.6" font-size="35" text-anchor="middle" letter-spacing="0.6">10<tspan font-size="24" dy="-13.5" letter-spacing="0">1</tspan></text>
<text x="591.5" y="530.6" font-size="35" text-anchor="middle" letter-spacing="0.6">10<tspan font-size="24" dy="-13.5" letter-spacing="0">2</tspan></text>
<text x="704.6" y="530.6" font-size="35" text-anchor="middle" letter-spacing="0.6">10<tspan font-size="24" dy="-13.5" letter-spacing="0">3</tspan></text>
<text x="815.1" y="530.6" font-size="35" text-anchor="middle" letter-spacing="0.6">10<tspan font-size="24" dy="-13.5" letter-spacing="0">4</tspan></text>
<text x="997.6" y="530.6" font-size="35" text-anchor="middle" letter-spacing="0.6">10<tspan font-size="24" dy="-13.5" letter-spacing="0">-4</tspan></text>
<text x="1132.8" y="530.6" font-size="35" text-anchor="middle" letter-spacing="0.6">10<tspan font-size="24" dy="-13.5" letter-spacing="0">-3</tspan></text>
<text x="1268.0" y="530.6" font-size="35" text-anchor="middle" letter-spacing="0.6">10<tspan font-size="24" dy="-13.5" letter-spacing="0">-2</tspan></text>
<text x="1403.2" y="530.6" font-size="35" text-anchor="middle" letter-spacing="0.6">10<tspan font-size="24" dy="-13.5" letter-spacing="0">-1</tspan></text>
<text x="1538.4" y="530.6" font-size="35" text-anchor="middle" letter-spacing="0.6">10<tspan font-size="24" dy="-13.5" letter-spacing="0">0</tspan></text>
<text x="1673.6" y="530.6" font-size="35" text-anchor="middle" letter-spacing="0.6">10<tspan font-size="24" dy="-13.5" letter-spacing="0">1</tspan></text>
<text y="580.3" font-size="34"><tspan x="426.3" font-style="italic">T</tspan><tspan font-size="19.5" dx="0.5">2</tspan><tspan x="466.1" letter-spacing="2.1">(ms)</tspan></text>
<text y="580.3" font-size="34"><tspan x="1161.3" letter-spacing="1.7">Pore-throat</tspan><tspan x="1341.5" letter-spacing="1.64">radius</tspan><tspan x="1441.3" letter-spacing="2.0">(μm)</tspan></text>
<text transform="translate(27.4 0) rotate(-90)" font-size="33.3"><tspan x="-440.2" letter-spacing="2.6">Incremental</tspan><tspan x="-248.0" letter-spacing="1.64">porosity</tspan><tspan x="-117.2" letter-spacing="2.65">(%)</tspan></text>
<text transform="translate(883.3 0) rotate(-90)" font-size="33.3"><tspan x="-440.6" letter-spacing="2.6">Incremental</tspan><tspan x="-248.4" letter-spacing="1.64">porosity</tspan><tspan x="-117.6" letter-spacing="2.65">(%)</tspan></text>
<text x="172.1" y="59.3" font-size="41.5" text-anchor="start" letter-spacing="1.85" >(a)</text>
<text x="1028.9" y="63.8" font-size="41.5" text-anchor="start" letter-spacing="1.95" >(b)</text>
<path d="M690.1 42.7H737.2" stroke="#f80000" stroke-width="3.7"/>
<text x="746.5" y="51.8" font-size="28.5" text-anchor="start" letter-spacing="0.5" >L50</text>
<path d="M690.1 72.8H737.2" stroke="#f80000" stroke-width="3.7" stroke-dasharray="5.1 2.8 3.7 3.3 3.2 3.3 3.2 3.3 3.2 3.3 3.7 3.2 3.7 100"/>
<text x="746.5" y="81.9" font-size="28.5" text-anchor="start" letter-spacing="0.5" >L54</text>
<path d="M690.1 102.8H737.2" stroke="#f80000" stroke-width="3.7" stroke-dasharray="11.4 3.2 9.8 3.2 10.2 3.2 10"/>
<text x="746.5" y="111.9" font-size="28.5" text-anchor="start" letter-spacing="0.5" >H153</text>
<path d="M690.1 132.9H737.2" stroke="#ffb800" stroke-width="3.7"/>
<text x="746.5" y="142.0" font-size="28.5" text-anchor="start" letter-spacing="0.5" >H35</text>
<path d="M690.1 163.0H737.2" stroke="#ffb800" stroke-width="3.7" stroke-dasharray="5.1 2.8 3.7 3.3 3.2 3.3 3.2 3.3 3.2 3.3 3.7 3.2 3.7 100"/>
<text x="746.5" y="172.1" font-size="28.5" text-anchor="start" letter-spacing="0.5" >H36</text>
<path d="M690.1 193.1H737.2" stroke="#ffb800" stroke-width="3.7" stroke-dasharray="11.4 3.2 9.8 3.2 10.2 3.2 10"/>
<text x="746.5" y="202.2" font-size="28.5" text-anchor="start" letter-spacing="0.5" >H37</text>
<path d="M690.1 223.1H737.2" stroke="#0000f0" stroke-width="3.7"/>
<text x="746.5" y="232.2" font-size="28.5" text-anchor="start" letter-spacing="0.5" >L91</text>
<path d="M690.1 253.2H737.2" stroke="#0000f0" stroke-width="3.7" stroke-dasharray="5.1 2.8 3.7 3.3 3.2 3.3 3.2 3.3 3.2 3.3 3.7 3.2 3.7 100"/>
<text x="746.5" y="262.3" font-size="28.5" text-anchor="start" letter-spacing="0.5" >L71</text>
<path d="M690.1 283.3H737.2" stroke="#0000f0" stroke-width="3.7" stroke-dasharray="11.4 3.2 9.8 3.2 10.2 3.2 10"/>
<text x="746.5" y="292.4" font-size="28.5" text-anchor="start" letter-spacing="0.5" >H13</text>
<path d="M690.1 313.3H737.2" stroke="#0000f0" stroke-width="3.7" stroke-dasharray="14.5 9.7"/>
<text x="746.5" y="322.4" font-size="28.5" text-anchor="start" letter-spacing="0.5" >H39</text>
<path d="M690.1 343.4H737.2" stroke="#555555" stroke-width="3.7"/>
<text x="746.5" y="352.5" font-size="28.5" text-anchor="start" letter-spacing="0.5" >H19</text>
<path d="M690.1 373.5H737.2" stroke="#555555" stroke-width="3.7" stroke-dasharray="5.1 2.8 3.7 3.3 3.2 3.3 3.2 3.3 3.2 3.3 3.7 3.2 3.7 100"/>
<text x="746.5" y="382.6" font-size="28.5" text-anchor="start" letter-spacing="0.5" >H21</text>
<path d="M690.1 403.5H737.2" stroke="#555555" stroke-width="3.7" stroke-dasharray="11.4 3.2 9.8 3.2 10.2 3.2 10"/>
<text x="746.5" y="412.6" font-size="28.5" text-anchor="start" letter-spacing="0.5" >H22</text>
<path d="M1547.6 42.7H1595.2" stroke="#f80000" stroke-width="3.7"/>
<text x="1603.9" y="51.8" font-size="28.5" text-anchor="start" letter-spacing="0.5" >L50</text>
<path d="M1547.6 72.8H1595.2" stroke="#f80000" stroke-width="3.7" stroke-dasharray="5.1 2.8 3.7 3.3 3.2 3.3 3.2 3.3 3.2 3.3 3.7 3.2 3.7 100"/>
<text x="1603.9" y="81.9" font-size="28.5" text-anchor="start" letter-spacing="0.5" >L54</text>
<path d="M1547.6 102.8H1595.2" stroke="#f80000" stroke-width="3.7" stroke-dasharray="11.4 3.2 9.8 3.2 10.2 3.2 10"/>
<text x="1603.9" y="111.9" font-size="28.5" text-anchor="start" letter-spacing="0.5" >H153</text>
<path d="M1547.6 132.9H1595.2" stroke="#ffb800" stroke-width="3.7"/>
<text x="1603.9" y="142.0" font-size="28.5" text-anchor="start" letter-spacing="0.5" >H35</text>
<path d="M1547.6 163.0H1595.2" stroke="#ffb800" stroke-width="3.7" stroke-dasharray="5.1 2.8 3.7 3.3 3.2 3.3 3.2 3.3 3.2 3.3 3.7 3.2 3.7 100"/>
<text x="1603.9" y="172.1" font-size="28.5" text-anchor="start" letter-spacing="0.5" >H36</text>
<path d="M1547.6 193.1H1595.2" stroke="#ffb800" stroke-width="3.7" stroke-dasharray="11.4 3.2 9.8 3.2 10.2 3.2 10"/>
<text x="1603.9" y="202.2" font-size="28.5" text-anchor="start" letter-spacing="0.5" >H37</text>
<path d="M1547.6 223.1H1595.2" stroke="#0000f0" stroke-width="3.7"/>
<text x="1603.9" y="232.2" font-size="28.5" text-anchor="start" letter-spacing="0.5" >L91</text>
<path d="M1547.6 253.2H1595.2" stroke="#0000f0" stroke-width="3.7" stroke-dasharray="5.1 2.8 3.7 3.3 3.2 3.3 3.2 3.3 3.2 3.3 3.7 3.2 3.7 100"/>
<text x="1603.9" y="262.3" font-size="28.5" text-anchor="start" letter-spacing="0.5" >L71</text>
<path d="M1547.6 283.3H1595.2" stroke="#0000f0" stroke-width="3.7" stroke-dasharray="11.4 3.2 9.8 3.2 10.2 3.2 10"/>
<text x="1603.9" y="292.4" font-size="28.5" text-anchor="start" letter-spacing="0.5" >H13</text>
<path d="M1547.6 313.3H1595.2" stroke="#0000f0" stroke-width="3.7" stroke-dasharray="14.5 9.7"/>
<text x="1603.9" y="322.4" font-size="28.5" text-anchor="start" letter-spacing="0.5" >H39</text>
<path d="M1547.6 343.4H1595.2" stroke="#555555" stroke-width="3.7"/>
<text x="1603.9" y="352.5" font-size="28.5" text-anchor="start" letter-spacing="0.5" >H19</text>
<path d="M1547.6 373.5H1595.2" stroke="#555555" stroke-width="3.7" stroke-dasharray="5.1 2.8 3.7 3.3 3.2 3.3 3.2 3.3 3.2 3.3 3.7 3.2 3.7 100"/>
<text x="1603.9" y="382.6" font-size="28.5" text-anchor="start" letter-spacing="0.5" >H21</text>
<path d="M1547.6 403.5H1595.2" stroke="#555555" stroke-width="3.7" stroke-dasharray="11.4 3.2 9.8 3.2 10.2 3.2 10"/>
<text x="1603.9" y="412.6" font-size="28.5" text-anchor="start" letter-spacing="0.5" >H22</text>
</g></svg>
</body></html>
